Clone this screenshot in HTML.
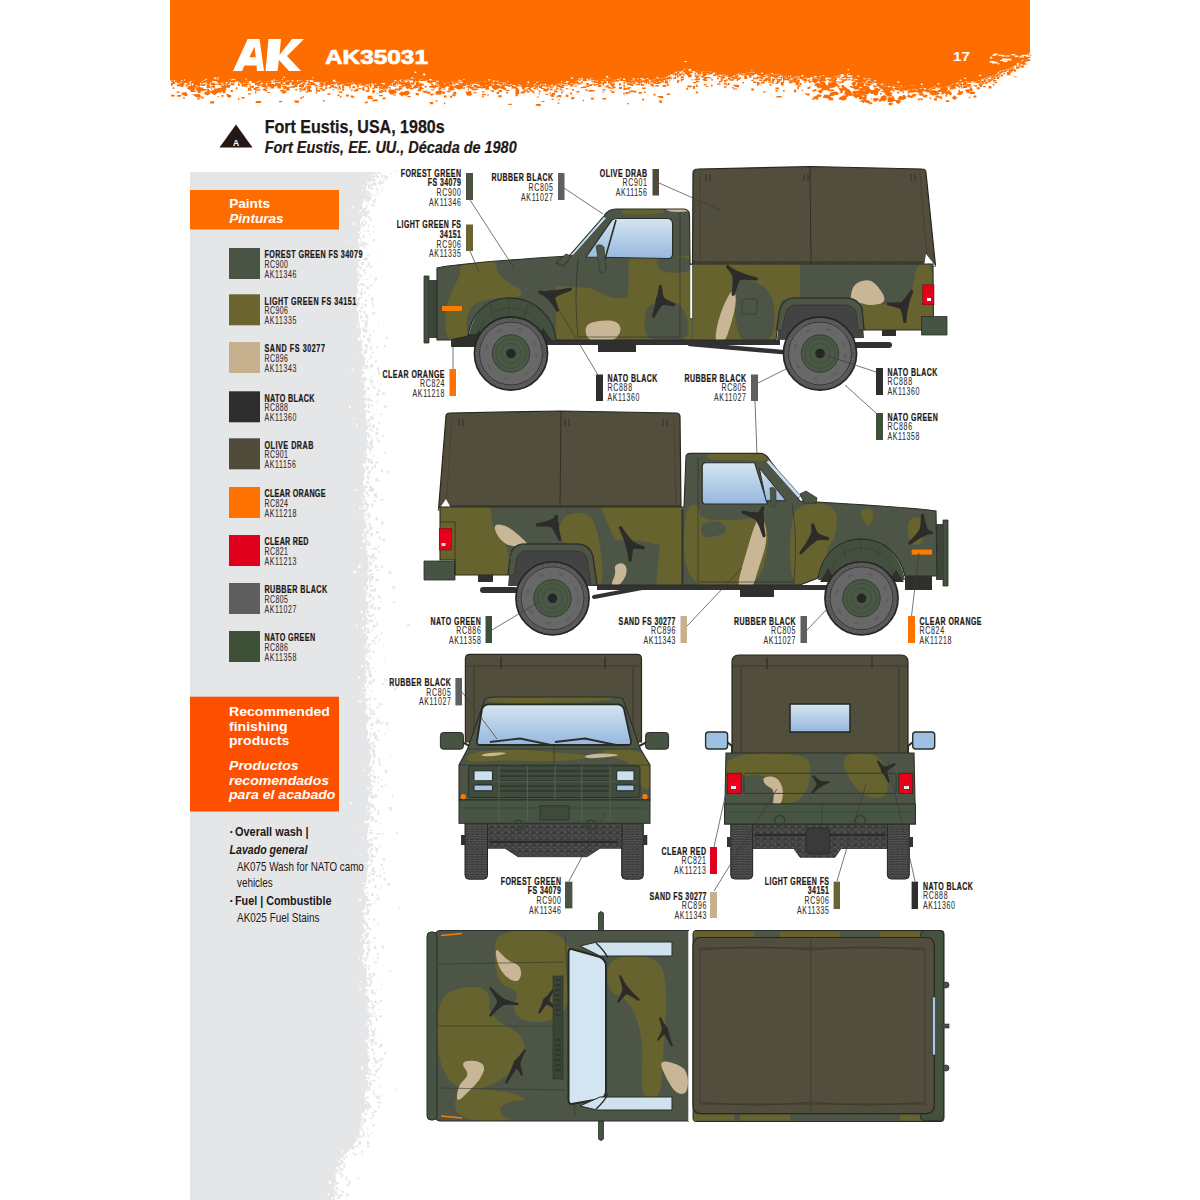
<!DOCTYPE html>
<html><head><meta charset="utf-8"><style>
html,body{margin:0;padding:0;background:#fff;width:1200px;height:1200px;overflow:hidden}
svg{display:block;font-family:"Liberation Sans",sans-serif}
</style></head><body>
<svg width="1200" height="1200" viewBox="0 0 1200 1200">
<rect width="1200" height="1200" fill="#fff"/>
<path d="M170.0,0.0 L1030.0,0.0 L1030.0,53.0 L1027.5,54.5 L1025.0,57.9 L1020.0,62.3 L1015.0,65.8 L1010.0,68.6 L1005.0,70.1 L1000.0,70.8 L995.0,74.9 L990.0,76.5 L985.0,77.9 L980.8,80.0 L976.7,81.2 L972.5,81.4 L968.3,81.1 L964.2,82.1 L960.0,83.2 L956.0,83.6 L952.0,84.4 L948.0,86.6 L944.0,87.1 L940.0,87.3 L936.0,86.0 L932.0,87.8 L928.0,87.2 L924.0,86.1 L920.0,86.3 L916.0,85.4 L912.0,85.2 L908.0,86.0 L904.0,86.3 L900.0,85.2 L895.7,85.9 L891.4,85.2 L887.1,84.3 L882.9,83.6 L878.6,83.2 L874.3,81.8 L870.0,79.2 L866.0,78.3 L862.0,78.4 L858.0,76.5 L854.0,76.0 L850.0,73.0 L846.0,74.0 L842.0,74.1 L838.0,75.8 L834.0,76.7 L830.0,77.4 L826.0,76.5 L822.0,75.4 L818.0,77.3 L814.0,76.5 L810.0,78.1 L805.7,79.1 L801.4,76.0 L797.1,76.1 L792.9,77.8 L788.6,75.9 L784.3,75.8 L780.0,74.8 L775.7,74.3 L771.4,75.1 L767.1,74.6 L762.9,75.8 L758.6,74.9 L754.3,72.3 L750.0,72.6 L746.0,73.1 L742.0,73.5 L738.0,73.7 L734.0,75.7 L730.0,77.1 L726.0,74.0 L722.0,74.4 L718.0,73.0 L714.0,72.6 L710.0,71.5 L705.8,71.2 L701.7,71.5 L697.5,70.5 L693.3,70.1 L689.2,69.2 L685.0,68.7 L681.0,71.8 L677.0,71.6 L673.0,73.9 L669.0,75.3 L665.0,77.9 L660.8,78.6 L656.7,78.8 L652.5,79.7 L648.3,77.7 L644.2,80.0 L640.0,80.4 L635.7,80.0 L631.4,80.6 L627.1,81.4 L622.9,80.2 L618.6,79.6 L614.3,79.8 L610.0,78.5 L605.7,79.1 L601.4,80.0 L597.1,79.5 L592.9,78.6 L588.6,78.5 L584.3,78.2 L580.0,78.0 L576.0,81.4 L572.0,82.2 L568.0,81.6 L564.0,82.7 L560.0,83.3 L556.0,85.2 L552.0,85.2 L548.0,85.5 L544.0,84.5 L540.0,84.3 L536.0,83.3 L532.0,85.8 L528.0,84.5 L524.0,84.1 L520.0,83.9 L515.7,85.4 L511.4,82.8 L507.1,82.6 L502.9,82.3 L498.6,82.7 L494.3,81.0 L490.0,82.5 L485.8,81.6 L481.7,81.2 L477.5,82.7 L473.3,83.1 L469.2,82.0 L465.0,82.1 L460.8,80.1 L456.7,81.8 L452.5,81.2 L448.3,82.5 L444.2,82.1 L440.0,80.9 L435.7,80.8 L431.4,80.4 L427.1,80.3 L422.9,78.7 L418.6,80.0 L414.3,78.6 L410.0,78.8 L406.0,79.7 L402.0,79.0 L398.0,81.6 L394.0,81.8 L390.0,84.8 L385.8,83.7 L381.7,82.7 L377.5,85.2 L373.3,83.0 L369.2,84.3 L365.0,84.6 L360.8,83.5 L356.7,83.6 L352.5,82.5 L348.3,83.8 L344.2,84.0 L340.0,82.4 L336.0,82.7 L332.0,82.9 L328.0,81.8 L324.0,82.0 L320.0,82.5 L316.0,80.9 L312.0,80.3 L308.0,80.1 L304.0,81.3 L300.0,80.6 L296.0,81.5 L292.0,81.4 L288.0,80.3 L284.0,82.3 L280.0,80.9 L276.0,80.5 L272.0,80.6 L268.0,81.2 L264.0,83.0 L260.0,80.6 L255.7,83.1 L251.4,81.1 L247.1,81.4 L242.9,82.2 L238.6,81.0 L234.3,79.5 L230.0,78.9 L225.7,81.3 L221.4,80.3 L217.1,79.6 L212.9,79.9 L208.6,81.2 L204.3,80.3 L200.0,82.0 L195.7,80.5 L191.4,81.3 L187.1,81.7 L182.9,80.1 L178.6,81.7 L174.3,80.1 L170.0,80.5 Z" fill="#fe6d00"/>
<path fill="#fe6d00" d="M171.0 80.4h2.1v1.9h-2.1zM171.0 82.9h2.2v2.1h-2.2zM171.0 85.2h1.5v1.1h-1.5zM171.0 94.7h3.7v1.7h-3.7zM172.5 80.3h1.5v2.1h-1.5zM172.5 81.9h2.7v2.1h-2.7zM172.5 87.6h2.3v1.1h-2.3zM174.8 80.3h2.8v1.6h-2.8zM176.8 81.1h3.5v2.2h-3.5zM176.8 84.3h3.8v2.0h-3.8zM176.8 91.4h2.6v1.5h-2.6zM179.0 81.6h1.6v2.1h-1.6zM179.0 84.9h3.0v1.5h-3.0zM180.8 80.9h2.1v0.9h-2.1zM180.8 82.5h3.1v1.6h-3.1zM180.8 83.9h3.6v1.0h-3.6zM183.0 80.2h1.9v1.2h-1.9zM183.0 81.8h1.6v1.5h-1.6zM183.0 97.5h2.0v1.2h-2.0zM184.7 80.8h3.8v1.1h-3.8zM186.6 81.5h2.8v1.8h-2.8zM186.6 83.4h3.3v1.9h-3.3zM186.6 87.4h3.1v1.2h-3.1zM188.4 81.6h1.4v1.2h-1.4zM188.4 85.9h2.5v1.5h-2.5zM188.4 87.7h3.5v1.2h-3.5zM190.7 81.4h1.8v2.1h-1.8zM190.7 83.3h1.2v1.5h-1.2zM190.7 85.1h1.6v1.3h-1.6zM190.7 90.3h3.6v1.8h-3.6zM192.5 81.1h2.2v2.1h-2.2zM192.5 90.4h3.1v1.5h-3.1zM192.5 94.2h3.6v1.1h-3.6zM193.9 80.9h1.7v2.1h-1.7zM193.9 82.8h3.6v2.2h-3.6zM193.9 84.6h1.7v1.0h-1.7zM193.9 86.3h1.8v1.2h-1.8zM195.6 80.6h3.7v2.0h-3.7zM195.6 83.0h1.3v1.8h-1.3zM195.6 87.4h2.2v2.1h-2.2zM197.1 81.0h2.9v1.3h-2.9zM197.1 82.4h2.9v1.8h-2.9zM197.1 83.7h2.6v1.7h-2.6zM197.1 85.5h2.8v0.9h-2.8zM197.1 97.8h2.5v1.8h-2.5zM197.1 91.1h3.7v2.0h-2.8zM199.2 81.8h2.5v1.2h-2.5zM199.2 84.3h3.3v1.2h-3.3zM199.2 89.3h1.8v1.4h-1.8zM199.2 95.8h1.4v1.4h-1.4zM201.3 81.5h2.9v1.4h-2.9zM201.3 83.2h1.6v0.9h-1.6zM201.3 84.8h3.7v1.1h-3.7zM201.3 87.4h2.1v2.0h-2.1zM201.3 96.6h2.3v2.0h-2.3zM202.9 80.9h3.7v1.7h-3.7zM202.9 84.1h1.2v1.9h-1.2zM202.9 89.1h1.8v1.5h-1.8zM204.5 80.4h3.2v1.0h-3.2zM204.5 83.4h1.3v1.6h-1.3zM204.5 89.1h1.5v1.5h-1.5zM206.6 80.8h1.8v1.2h-1.8zM206.6 84.2h2.2v2.2h-2.2zM206.6 86.2h3.3v1.7h-3.3zM206.6 88.7h2.4v2.0h-2.4zM208.5 81.2h1.8v1.4h-1.8zM208.5 82.6h1.9v1.7h-1.9zM208.5 84.7h1.2v1.3h-1.2zM208.5 86.9h2.0v1.2h-2.0zM208.5 90.5h2.2v1.6h-2.2zM208.5 92.6h1.6v1.8h-1.6zM210.6 80.6h1.2v2.1h-1.2zM210.6 86.0h1.2v1.6h-1.2zM210.6 101.2h3.6v2.4h-4.5zM212.8 79.9h3.2v1.2h-3.2zM212.8 84.0h1.8v1.4h-1.8zM212.8 93.0h3.4v1.1h-3.4zM214.0 79.8h2.5v1.2h-2.5zM214.0 83.9h2.4v1.0h-2.4zM214.0 88.5h2.9v1.0h-2.9zM214.0 92.7h2.5v1.4h-2.5zM216.3 79.7h3.2v2.1h-3.2zM216.3 81.0h3.2v1.1h-3.2zM216.3 83.4h3.3v1.1h-3.3zM217.6 81.8h3.3v1.2h-3.3zM217.6 87.9h3.1v1.0h-3.1zM217.6 96.0h1.3v1.1h-1.3zM217.6 83.8h3.4v1.2h-3.4zM219.1 80.0h2.7v1.2h-2.7zM219.1 82.0h1.6v2.1h-1.6zM219.1 83.6h1.4v1.7h-1.4zM221.4 80.3h1.7v1.7h-1.7zM221.4 82.3h3.3v1.1h-3.3zM221.4 83.9h1.3v2.1h-1.3zM221.4 94.9h2.1v1.9h-2.1zM223.0 80.7h3.7v1.2h-3.7zM223.0 83.1h1.9v1.2h-1.9zM224.4 81.0h1.4v2.1h-1.4zM224.4 82.4h1.5v2.1h-1.5zM224.4 84.1h1.3v1.0h-1.3zM226.4 80.9h1.5v1.0h-1.5zM226.4 83.2h2.0v1.5h-2.0zM226.4 84.4h1.9v1.8h-1.9zM226.4 86.1h3.7v1.6h-3.7zM227.6 80.2h2.5v1.9h-2.5zM227.6 81.7h2.1v2.0h-2.1zM227.6 84.8h3.0v1.5h-3.0zM229.2 79.3h1.8v1.5h-1.8zM230.7 79.0h2.6v1.1h-2.6zM230.7 80.6h3.7v1.8h-3.7zM230.7 83.3h3.8v1.9h-3.8zM230.7 90.1h2.2v1.9h-2.2zM232.4 79.2h3.1v2.0h-3.1zM234.2 80.7h1.6v1.9h-1.6zM235.9 80.0h2.1v1.2h-2.1zM235.9 87.3h1.5v1.9h-1.5zM238.1 80.8h2.2v1.2h-2.2zM238.1 82.6h1.2v1.8h-1.2zM238.1 84.2h2.0v1.5h-2.0zM238.1 97.8h1.2v2.1h-1.2zM239.8 81.3h3.6v1.9h-3.6zM241.6 81.8h1.2v2.0h-1.2zM241.6 83.7h2.9v2.0h-2.9zM241.6 85.4h3.7v1.0h-3.7zM241.6 96.9h3.1v1.7h-3.1zM243.8 82.0h3.4v1.4h-3.4zM243.8 83.9h2.5v2.2h-2.5zM245.7 81.6h3.0v1.7h-3.0zM245.7 83.8h2.9v1.5h-2.9zM245.7 86.1h1.7v0.9h-1.7zM248.0 81.3h1.2v1.4h-1.2zM248.0 87.7h2.9v1.2h-2.9zM248.0 89.1h1.2v1.8h-1.2zM248.0 93.2h3.1v1.2h-3.1zM249.5 83.4h1.2v1.7h-1.2zM249.5 85.8h2.0v1.8h-2.0zM249.5 89.1h2.2v1.6h-2.2zM251.6 81.2h2.1v1.7h-2.1zM251.6 85.8h2.3v2.1h-2.3zM253.6 82.2h2.1v1.0h-2.1zM253.6 88.1h2.8v1.8h-2.8zM255.0 82.8h2.1v1.6h-2.1zM255.0 84.6h1.6v1.0h-1.6zM255.0 87.2h1.5v1.7h-1.5zM255.0 89.5h2.8v1.3h-2.8zM255.0 91.4h1.3v2.2h-1.3zM256.3 82.8h2.6v2.0h-2.6zM256.3 87.1h2.8v1.4h-2.8zM256.3 100.9h4.8v2.0h-5.9zM257.6 82.0h3.2v2.1h-3.2zM257.6 84.2h2.7v1.9h-2.7zM257.6 85.5h1.9v1.1h-1.9zM257.6 87.4h1.8v1.1h-1.8zM257.6 89.6h3.1v1.2h-3.1zM259.1 81.2h3.1v1.6h-3.1zM259.1 84.2h1.6v1.3h-1.6zM261.3 81.4h3.1v1.3h-3.1zM261.3 84.0h3.3v1.3h-3.3zM261.3 85.4h3.4v1.6h-3.4zM262.8 82.3h3.1v1.4h-3.1zM262.8 84.5h3.3v1.3h-3.3zM262.8 88.7h3.6v1.5h-3.6zM264.4 82.8h1.4v2.0h-1.4zM264.4 85.3h2.5v1.6h-2.5zM264.4 87.3h3.7v1.2h-3.7zM264.4 88.7h1.9v2.0h-1.9zM264.4 90.0h3.0v1.2h-3.0zM265.8 82.2h3.1v1.1h-3.1zM267.3 81.5h2.8v1.4h-2.8zM267.3 83.4h2.3v1.6h-2.3zM267.3 84.6h3.7v1.9h-3.7zM267.3 91.9h2.9v1.2h-2.9zM268.7 81.1h3.7v1.6h-3.7zM268.7 82.7h2.6v1.1h-2.6zM268.7 84.0h2.0v1.4h-2.0zM268.7 85.6h1.4v1.6h-1.4zM270.5 80.8h1.9v2.2h-1.9zM270.5 83.9h3.5v1.5h-3.5zM270.5 85.2h2.3v1.9h-2.3zM270.5 86.5h3.7v1.9h-3.7zM272.8 80.6h3.2v1.7h-3.2zM272.8 84.5h3.2v2.0h-3.2zM275.1 80.5h3.4v2.0h-3.4zM275.1 83.0h2.3v2.1h-2.3zM275.1 84.3h2.7v1.5h-2.7zM277.4 80.6h2.3v1.7h-2.3zM277.4 83.2h2.6v2.0h-2.6zM277.4 84.7h3.7v2.0h-3.7zM277.4 86.6h3.5v1.8h-3.5zM279.0 80.8h1.2v1.3h-1.2zM279.0 83.2h2.9v1.2h-2.9zM279.0 100.9h3.2v1.3h-3.2zM280.4 81.1h1.5v2.1h-1.5zM280.4 83.1h2.4v1.4h-2.4zM280.4 89.7h3.6v2.0h-3.6zM281.9 81.6h2.1v1.1h-2.1zM281.9 84.2h2.7v1.0h-2.7zM281.9 86.1h2.2v1.0h-2.2zM281.9 92.2h2.9v1.3h-2.9zM283.3 84.0h2.4v1.1h-2.4zM283.3 86.2h3.5v1.7h-3.5zM283.3 87.9h2.8v1.2h-2.8zM283.3 90.3h2.5v1.6h-2.5zM283.3 91.7h2.9v1.2h-4.9zM284.9 81.9h3.6v1.9h-3.6zM284.9 85.7h1.3v1.8h-1.3zM286.1 81.3h2.9v1.1h-2.9zM286.1 83.7h3.1v1.2h-3.1zM286.1 87.2h3.4v1.9h-3.4zM286.1 88.8h3.4v1.7h-3.4zM288.5 80.5h3.1v2.0h-3.1zM288.5 82.5h1.3v1.8h-1.3zM288.5 86.8h3.2v1.0h-3.2zM290.3 81.0h3.6v1.4h-3.6zM291.6 81.3h3.8v1.9h-3.8zM291.6 82.6h3.7v1.6h-3.7zM291.6 84.0h2.3v1.1h-2.3zM291.6 86.0h3.6v1.7h-3.6zM293.7 81.5h2.2v1.6h-2.2zM293.7 84.7h2.7v1.7h-2.7zM293.7 100.6h5.4v2.2h-3.7zM295.3 81.5h2.5v1.4h-2.5zM295.3 83.2h2.9v2.0h-2.9zM295.3 85.6h2.0v1.5h-2.0zM295.3 89.1h2.0v1.5h-2.0zM297.3 81.2h2.1v2.1h-2.1zM297.3 82.5h3.0v1.5h-3.0zM299.0 80.9h2.3v2.0h-2.3zM299.0 85.1h3.8v1.8h-3.8zM299.0 88.2h3.7v1.6h-3.7zM299.0 90.5h3.2v1.0h-3.2zM300.4 80.7h2.1v1.9h-2.1zM300.4 84.2h3.1v2.1h-3.1zM300.4 86.4h2.8v1.0h-2.8zM300.4 97.1h1.5v1.9h-1.5zM302.4 81.0h3.7v0.9h-3.7zM302.4 82.7h2.5v2.0h-2.5zM302.4 85.0h1.7v2.0h-1.7zM302.4 89.1h3.4v1.4h-3.4zM302.4 96.3h1.6v1.4h-1.6zM303.6 81.3h2.9v1.3h-2.9zM303.6 82.9h1.9v1.6h-1.9zM303.6 87.4h2.7v1.9h-2.7zM305.5 80.9h1.4v1.3h-1.4zM305.5 84.4h1.8v1.2h-1.8zM305.5 86.1h1.2v2.0h-1.2zM305.5 91.4h2.0v1.3h-2.0zM307.2 80.3h1.4v1.5h-1.4zM307.2 82.8h1.9v0.9h-1.9zM307.2 84.2h3.0v1.2h-3.0zM307.2 86.0h2.8v2.0h-2.8zM307.2 88.1h3.1v2.2h-3.1zM307.2 90.1h3.3v2.0h-3.3zM308.5 80.1h1.3v1.7h-1.3zM308.5 81.8h2.8v1.2h-2.8zM308.5 83.6h3.6v1.6h-3.6zM308.5 86.2h2.8v1.8h-2.8zM308.5 87.9h1.6v1.1h-1.6zM308.5 90.1h3.3v1.5h-3.3zM310.6 82.0h2.6v2.1h-2.6zM310.6 83.4h2.4v1.8h-2.4zM310.6 90.6h1.3v1.1h-1.3zM313.0 80.4h2.9v1.3h-2.9zM313.0 82.8h2.0v2.1h-2.0zM314.4 80.7h3.5v1.2h-3.5zM314.4 84.5h2.5v2.1h-2.5zM315.7 80.9h3.0v1.0h-3.0zM315.7 87.3h1.8v1.9h-1.8zM315.7 89.5h2.5v1.2h-2.5zM315.7 91.3h1.3v2.2h-1.3zM317.1 85.4h1.9v1.0h-1.9zM317.1 90.1h3.0v1.7h-3.0zM319.5 82.4h2.8v2.1h-2.8zM319.5 83.9h2.2v1.2h-2.2zM319.5 85.4h3.4v1.9h-3.4zM319.5 87.9h3.0v1.3h-3.0zM321.6 82.3h2.8v1.6h-2.8zM321.6 83.8h1.9v2.1h-1.9zM321.6 89.1h3.6v1.6h-3.6zM322.9 82.1h1.5v1.4h-1.5zM322.9 84.5h2.4v1.0h-2.4zM322.9 100.0h1.7v1.6h-1.7zM325.1 81.9h2.9v2.0h-2.9zM325.1 83.4h3.3v1.7h-3.3zM325.1 85.1h2.4v1.4h-2.4zM325.1 87.3h2.3v1.7h-2.3zM327.4 81.9h1.3v1.7h-1.3zM327.4 83.7h3.4v1.4h-3.4zM327.4 93.2h3.0v1.6h-3.0zM328.7 82.0h2.3v1.7h-2.3zM328.7 87.0h2.1v1.6h-2.1zM330.4 82.5h2.7v1.4h-2.7zM330.4 84.8h3.6v1.6h-3.6zM330.4 86.1h2.6v1.4h-2.6zM332.8 82.8h3.3v1.5h-3.3zM332.8 86.6h3.4v1.1h-3.4zM332.8 89.1h1.5v1.0h-1.5zM335.1 82.7h3.4v1.1h-3.4zM335.1 86.8h2.2v1.7h-2.2zM337.4 82.6h2.5v2.0h-2.5zM337.4 84.6h1.4v1.1h-1.4zM337.4 88.6h3.6v0.9h-3.6zM337.4 94.4h2.1v1.5h-2.1zM338.6 82.5h1.5v1.7h-1.5zM338.6 83.9h2.1v1.4h-2.1zM338.6 86.0h1.6v2.1h-1.6zM338.6 91.5h3.5v1.1h-3.5zM339.8 82.4h2.5v1.9h-2.5zM339.8 87.3h1.3v1.4h-1.3zM339.8 91.7h2.7v1.2h-2.7zM339.8 95.9h1.8v1.7h-1.8zM342.1 83.2h3.6v1.4h-3.6zM342.1 85.0h1.8v1.9h-1.8zM342.1 87.1h2.1v1.1h-2.1zM342.1 88.6h2.1v2.2h-2.1zM344.2 84.0h3.4v2.1h-3.4zM346.0 83.9h2.5v2.1h-2.5zM346.0 94.4h2.9v2.0h-2.9zM347.6 83.8h2.8v1.3h-2.8zM347.6 85.1h3.0v1.5h-3.0zM349.4 83.4h1.7v2.1h-1.7zM349.4 86.8h1.5v1.6h-1.5zM350.7 83.0h3.0v1.6h-3.0zM350.7 89.6h2.0v1.1h-2.0zM350.7 95.5h2.2v1.9h-2.2zM352.4 86.3h2.7v2.0h-2.7zM352.4 96.3h2.0v1.4h-2.0zM354.0 82.9h3.7v1.2h-3.7zM354.0 89.9h3.2v1.5h-3.2zM355.5 83.3h1.4v1.6h-1.4zM355.5 88.7h2.9v2.2h-2.9zM356.8 83.6h2.5v2.0h-2.5zM356.8 85.7h2.2v1.6h-2.2zM358.4 83.5h1.8v1.0h-1.8zM358.4 88.0h3.0v1.0h-3.0zM360.5 83.5h1.3v1.9h-1.3zM360.5 84.7h2.3v1.0h-2.3zM362.1 83.8h2.2v1.3h-2.2zM362.1 87.2h1.7v1.8h-1.7zM362.1 88.7h2.7v1.8h-2.7zM363.4 84.2h2.1v2.1h-2.1zM363.4 86.5h1.5v1.0h-1.5zM365.6 84.6h1.5v0.9h-1.5zM365.6 86.1h2.2v0.9h-2.2zM365.6 90.3h3.5v1.6h-3.5zM365.6 101.6h2.2v1.7h-3.6zM367.6 84.4h1.8v1.7h-1.8zM367.6 86.6h1.6v2.1h-1.6zM367.6 88.6h1.8v2.2h-1.8zM367.6 95.8h3.7v1.9h-3.7zM367.6 97.0h1.8v2.1h-1.8zM369.9 84.0h1.7v1.9h-1.7zM369.9 85.5h1.5v1.9h-1.5zM369.9 96.3h2.6v1.3h-2.6zM369.9 98.1h3.1v0.9h-3.1zM372.3 83.3h2.1v1.0h-2.1zM372.3 87.9h2.2v1.3h-2.2zM372.3 90.2h2.8v2.2h-2.8zM372.3 92.5h1.4v1.0h-1.4zM372.3 99.6h5.4v1.6h-5.5zM373.7 83.2h2.3v1.8h-2.3zM373.7 84.8h2.1v1.3h-2.1zM373.7 86.1h3.8v1.8h-3.8zM375.3 84.1h2.2v1.6h-2.2zM375.3 86.6h2.6v1.7h-2.6zM376.5 84.7h1.7v1.2h-1.7zM376.5 92.9h1.4v0.9h-1.4zM378.9 84.4h3.4v0.9h-3.4zM378.9 86.7h3.4v1.9h-3.4zM378.9 88.9h1.2v1.1h-1.2zM378.9 91.3h2.9v1.7h-2.9zM378.9 94.9h3.8v1.4h-3.8zM380.4 83.5h1.9v1.4h-1.9zM380.4 85.7h1.7v1.2h-1.7zM380.4 87.5h2.9v1.5h-2.9zM380.4 89.9h2.9v2.0h-2.9zM380.4 91.4h2.3v1.1h-2.3zM382.6 85.3h3.7v1.6h-3.7zM382.6 86.8h3.4v1.2h-3.4zM382.6 88.2h3.6v1.5h-3.6zM382.6 90.4h2.4v1.3h-2.4zM382.6 97.6h2.9v1.6h-2.9zM384.9 83.5h3.4v1.4h-3.4zM384.9 85.9h1.8v1.7h-1.8zM384.9 88.4h1.8v0.9h-1.8zM384.9 90.2h1.7v1.9h-1.7zM386.4 85.5h2.1v1.8h-2.1zM386.4 86.7h1.6v2.0h-1.6zM388.7 84.4h3.6v1.4h-3.6zM388.7 87.1h2.0v1.3h-2.0zM390.8 84.2h1.8v1.4h-1.8zM392.9 82.6h2.9v1.9h-2.9zM392.9 84.0h1.8v1.2h-1.8zM392.9 85.2h2.3v1.4h-2.3zM392.9 94.5h3.0v1.1h-3.0zM395.0 81.7h3.4v2.0h-3.4zM395.0 83.7h1.2v1.6h-1.2zM395.0 85.9h1.4v0.9h-1.4zM395.0 88.6h1.9v1.8h-1.9zM395.0 91.2h1.5v2.1h-1.5zM397.1 81.6h2.5v1.1h-2.5zM397.1 84.1h1.3v1.1h-1.3zM397.1 88.5h3.3v1.9h-3.3zM399.0 81.0h1.3v1.8h-1.3zM399.0 82.5h2.9v1.8h-2.9zM399.0 86.0h2.9v1.2h-2.9zM399.0 87.4h3.2v2.0h-3.2zM400.8 79.8h3.1v1.6h-3.1zM400.8 82.1h1.4v1.4h-1.4zM400.8 84.0h2.9v1.2h-2.9zM402.1 79.0h3.2v1.5h-3.2zM402.1 80.3h1.4v2.2h-1.4zM402.1 81.6h3.2v1.1h-3.2zM402.1 83.0h1.6v1.6h-1.6zM402.1 85.3h1.7v1.9h-1.7zM403.5 82.3h1.9v1.5h-1.9zM403.5 84.9h3.4v1.3h-3.4zM405.2 79.6h2.2v1.0h-2.2zM407.4 79.4h3.5v1.1h-3.5zM407.4 96.0h3.3v1.2h-3.3zM408.9 79.0h3.5v1.5h-3.5zM408.9 85.1h2.7v2.0h-2.7zM410.8 78.8h3.3v1.4h-3.3zM410.8 82.6h3.5v2.2h-3.5zM412.9 78.7h2.1v2.1h-2.1zM412.9 80.2h2.5v2.1h-2.5zM412.9 86.5h2.8v1.9h-2.8zM414.3 78.7h3.1v1.9h-3.1zM414.3 84.9h3.7v1.5h-3.7zM414.3 86.3h3.3v1.8h-3.3zM415.7 79.1h2.3v2.2h-2.3zM415.7 82.8h2.7v1.1h-2.7zM415.7 84.3h3.0v2.2h-3.0zM415.7 93.4h3.4v1.8h-3.4zM417.8 79.7h1.6v1.4h-1.6zM417.8 89.3h3.5v1.9h-3.5zM420.0 79.6h2.2v1.4h-2.2zM420.0 83.2h2.1v2.0h-2.1zM420.0 85.9h1.4v1.9h-1.4zM422.2 78.9h2.8v2.2h-2.8zM422.2 80.2h1.5v0.9h-1.5zM422.2 83.7h1.7v1.7h-1.7zM422.2 90.8h5.2v1.9h-3.8zM424.5 79.3h2.1v1.4h-2.1zM424.5 85.7h2.2v1.8h-2.2zM426.8 80.2h3.2v2.0h-3.2zM426.8 91.8h3.6v1.9h-3.6zM429.0 80.4h3.1v1.2h-3.1zM429.0 86.1h2.9v1.3h-2.9zM429.0 102.1h4.2v2.1h-2.5zM431.0 80.4h1.8v2.0h-1.8zM431.0 81.7h1.4v2.0h-1.4zM431.0 84.1h2.4v1.5h-2.4zM431.0 89.5h3.3v1.1h-3.3zM432.9 80.6h3.4v1.5h-3.4zM432.9 86.5h2.4v2.0h-2.4zM435.3 82.2h3.7v1.4h-3.7zM435.3 84.1h1.3v1.2h-1.3zM435.3 85.5h2.8v1.6h-2.8zM435.3 100.4h2.6v1.2h-2.6zM437.3 80.8h3.8v1.8h-3.8zM437.3 83.0h1.3v1.5h-1.3zM437.3 85.6h2.7v0.9h-2.7zM438.6 80.9h1.9v1.1h-1.9zM438.6 82.6h3.7v2.2h-3.7zM438.6 87.3h3.1v1.6h-3.1zM440.8 81.1h1.4v1.5h-1.4zM440.8 82.9h3.2v1.2h-3.2zM440.8 90.8h1.4v1.3h-1.4zM442.1 81.5h3.4v1.7h-3.4zM442.1 82.9h1.4v1.6h-1.4zM442.1 84.6h3.1v1.8h-3.1zM442.1 86.5h2.9v1.5h-2.9zM442.1 88.6h3.5v0.9h-3.5zM442.1 91.6h3.0v2.2h-3.0zM443.9 82.0h2.9v1.5h-2.9zM443.9 84.3h3.6v2.0h-3.6zM443.9 86.2h2.5v1.1h-2.5zM443.9 95.6h2.7v1.8h-2.7zM443.9 102.4h1.4v1.8h-1.4zM445.2 82.2h3.1v1.0h-3.1zM445.2 83.9h1.2v1.0h-1.2zM446.8 82.4h2.5v1.4h-2.5zM446.8 84.5h2.6v1.3h-2.6zM448.3 82.5h2.9v1.8h-2.9zM448.3 86.2h2.1v0.9h-2.1zM450.0 82.0h2.0v2.2h-2.0zM450.0 83.4h1.9v2.1h-1.9zM450.0 85.8h3.4v2.1h-3.4zM450.0 87.6h3.2v1.4h-3.2zM450.0 95.8h2.2v1.9h-2.2zM452.3 81.2h2.7v1.6h-2.7zM452.3 82.9h2.0v1.7h-2.0zM452.3 86.3h2.0v1.4h-2.0zM452.3 94.2h3.3v2.0h-3.3zM454.4 81.5h1.9v1.9h-1.9zM454.4 84.6h1.8v0.9h-1.8zM454.4 86.0h2.2v1.5h-2.2zM455.8 81.7h2.6v1.3h-2.6zM455.8 85.0h3.7v1.4h-3.7zM455.8 86.8h2.9v1.8h-2.9zM457.7 81.4h2.8v1.1h-2.8zM457.7 83.3h2.6v1.1h-2.6zM457.7 86.6h3.0v1.6h-3.0zM459.8 80.5h3.4v1.1h-3.4zM459.8 82.9h1.2v2.1h-1.2zM462.0 80.6h3.6v2.0h-3.6zM462.0 82.9h1.4v2.1h-1.4zM462.0 87.3h3.0v1.5h-3.0zM463.2 81.2h3.1v2.0h-3.1zM463.2 82.9h2.1v1.9h-2.1zM463.2 85.1h2.6v1.1h-2.6zM465.2 82.1h3.2v1.3h-3.2zM466.4 82.1h1.7v0.9h-1.7zM466.4 84.4h2.6v1.2h-2.6zM466.4 86.6h3.1v1.2h-3.1zM467.9 82.0h2.2v1.9h-2.2zM467.9 84.3h1.8v0.9h-1.8zM467.9 85.9h3.0v1.9h-3.0zM467.9 88.5h1.3v1.9h-1.3zM469.7 82.2h1.8v1.6h-1.8zM469.7 84.6h2.2v2.0h-2.2zM469.7 87.1h2.8v1.7h-2.8zM471.5 82.7h1.5v1.9h-1.5zM471.5 86.9h2.2v1.6h-2.2zM471.5 88.7h2.6v1.3h-2.6zM473.3 83.1h1.9v1.1h-1.9zM473.3 85.1h3.6v2.1h-3.6zM473.3 88.4h2.4v2.1h-2.4zM473.3 92.2h3.6v1.0h-3.6zM475.5 82.9h3.1v1.0h-3.1zM475.5 85.4h2.8v2.0h-2.8zM475.5 86.8h3.0v1.7h-3.0zM475.5 89.0h2.5v1.1h-2.5zM477.9 82.6h3.8v2.1h-3.8zM477.9 86.2h3.8v1.7h-3.8zM479.9 81.8h2.9v1.4h-2.9zM479.9 83.8h1.7v2.1h-1.7zM482.1 81.2h1.6v1.1h-1.6zM482.1 83.2h2.1v1.0h-2.1zM482.1 91.2h2.3v1.4h-2.3zM482.1 94.1h3.7v1.2h-3.7zM482.1 95.7h1.5v1.8h-1.5zM483.5 81.4h1.3v1.8h-1.3zM485.4 81.5h3.6v1.9h-3.6zM485.4 83.4h3.2v1.3h-3.2zM485.4 87.0h3.0v2.1h-3.0zM485.4 88.4h2.5v1.3h-2.5zM486.9 81.8h2.5v1.4h-2.5zM486.9 83.9h2.0v1.7h-2.0zM486.9 86.5h2.1v0.9h-2.1zM486.9 87.8h2.3v2.0h-2.3zM486.9 94.4h2.2v1.2h-2.2zM488.3 82.1h3.5v2.2h-3.5zM488.3 84.4h3.5v1.8h-3.5zM490.3 84.5h2.8v1.6h-2.8zM490.3 90.3h3.3v0.9h-3.3zM491.9 81.8h1.7v1.6h-1.7zM491.9 85.3h2.5v2.1h-2.5zM491.9 91.0h2.1v1.1h-2.1zM493.1 81.4h3.3v1.0h-3.3zM494.5 81.1h3.2v1.3h-3.2zM494.5 82.4h3.2v1.5h-3.2zM494.5 84.8h1.5v1.4h-1.5zM494.5 87.2h1.4v1.9h-1.4zM496.6 81.9h2.0v1.3h-2.0zM496.6 86.2h3.6v2.1h-3.6zM496.6 92.0h2.5v1.9h-2.5zM498.4 82.7h2.4v1.5h-2.4zM498.4 90.2h3.6v1.7h-3.6zM498.4 95.2h3.4v2.0h-3.4zM500.0 82.6h2.7v2.1h-2.7zM500.0 86.8h1.4v1.6h-1.4zM501.7 82.4h3.5v1.2h-3.5zM501.7 84.7h2.6v1.6h-2.6zM501.7 86.0h2.9v1.8h-2.9zM503.8 82.4h2.9v1.4h-2.9zM503.8 84.3h3.7v1.8h-3.7zM506.2 82.5h3.5v0.9h-3.5zM506.2 84.5h3.2v1.3h-3.2zM506.2 89.8h3.2v1.2h-3.2zM506.2 91.7h1.9v1.8h-1.9zM508.3 82.6h1.6v1.9h-1.6zM508.3 85.4h1.9v1.6h-1.9zM508.3 103.8h3.5v1.3h-3.5zM509.9 82.7h1.7v1.2h-1.7zM509.9 84.7h2.0v1.6h-2.0zM511.4 82.8h2.3v2.2h-2.3zM511.4 85.5h1.5v1.1h-1.5zM511.4 87.5h3.3v1.0h-3.3zM513.5 84.0h2.8v1.0h-2.8zM513.5 86.6h3.2v1.8h-3.2zM515.5 85.3h2.8v0.9h-2.8zM515.5 87.8h2.7v2.0h-2.7zM515.5 89.3h3.6v1.3h-3.6zM515.5 90.6h3.8v1.9h-3.8zM515.5 92.1h3.5v1.8h-3.5zM515.5 94.1h2.3v2.1h-2.3zM517.1 84.9h2.4v1.7h-2.4zM517.1 91.4h1.2v1.3h-1.2zM517.1 93.0h2.3v0.9h-2.3zM519.4 84.1h1.7v1.0h-1.7zM520.6 83.9h2.2v1.5h-2.2zM520.6 86.0h1.8v0.9h-1.8zM520.6 91.6h3.5v2.0h-3.5zM521.9 84.0h1.4v2.0h-1.4zM521.9 86.1h3.5v2.1h-3.5zM521.9 88.2h2.7v1.4h-2.7zM521.9 92.0h1.8v1.3h-1.8zM523.2 84.1h2.7v1.1h-2.7zM523.2 85.7h3.5v1.6h-3.5zM523.2 90.3h2.3v2.1h-2.3zM523.2 91.7h1.5v1.2h-1.5zM524.5 84.2h2.1v1.8h-2.1zM524.5 86.0h1.7v1.1h-1.7zM524.5 89.7h3.0v1.5h-3.0zM526.7 84.4h2.3v1.2h-2.3zM526.7 88.6h3.8v1.2h-3.8zM526.7 91.0h2.9v1.4h-2.9zM528.2 84.5h2.8v1.8h-2.8zM528.2 86.5h3.5v1.0h-3.5zM528.2 87.9h2.5v1.5h-2.5zM529.6 85.0h2.2v1.1h-2.2zM529.6 86.7h2.6v1.4h-2.6zM529.6 89.1h2.1v2.1h-2.1zM531.7 85.7h2.2v1.3h-2.2zM531.7 90.6h2.5v1.9h-2.5zM533.5 84.9h2.3v1.6h-2.3zM533.5 87.5h2.9v1.7h-2.9zM533.5 92.4h1.2v1.2h-1.2zM535.3 83.8h2.1v2.0h-2.1zM535.3 85.9h2.7v1.9h-2.7zM535.3 104.1h5.4v1.8h-3.8zM536.9 83.6h2.1v2.2h-2.1zM536.9 88.5h1.5v1.3h-1.5zM536.9 96.5h1.9v1.0h-1.9zM538.7 84.0h1.3v1.5h-1.3zM538.7 86.1h3.4v2.0h-3.4zM538.7 90.4h1.9v1.9h-1.9zM538.7 92.9h1.2v1.4h-1.2zM541.0 84.4h2.2v2.2h-2.2zM541.0 87.9h3.7v1.2h-3.7zM541.0 100.9h3.4v1.2h-2.3zM543.4 84.5h2.4v1.9h-2.4zM543.4 89.0h2.5v2.2h-2.5zM545.4 84.9h1.9v1.9h-1.9zM545.4 88.7h3.2v1.7h-3.2zM545.4 90.4h2.3v1.2h-2.3zM545.4 93.9h3.0v1.0h-3.0zM547.2 85.3h1.5v1.9h-1.5zM547.2 87.4h1.5v1.7h-1.5zM549.5 85.3h2.9v2.0h-2.9zM549.5 86.8h3.8v1.0h-3.8zM549.5 88.5h3.1v1.7h-3.1zM549.5 92.2h1.3v1.5h-1.3zM549.5 94.7h4.4v2.2h-2.4zM551.6 85.2h2.6v1.4h-2.6zM551.6 93.1h3.4v1.8h-3.4zM551.6 98.7h2.1v1.4h-2.1zM553.8 85.2h1.2v1.0h-1.2zM553.8 89.5h3.4v1.1h-3.4zM553.8 91.1h3.8v1.4h-3.8zM556.2 85.1h3.0v1.6h-3.0zM556.2 87.4h2.3v1.9h-2.3zM556.2 96.5h2.0v1.1h-2.0zM557.6 84.5h2.8v2.1h-2.8zM557.6 85.9h2.5v1.0h-2.5zM557.6 95.1h3.7v1.9h-3.7zM557.6 99.4h2.5v0.9h-2.5zM557.6 102.5h1.9v1.2h-1.9zM559.7 83.5h1.2v1.2h-1.2zM559.7 86.0h1.7v2.0h-1.7zM559.7 88.4h2.5v1.6h-2.5zM559.7 95.6h1.2v2.0h-1.2zM561.2 83.2h3.0v1.2h-3.0zM561.2 84.9h3.3v1.1h-3.3zM561.2 86.3h2.9v1.7h-2.9zM561.2 90.5h2.6v1.1h-2.6zM561.2 92.0h1.4v1.4h-1.4zM563.5 82.8h2.3v1.6h-2.3zM565.7 82.3h2.9v1.5h-2.9zM565.7 84.8h2.1v0.9h-2.1zM565.7 88.3h2.5v1.0h-2.5zM565.7 94.7h2.7v2.2h-2.7zM568.0 81.6h2.7v2.2h-2.7zM568.0 83.7h3.4v1.3h-3.4zM570.2 81.9h3.5v1.4h-3.5zM570.2 84.2h3.5v1.5h-3.5zM570.2 85.8h2.5v1.0h-2.5zM570.2 92.5h1.9v2.1h-1.9zM571.9 82.1h3.1v1.6h-3.1zM571.9 88.9h2.2v1.5h-2.2zM571.9 97.1h2.4v2.1h-3.7zM574.2 81.7h3.5v1.2h-3.5zM574.2 83.0h1.4v1.4h-1.4zM574.2 85.5h3.1v0.9h-3.1zM576.6 80.8h1.5v1.2h-1.5zM576.6 82.2h2.8v2.0h-2.8zM576.6 83.4h3.7v1.2h-3.7zM576.6 90.9h2.8v1.7h-2.8zM578.5 79.2h2.2v1.5h-2.2zM578.5 83.3h2.7v1.3h-2.7zM580.8 78.0h1.4v1.7h-1.4zM580.8 81.4h2.3v1.8h-2.3zM580.8 87.1h1.8v1.2h-1.8zM582.7 78.1h3.6v1.9h-3.6zM582.7 79.4h3.0v1.7h-3.0zM582.7 86.4h3.6v1.6h-3.6zM582.7 99.7h1.4v1.6h-1.4zM584.9 78.2h2.7v1.1h-2.7zM584.9 79.9h2.4v1.0h-2.4zM584.9 89.6h3.0v1.1h-3.0zM586.3 78.3h2.9v1.0h-2.9zM586.3 83.1h2.5v2.0h-2.5zM586.3 85.4h3.0v1.7h-3.0zM588.6 78.5h1.6v2.0h-1.6zM588.6 84.4h3.4v1.6h-3.4zM588.6 90.0h3.5v1.8h-3.5zM590.9 78.6h3.7v1.3h-3.7zM590.9 80.5h2.1v1.0h-2.1zM590.9 89.9h3.7v1.7h-3.7zM590.9 97.8h3.2v1.7h-3.2zM592.5 78.6h3.7v1.2h-3.7zM592.5 80.7h2.7v1.9h-2.7zM592.5 83.7h3.3v1.1h-5.8zM594.2 78.9h3.4v1.6h-3.4zM594.2 81.0h2.4v2.1h-2.4zM594.2 84.4h1.6v1.6h-1.6zM596.2 79.3h3.0v1.4h-3.0zM596.2 81.8h2.3v1.3h-2.3zM596.2 83.8h2.9v1.4h-2.9zM598.1 79.6h3.3v1.8h-3.3zM598.1 81.4h2.9v1.5h-2.9zM598.1 82.8h3.7v1.4h-3.7zM598.1 84.9h3.2v2.0h-3.2zM600.1 79.8h2.3v1.1h-2.3zM600.1 81.8h1.5v2.0h-1.5zM602.4 79.8h2.6v1.4h-2.6zM602.4 81.7h3.5v1.7h-3.5zM602.4 83.4h1.7v2.1h-1.7zM602.4 89.3h3.1v1.1h-3.1zM602.4 91.3h1.3v1.1h-1.3zM602.4 97.9h3.7v1.5h-3.7zM603.9 79.5h1.4v1.7h-1.4zM603.9 81.0h1.7v1.8h-1.7zM605.5 79.2h2.9v1.6h-2.9zM605.5 81.6h1.2v1.5h-1.2zM605.5 85.8h3.2v1.8h-3.2zM606.9 79.0h3.5v2.0h-3.5zM606.9 85.2h2.1v1.6h-2.1zM608.1 78.8h1.6v2.0h-1.6zM608.1 80.7h1.9v1.6h-1.9zM608.1 82.2h3.6v1.5h-3.6zM608.1 87.1h2.6v1.3h-2.6zM610.2 78.6h1.9v1.7h-1.9zM610.2 80.3h2.6v1.8h-2.6zM610.2 83.2h3.4v2.2h-3.4zM610.2 87.6h3.2v1.1h-3.2zM610.2 89.9h1.5v1.4h-1.5zM611.6 79.0h1.8v1.2h-1.8zM611.6 81.0h3.2v1.6h-3.2zM611.6 83.4h3.4v1.6h-3.4zM611.6 85.5h3.0v1.4h-3.0zM611.6 91.3h2.8v1.6h-2.8zM613.1 79.4h3.5v1.4h-3.5zM613.1 86.7h2.5v1.5h-2.5zM615.2 79.7h2.4v2.1h-2.4zM617.0 79.7h1.9v2.0h-1.9zM618.9 79.7h2.1v1.1h-2.1zM618.9 83.3h1.8v1.5h-1.8zM618.9 84.5h2.4v1.1h-2.4zM618.9 87.0h3.1v1.9h-3.1zM621.0 79.9h3.4v1.0h-3.4zM623.4 80.3h1.4v1.2h-1.4zM623.4 82.2h1.9v1.5h-1.9zM623.4 84.4h1.5v1.3h-1.5zM623.4 85.7h1.5v1.9h-1.5zM623.4 88.1h3.3v2.0h-3.3zM623.4 92.6h1.3v2.1h-1.3zM625.6 80.9h3.0v1.7h-3.0zM625.6 91.9h2.6v2.0h-2.6zM626.9 81.3h2.0v1.4h-2.0zM626.9 83.2h3.8v1.9h-3.8zM626.9 87.4h2.8v2.1h-2.8zM626.9 102.9h1.7v1.3h-1.7zM628.3 81.1h2.3v1.2h-2.3zM628.3 83.3h1.3v2.0h-1.3zM628.3 87.2h3.0v1.1h-3.0zM628.3 91.7h1.9v1.5h-1.9zM629.6 80.9h1.7v2.1h-1.7zM629.6 83.2h3.7v1.1h-3.7zM629.6 84.6h3.3v1.0h-3.3zM629.6 90.5h3.1v1.6h-3.1zM631.0 80.6h2.9v1.8h-2.9zM631.0 84.3h2.5v1.7h-2.5zM631.0 90.6h2.6v1.4h-2.6zM633.4 80.3h2.9v1.3h-2.9zM633.4 81.7h2.3v2.1h-2.3zM633.4 90.7h3.0v1.8h-3.0zM635.6 80.1h2.5v1.9h-2.5zM635.6 83.9h1.7v1.1h-1.7zM637.4 80.2h3.8v1.0h-3.8zM637.4 81.6h2.6v2.1h-2.6zM637.4 83.9h2.6v1.4h-2.6zM638.6 80.3h1.7v1.4h-1.7zM638.6 82.5h3.5v1.0h-3.5zM638.6 92.0h3.2v1.7h-3.2zM640.6 80.3h2.3v1.5h-2.3zM640.6 81.7h1.9v1.1h-1.9zM640.6 84.1h3.5v1.6h-3.5zM642.1 80.2h2.5v1.9h-2.5zM642.1 87.5h3.7v1.4h-3.7zM642.1 98.8h2.1v1.6h-2.1zM643.9 80.1h3.4v1.1h-3.4zM643.9 81.6h2.5v1.5h-2.5zM643.9 91.6h1.7v1.5h-1.7zM646.0 79.0h2.5v1.2h-2.5zM646.0 80.3h3.1v1.6h-3.1zM646.0 81.7h1.4v2.1h-1.4zM648.2 77.7h3.7v1.7h-3.7zM648.2 82.1h1.5v2.1h-1.5zM650.3 78.6h2.3v1.5h-2.3zM650.3 80.4h3.2v2.0h-3.2zM650.3 83.6h3.0v1.9h-3.0zM651.5 79.2h1.2v1.6h-1.2zM651.5 81.2h2.6v0.9h-2.6zM651.5 84.9h2.9v1.6h-2.9zM653.4 79.5h2.1v1.7h-2.1zM653.4 81.7h3.0v2.1h-3.0zM653.4 93.8h2.2v1.6h-2.2zM655.5 79.1h3.2v1.7h-3.2zM655.5 80.4h2.5v1.9h-2.5zM655.5 82.9h3.4v1.2h-3.4zM655.5 85.0h3.3v1.5h-3.3zM657.2 78.8h3.0v2.1h-3.0zM657.2 80.1h1.5v1.3h-1.5zM657.2 81.5h2.1v1.8h-2.1zM657.2 96.0h6.0v1.9h-3.5zM658.8 78.7h3.7v1.4h-3.7zM658.8 82.0h2.0v1.8h-2.0zM658.8 100.6h3.2v2.4h-2.1zM660.4 78.6h3.0v1.8h-3.0zM660.4 80.5h3.4v1.9h-3.4zM662.7 78.3h3.5v1.6h-3.5zM662.7 84.9h3.4v2.0h-3.4zM664.8 77.9h3.0v1.4h-3.0zM664.8 80.2h2.9v2.2h-2.9zM664.8 81.8h3.5v1.6h-3.5zM666.8 76.7h3.2v2.0h-3.2zM666.8 78.5h1.8v1.2h-1.8zM666.8 84.1h2.1v1.6h-2.1zM666.8 93.5h3.4v1.6h-3.4zM669.1 75.3h2.8v0.9h-2.8zM669.1 77.3h2.7v2.0h-2.7zM669.1 80.3h1.3v1.0h-1.3zM670.8 74.7h1.4v1.4h-1.4zM672.9 73.9h2.5v1.1h-2.5zM672.9 77.5h2.0v1.3h-2.0zM674.8 72.9h3.6v1.8h-3.6zM674.8 74.8h1.4v1.6h-1.4zM674.8 77.0h1.5v1.8h-1.5zM677.0 71.6h3.1v1.9h-3.1zM677.0 75.0h1.6v1.7h-1.6zM677.0 76.5h1.6v1.1h-1.6zM677.0 80.3h2.6v1.2h-2.6zM677.0 81.6h1.6v1.4h-1.6zM679.1 71.7h3.5v2.0h-3.5zM679.1 73.5h3.4v1.4h-3.4zM679.1 75.1h1.7v1.1h-1.7zM680.8 76.3h3.0v1.8h-3.0zM680.8 78.4h3.0v1.9h-3.0zM680.8 79.9h1.4v1.6h-1.4zM683.0 70.3h2.8v2.0h-2.8zM683.0 73.8h1.6v1.7h-1.6zM684.6 69.0h3.4v1.9h-3.4zM684.6 70.8h3.8v2.1h-3.8zM684.6 72.8h3.5v1.0h-3.5zM686.3 68.8h2.4v1.1h-2.4zM686.3 70.7h3.1v1.2h-3.1zM686.3 73.2h2.8v1.7h-2.8zM686.3 88.1h1.5v2.0h-1.5zM686.3 74.3h5.3v2.1h-2.8zM687.9 69.0h2.0v1.6h-2.0zM687.9 71.3h3.4v2.2h-3.4zM687.9 73.3h1.5v1.8h-1.5zM687.9 75.9h3.8v1.4h-3.8zM687.9 85.5h3.8v1.8h-5.4zM689.2 69.2h2.0v1.9h-2.0zM689.2 71.4h1.6v1.9h-1.6zM691.3 69.7h3.5v1.2h-3.5zM691.3 71.6h1.6v1.3h-1.6zM691.3 79.4h2.1v0.9h-2.1zM692.9 70.0h3.4v1.0h-3.4zM692.9 82.0h3.6v1.2h-3.6zM692.9 85.8h2.3v1.7h-2.3zM692.9 87.1h1.9v2.0h-1.9zM694.6 70.2h1.8v1.5h-1.8zM694.6 72.5h1.3v1.4h-1.3zM694.6 74.5h2.2v1.6h-2.2zM694.6 76.2h3.5v1.0h-3.5zM694.6 78.7h2.6v1.6h-2.6zM696.0 70.4h3.0v2.1h-3.0zM696.0 76.8h1.9v1.8h-1.9zM696.0 80.8h3.3v1.2h-3.3zM696.0 84.8h1.8v1.9h-1.8zM696.0 91.6h2.2v1.6h-2.2zM697.3 70.5h1.9v1.4h-1.9zM697.3 72.3h1.6v1.8h-1.6zM697.3 74.4h3.7v1.0h-3.7zM697.3 75.9h2.1v1.5h-2.1zM697.3 78.4h2.7v1.7h-2.7zM699.0 70.9h1.9v1.6h-1.9zM699.0 72.6h2.2v1.3h-2.2zM701.2 71.4h2.8v1.1h-2.8zM701.2 75.9h3.2v1.6h-3.2zM702.5 71.5h1.9v1.7h-1.9zM702.5 73.1h3.5v1.4h-3.5zM702.5 74.5h3.4v1.5h-3.4zM702.5 76.3h1.5v0.9h-1.5zM702.5 78.8h2.0v1.5h-2.0zM703.7 71.3h3.4v1.7h-3.4zM703.7 73.4h3.3v1.6h-3.3zM703.7 76.9h2.9v2.0h-2.9zM703.7 79.1h2.3v1.9h-2.3zM703.7 84.3h3.0v1.1h-3.0zM705.8 71.2h3.0v1.8h-3.0zM705.8 77.0h3.5v1.3h-3.5zM705.8 79.4h1.5v1.7h-1.5zM705.8 86.0h2.7v1.0h-2.7zM707.0 71.3h2.9v1.7h-2.9zM707.0 73.2h3.6v1.4h-3.6zM709.2 71.4h3.6v1.1h-3.6zM709.2 72.7h3.1v1.6h-3.1zM709.2 77.4h2.2v1.0h-2.2zM711.1 71.8h2.1v1.7h-2.1zM711.1 79.3h2.1v1.3h-2.1zM711.1 84.6h1.5v1.8h-1.5zM713.1 74.6h3.1v1.5h-3.1zM714.7 72.6h3.1v1.1h-3.1zM714.7 73.9h2.8v1.4h-2.8zM717.1 72.9h2.3v2.1h-2.3zM717.1 75.5h1.7v1.2h-1.7zM717.1 77.4h1.8v1.9h-1.8zM717.1 83.4h3.4v1.4h-3.4zM718.9 73.3h3.1v1.2h-3.1zM718.9 75.4h1.6v1.9h-1.6zM718.9 80.9h1.6v1.8h-1.6zM720.6 73.9h1.4v1.2h-1.4zM720.6 76.3h3.5v2.0h-3.5zM720.6 78.8h2.3v2.0h-2.3zM720.6 80.5h1.3v1.6h-1.3zM722.2 74.4h1.8v1.5h-1.8zM722.2 76.4h2.8v1.6h-2.8zM722.2 77.6h2.3v1.1h-2.3zM723.9 74.2h2.3v1.6h-2.3zM723.9 76.5h1.3v1.8h-1.3zM723.9 79.9h2.6v1.9h-2.6zM723.9 82.7h2.7v1.8h-2.7zM723.9 86.3h2.6v1.4h-2.6zM725.9 74.0h1.5v1.7h-1.5zM725.9 75.7h2.9v0.9h-2.9zM725.9 79.3h1.8v1.5h-1.8zM725.9 84.2h3.6v1.0h-3.6zM728.0 75.6h3.6v1.5h-3.6zM728.0 77.4h1.9v2.0h-1.9zM728.0 82.9h1.5v2.0h-1.5zM729.5 76.7h2.2v0.9h-2.2zM729.5 77.9h1.3v1.6h-1.3zM729.5 79.2h2.8v1.6h-2.8zM731.7 76.5h2.8v2.1h-2.8zM731.7 79.1h2.1v1.7h-2.1zM731.7 87.2h2.6v1.1h-2.6zM733.3 76.0h1.8v1.0h-1.8zM733.3 77.6h2.3v1.6h-2.3zM733.3 84.7h2.6v1.2h-2.6zM733.3 88.5h3.8v1.1h-3.8zM733.3 84.8h4.5v2.3h-2.4zM734.8 75.3h2.7v1.4h-2.7zM734.8 76.6h1.8v1.7h-1.8zM734.8 77.9h3.3v0.9h-3.3zM736.7 74.4h1.7v1.4h-1.7zM736.7 76.2h1.9v1.5h-1.9zM736.7 78.2h2.9v1.8h-2.9zM736.7 79.7h1.3v1.5h-1.3zM736.7 85.1h2.5v2.1h-2.5zM739.0 73.7h1.3v1.2h-1.3zM739.0 77.4h2.2v1.5h-2.2zM740.7 73.5h1.6v1.7h-1.6zM742.2 73.4h1.5v2.1h-1.5zM742.2 82.0h1.8v1.3h-1.8zM744.2 73.3h1.8v1.9h-1.8zM744.2 75.4h2.7v1.6h-2.7zM744.2 77.1h3.1v1.9h-3.1zM745.7 73.2h1.7v1.9h-1.7zM747.0 73.0h2.3v1.4h-2.3zM747.0 74.3h3.5v1.3h-3.5zM749.1 72.7h2.2v1.4h-2.2zM749.1 74.2h3.0v1.3h-3.0zM749.1 75.6h2.4v2.2h-2.4zM751.3 72.5h3.7v2.1h-3.7zM751.3 74.2h2.9v1.3h-2.9zM751.3 79.8h2.4v1.3h-2.4zM751.3 88.6h2.7v1.8h-2.7zM753.0 72.4h3.1v1.6h-3.1zM753.0 77.4h1.5v2.0h-1.5zM753.0 81.5h3.5v1.6h-3.5zM754.9 72.7h3.0v1.1h-3.0zM754.9 77.6h3.4v1.7h-3.4zM757.0 74.0h1.2v1.3h-1.2zM757.0 76.5h2.0v1.5h-2.0zM757.0 81.9h2.2v1.7h-2.2zM757.0 83.3h3.4v1.1h-3.4zM757.0 84.6h1.4v1.3h-1.4zM759.2 75.0h3.7v1.5h-3.7zM759.2 77.0h1.9v1.6h-1.9zM759.2 79.6h3.1v1.3h-3.1zM761.0 75.4h3.3v1.9h-3.3zM761.0 77.5h2.3v1.6h-2.3zM761.0 81.7h3.7v1.7h-3.7zM763.1 75.7h3.3v1.0h-3.3zM763.1 79.4h3.6v2.0h-3.6zM763.1 91.3h2.6v1.3h-2.5zM764.9 77.8h3.5v1.8h-3.5zM766.6 74.8h1.9v1.4h-1.9zM766.6 79.0h3.2v1.4h-3.2zM768.2 74.7h1.5v1.4h-1.5zM768.2 76.6h2.5v2.0h-2.5zM768.2 78.7h2.8v1.0h-2.8zM768.2 80.1h2.6v1.1h-2.6zM768.2 81.7h3.5v1.1h-3.5zM769.5 74.9h3.6v1.6h-3.6zM769.5 83.9h1.9v1.8h-1.9zM771.8 75.0h2.9v2.1h-2.9zM771.8 78.5h3.1v2.0h-3.1zM771.8 80.3h2.3v2.0h-2.3zM771.8 82.5h1.7v1.2h-1.7zM774.0 74.6h2.7v1.6h-2.7zM774.0 76.8h3.7v1.1h-3.7zM775.4 74.4h3.7v2.1h-3.7zM775.4 75.6h1.8v2.0h-1.8zM775.4 78.6h3.7v1.1h-3.7zM775.4 82.8h3.0v1.2h-3.0zM775.4 87.5h3.6v1.7h-3.6zM775.4 90.1h2.2v1.4h-2.2zM776.8 74.5h1.9v2.2h-1.9zM776.8 80.3h3.4v2.1h-3.4zM776.8 82.3h1.4v1.2h-1.4zM776.8 96.1h4.8v1.3h-5.6zM778.8 74.7h1.3v1.2h-1.3zM778.8 77.0h1.7v1.0h-1.7zM778.8 79.0h3.2v1.5h-3.2zM780.8 75.0h3.3v1.2h-3.3zM780.8 76.9h2.1v1.7h-2.1zM780.8 82.1h2.9v1.4h-2.9zM780.8 83.4h2.9v2.0h-2.9zM783.0 75.5h1.7v1.7h-1.7zM783.0 77.0h1.8v1.2h-1.8zM783.0 78.2h3.3v2.0h-3.3zM783.0 80.6h1.3v2.0h-1.3zM783.0 90.0h1.8v1.6h-1.8zM784.9 75.8h3.6v1.9h-3.6zM784.9 78.4h2.5v1.5h-2.5zM787.2 77.7h3.3v1.5h-3.3zM787.2 79.2h2.0v1.2h-2.0zM788.9 76.0h3.0v2.0h-3.0zM788.9 78.5h1.8v1.1h-1.8zM788.9 80.2h3.7v1.6h-3.7zM788.9 82.0h3.6v1.2h-3.6zM790.9 76.9h2.5v1.2h-2.5zM790.9 79.4h2.4v1.2h-2.4zM792.7 77.8h3.7v1.9h-3.7zM792.7 80.3h2.0v2.0h-2.0zM793.9 77.4h2.7v2.0h-2.7zM793.9 79.1h3.2v1.6h-3.2zM793.9 80.9h2.6v1.6h-2.6zM793.9 89.6h2.4v1.1h-2.4zM793.9 90.8h2.2v1.5h-2.2zM795.6 76.7h1.6v1.9h-1.6zM795.6 78.9h1.6v1.7h-1.6zM795.6 81.4h3.8v1.6h-3.8zM795.6 82.9h3.1v2.1h-3.1zM797.3 76.1h1.3v1.1h-1.3zM797.3 77.5h2.1v1.0h-2.1zM797.3 79.6h2.5v1.8h-2.5zM797.3 85.3h3.0v1.4h-3.0zM797.3 86.9h1.7v2.1h-1.7zM799.5 76.1h3.0v1.2h-3.0zM799.5 77.3h3.6v1.6h-3.6zM799.5 82.9h1.9v2.2h-1.9zM801.7 76.2h2.4v1.8h-2.4zM801.7 78.4h2.6v2.0h-2.6zM801.7 89.8h1.5v1.1h-1.5zM803.9 77.7h3.1v1.6h-3.1zM803.9 79.3h2.9v2.0h-2.9zM803.9 81.8h1.9v1.0h-1.9zM803.9 93.5h5.8v2.0h-2.2zM805.1 78.6h1.7v1.4h-1.7zM807.5 78.7h2.1v2.0h-2.1zM807.5 80.0h1.4v1.3h-1.4zM807.5 86.9h2.4v2.1h-2.4zM808.8 80.7h1.7v1.8h-1.7zM808.8 82.1h1.6v1.0h-1.6zM808.8 86.4h2.1v1.0h-2.1zM810.2 78.0h2.5v1.2h-2.5zM810.2 81.2h1.7v1.1h-1.7zM812.1 77.3h2.2v1.2h-2.2zM812.1 78.5h3.1v1.9h-3.1zM812.1 80.6h2.3v1.1h-2.3zM812.1 98.3h2.4v1.5h-2.4zM813.9 76.6h2.0v1.0h-2.0zM813.9 78.2h1.5v1.7h-1.5zM813.9 81.9h2.5v1.7h-2.5zM815.1 76.8h3.7v1.2h-3.7zM815.1 78.6h3.6v1.6h-3.6zM815.1 81.0h2.4v1.2h-2.4zM817.4 77.2h3.5v1.3h-3.5zM817.4 79.4h2.9v1.3h-2.9zM817.4 87.2h2.4v1.1h-2.4zM819.0 76.8h1.6v1.2h-1.6zM819.0 80.4h1.5v1.4h-1.5zM821.0 75.8h3.8v1.9h-3.8zM821.0 79.2h2.5v1.0h-2.5zM821.0 89.2h3.4v1.2h-3.9zM823.0 75.7h3.1v1.7h-3.1zM823.0 76.9h2.6v1.7h-2.6zM823.0 78.9h2.1v1.8h-2.1zM823.0 84.1h3.2v1.9h-3.2zM825.3 76.3h2.8v1.2h-2.8zM826.8 78.7h2.0v1.0h-2.0zM826.8 88.6h1.8v0.9h-1.8zM828.6 77.1h1.6v1.0h-1.6zM828.6 79.1h1.7v1.6h-1.7zM828.6 80.4h2.9v1.1h-2.9zM828.6 82.3h3.5v1.2h-3.5zM828.6 89.5h3.7v1.8h-3.7zM828.6 97.7h4.6v2.5h-4.6zM830.6 77.3h2.4v2.1h-2.4zM830.6 79.3h2.4v1.4h-2.4zM830.6 80.5h1.7v1.0h-1.7zM832.2 77.0h2.7v1.7h-2.7zM832.2 79.5h3.7v1.5h-3.7zM832.2 81.3h2.0v1.5h-2.0zM832.2 89.6h2.0v1.6h-2.0zM834.0 76.7h2.4v1.8h-2.4zM834.0 78.4h3.1v1.7h-3.1zM834.0 80.4h2.1v1.8h-2.1zM836.2 76.2h3.5v1.5h-3.5zM836.2 81.4h2.7v1.2h-2.7zM837.9 75.8h1.2v1.6h-1.2zM839.2 75.3h1.7v1.1h-1.7zM839.2 78.6h3.2v1.0h-3.2zM839.2 81.6h1.7v1.9h-1.7zM841.4 77.0h2.8v1.0h-2.8zM841.4 81.0h2.5v1.9h-2.5zM841.4 85.1h2.6v1.3h-2.6zM843.5 74.1h2.0v1.0h-2.0zM843.5 75.6h3.2v1.9h-3.2zM843.5 79.7h2.5v1.3h-2.5zM845.4 74.0h1.7v2.1h-1.7zM845.4 76.6h2.6v1.5h-2.6zM845.4 78.3h1.9v2.1h-1.9zM847.8 73.6h2.2v1.6h-2.2zM847.8 77.1h2.2v1.1h-2.2zM847.8 79.3h3.5v1.0h-3.5zM850.0 73.0h3.0v1.3h-3.0zM850.0 74.3h3.4v1.1h-3.4zM850.0 76.8h3.6v1.0h-3.6zM852.2 74.7h1.5v1.0h-1.5zM852.2 76.0h3.2v1.9h-3.2zM852.2 78.2h3.6v1.1h-3.6zM854.5 76.1h1.8v1.5h-1.8zM854.5 77.7h3.2v1.3h-3.2zM854.5 88.5h2.3v1.2h-2.3zM855.8 76.2h3.5v2.1h-3.5zM857.2 76.4h3.5v1.5h-3.5zM857.2 77.7h2.2v1.4h-2.2zM857.2 79.4h1.6v1.7h-1.6zM859.1 77.0h2.0v2.0h-2.0zM859.1 78.6h2.6v0.9h-2.6zM859.1 80.0h3.3v1.9h-3.3zM859.1 81.3h3.8v1.1h-3.8zM859.1 89.6h3.6v1.3h-3.6zM861.2 78.1h1.9v2.2h-1.9zM861.2 80.1h2.8v1.2h-2.8zM861.2 82.8h3.0v2.2h-3.0zM861.2 85.5h1.2v0.9h-1.2zM863.2 80.4h2.9v1.8h-2.9zM863.2 82.4h3.3v1.0h-3.3zM863.2 94.9h3.6v1.1h-3.6zM865.4 78.3h1.8v1.4h-1.8zM865.4 82.4h3.1v1.1h-3.1zM865.4 83.7h2.7v1.7h-2.7zM867.5 78.6h3.5v1.7h-3.5zM867.5 80.7h3.4v1.5h-3.4zM867.5 82.1h3.3v1.0h-3.3zM867.5 89.9h2.3v2.2h-2.3zM869.7 79.1h3.6v1.5h-3.6zM869.7 81.5h2.3v0.9h-2.3zM871.1 79.8h3.0v2.2h-3.0zM871.1 81.2h2.5v0.9h-2.5zM871.1 82.6h3.0v1.1h-3.0zM873.1 81.1h3.7v1.2h-3.7zM873.1 85.2h2.5v2.0h-2.5zM874.7 81.9h2.5v1.0h-2.5zM874.7 86.1h1.6v1.4h-1.6zM874.7 87.9h3.3v1.1h-3.3zM874.7 92.0h2.5v2.0h-2.5zM876.5 82.5h2.8v1.0h-2.8zM876.5 83.8h3.7v2.1h-3.7zM876.5 85.4h2.9v1.2h-2.9zM878.5 83.2h2.8v0.9h-2.8zM878.5 84.7h3.0v2.1h-3.0zM878.5 88.8h1.9v1.7h-1.9zM880.1 83.3h1.9v0.9h-1.9zM880.1 85.5h3.3v1.8h-3.3zM880.1 92.9h1.6v1.5h-1.6zM882.5 83.6h3.8v1.2h-3.8zM882.5 85.1h1.8v1.1h-1.8zM882.5 86.7h3.3v1.9h-3.3zM882.5 90.4h2.6v1.2h-2.5zM884.1 83.8h2.0v2.0h-2.0zM884.1 85.4h3.4v0.9h-3.4zM884.1 91.2h3.7v1.7h-3.7zM885.4 84.1h3.1v1.6h-3.1zM885.4 86.6h2.9v1.0h-2.9zM885.4 88.2h2.3v1.6h-2.3zM885.4 92.9h2.1v2.0h-2.1zM887.5 84.4h3.3v1.7h-3.3zM887.5 90.5h2.2v2.0h-2.2zM889.5 84.8h2.6v1.1h-2.6zM889.5 86.6h3.1v1.1h-3.1zM889.5 96.9h1.4v1.2h-1.4zM891.5 85.3h2.0v1.3h-2.0zM891.5 88.2h1.7v1.5h-1.7zM891.5 89.6h1.5v1.1h-1.5zM891.5 95.8h2.0v1.5h-2.0zM893.0 85.5h3.6v1.2h-3.6zM893.0 87.9h2.4v0.9h-2.4zM893.0 89.4h1.7v2.0h-1.7zM895.0 85.8h2.7v1.3h-2.7zM895.0 87.2h3.7v1.7h-3.7zM895.0 88.4h2.7v1.6h-2.7zM897.2 85.6h3.3v1.7h-3.3zM897.2 88.2h2.8v2.0h-2.8zM897.2 91.8h2.0v1.7h-2.0zM899.5 85.3h1.5v1.4h-1.5zM899.5 86.8h1.9v2.0h-1.9zM899.5 89.2h3.8v2.2h-3.8zM901.2 85.5h1.9v1.0h-1.9zM901.2 87.6h1.7v1.5h-1.7zM902.7 85.9h1.3v1.9h-1.3zM902.7 91.6h1.3v1.7h-1.3zM902.7 95.1h2.3v1.6h-2.3zM904.0 86.3h2.3v0.9h-2.3zM904.0 87.8h1.3v2.1h-1.3zM904.0 89.4h3.7v1.1h-3.7zM904.0 96.2h2.2v2.0h-2.2zM904.0 98.0h1.8v1.2h-1.8zM906.2 86.1h3.2v1.1h-3.2zM906.2 88.3h3.0v1.2h-3.0zM907.7 86.0h2.0v1.6h-2.0zM907.7 87.9h3.8v1.9h-3.8zM907.7 90.3h3.6v2.1h-3.6zM907.7 92.8h1.6v1.0h-1.6zM909.2 85.7h3.8v1.2h-3.8zM909.2 87.6h2.6v1.4h-2.6zM911.2 85.3h1.9v2.0h-1.9zM913.5 85.3h3.5v1.0h-3.5zM913.5 86.7h2.9v1.4h-2.9zM915.2 85.3h3.1v2.1h-3.1zM915.2 90.3h1.2v1.6h-1.2zM916.9 85.6h2.3v1.6h-2.3zM916.9 88.7h3.4v1.3h-3.4zM918.3 85.9h2.7v1.2h-2.7zM918.3 91.9h2.4v1.4h-2.4zM918.3 98.7h1.3v1.8h-1.3zM918.3 98.4h4.8v1.2h-5.7zM920.6 86.3h3.3v1.6h-3.3zM920.6 88.5h2.9v1.4h-2.9zM920.6 90.2h1.4v2.0h-1.4zM920.6 92.4h2.5v0.9h-2.5zM920.6 94.4h3.7v1.3h-3.7zM920.6 98.8h2.0v1.2h-2.0zM921.9 86.2h1.4v1.1h-1.4zM921.9 88.1h1.8v1.1h-1.8zM921.9 93.3h1.4v1.9h-1.4zM923.9 86.1h3.5v2.0h-3.5zM923.9 95.4h1.4v1.5h-1.4zM926.1 86.7h1.7v1.1h-1.7zM926.1 88.7h1.5v1.6h-1.5zM927.4 87.0h3.8v0.9h-3.8zM927.4 90.3h3.8v2.1h-3.8zM927.4 91.1h3.3v1.2h-5.1zM929.6 87.4h3.7v1.2h-3.7zM929.6 88.9h2.4v1.2h-2.4zM929.6 93.0h1.9v1.4h-1.9zM929.6 97.6h1.7v1.4h-1.7zM931.7 87.7h3.8v1.3h-3.8zM931.7 90.3h3.5v1.7h-3.5zM931.7 93.6h2.5v2.0h-2.5zM934.0 86.9h1.7v1.2h-1.7zM934.0 90.6h2.3v2.1h-2.3zM934.0 93.2h3.7v1.0h-3.7zM934.0 98.3h3.0v2.1h-3.0zM935.5 86.3h2.8v1.3h-2.8zM935.5 95.6h3.3v1.9h-3.3zM937.6 86.6h1.8v1.6h-1.8zM937.6 90.1h3.2v1.8h-3.2zM937.6 96.7h2.0v1.4h-2.0zM939.8 87.2h3.6v1.4h-3.6zM939.8 88.7h2.2v1.9h-2.2zM939.8 90.0h1.4v1.2h-1.4zM939.8 96.0h1.7v0.9h-1.7zM939.8 97.2h2.6v1.5h-2.6zM941.4 87.2h2.3v1.3h-2.3zM941.4 88.6h3.5v2.2h-3.5zM941.4 91.2h3.0v1.2h-3.0zM941.4 92.6h2.1v1.9h-2.1zM943.4 87.1h1.7v1.8h-1.7zM943.4 88.6h1.6v1.4h-1.6zM945.5 88.2h2.4v1.7h-2.4zM945.5 90.7h1.5v1.5h-1.5zM945.5 93.1h2.2v1.8h-2.2zM945.5 94.8h1.4v1.9h-1.4zM945.5 100.2h3.8v1.8h-3.0zM947.9 86.6h2.0v1.0h-2.0zM947.9 90.3h1.9v0.9h-1.9zM949.8 85.6h2.5v1.5h-2.5zM949.8 87.8h2.7v1.6h-2.7zM951.3 84.8h1.8v1.2h-1.8zM951.3 86.1h1.8v1.1h-1.8zM951.3 87.8h2.7v1.6h-2.7zM952.9 84.2h2.3v2.1h-2.3zM952.9 86.1h1.3v1.4h-1.3zM954.3 83.9h2.4v1.2h-2.4zM954.3 85.3h2.4v0.9h-2.4zM954.3 87.6h1.9v1.2h-1.9zM954.3 98.2h2.1v1.1h-2.1zM956.6 83.5h1.6v1.8h-1.6zM956.6 85.0h2.3v1.7h-2.3zM958.4 83.3h3.5v1.5h-3.5zM958.4 85.7h1.6v2.0h-1.6zM958.4 89.7h1.5v2.1h-1.5zM958.4 91.3h2.6v1.8h-2.6zM958.4 93.3h3.2v1.8h-3.2zM960.4 83.1h1.3v2.0h-1.3zM960.4 84.3h2.0v1.5h-2.0zM960.4 85.7h1.6v1.3h-1.6zM960.4 87.4h3.3v0.9h-3.3zM962.7 82.5h2.8v1.9h-2.8zM962.7 84.4h3.1v1.1h-3.1zM962.7 86.2h3.4v1.9h-3.4zM964.1 82.1h2.0v1.3h-2.0zM964.1 85.9h3.0v2.0h-3.0zM965.4 81.8h1.9v1.0h-1.9zM965.4 83.6h2.4v1.1h-2.4zM965.4 85.5h3.8v1.2h-3.8zM965.4 89.4h3.4v1.4h-3.4zM965.4 90.8h4.1v1.6h-2.7zM967.3 81.3h1.6v1.4h-1.6zM967.3 83.9h3.7v1.8h-3.7zM967.3 92.3h3.6v0.9h-3.6zM968.8 81.1h2.2v1.6h-2.2zM968.8 86.2h1.5v1.2h-1.5zM968.8 89.2h3.7v1.7h-3.7zM968.8 96.7h1.4v1.5h-1.4zM970.1 81.2h1.4v1.4h-1.4zM970.1 86.4h2.0v1.2h-2.0zM970.1 88.1h2.1v1.7h-2.1zM970.1 91.6h2.7v1.3h-2.7zM970.1 91.7h4.8v2.3h-5.0zM973.4 81.3h3.6v1.2h-3.6zM973.4 85.3h3.6v1.0h-3.6zM973.4 95.4h3.0v2.0h-3.0zM975.5 81.2h1.9v1.9h-1.9zM975.5 85.4h1.3v1.6h-1.3zM976.8 81.2h2.2v1.7h-2.2zM976.8 87.3h3.0v2.0h-3.0zM978.7 80.6h1.7v1.3h-1.7zM978.7 82.3h2.7v1.1h-2.7zM978.7 83.8h3.8v1.8h-3.8zM980.0 80.2h3.1v1.5h-3.1zM980.0 84.2h2.7v0.9h-2.7zM980.0 85.6h2.0v1.5h-2.0zM981.7 79.6h2.8v1.0h-2.8zM981.7 81.4h1.5v2.1h-1.5zM983.1 78.9h2.2v2.0h-2.2zM983.1 80.8h2.8v1.1h-2.8zM983.1 82.6h1.4v1.3h-1.4zM983.1 86.1h2.7v1.1h-2.7zM985.0 78.0h1.8v0.9h-1.8zM985.0 79.7h1.8v0.9h-1.8zM985.0 82.1h2.5v1.7h-2.5zM986.7 77.4h1.7v1.3h-1.7zM986.7 79.4h2.0v1.1h-2.0zM986.7 81.4h3.3v1.0h-3.3zM988.6 76.9h1.3v1.1h-1.3zM988.6 79.2h3.2v1.7h-3.2zM988.6 80.4h2.8v1.2h-2.8zM988.6 86.8h2.9v1.8h-2.9zM988.6 86.0h2.5v1.0h-2.4zM990.7 76.3h2.1v1.9h-2.1zM990.7 77.5h3.6v1.0h-3.6zM990.7 78.9h2.1v1.0h-2.1zM992.8 75.6h1.8v1.7h-1.8zM992.8 77.9h2.0v1.6h-2.0zM992.8 80.0h3.5v1.4h-3.5zM992.8 84.1h1.7v1.5h-1.7zM994.5 75.1h2.8v1.3h-2.8zM994.5 77.2h1.2v1.5h-1.2zM994.5 81.9h2.5v1.4h-2.5zM996.6 73.6h2.7v1.6h-2.7zM996.6 74.9h1.7v1.9h-1.7zM996.6 77.1h2.7v2.0h-2.7zM999.0 71.6h3.7v1.4h-3.7zM999.0 73.2h2.2v1.2h-2.2zM999.0 75.7h1.4v1.4h-1.4zM1001.0 70.6h2.1v1.2h-2.1zM1001.0 74.6h2.0v1.8h-2.0zM1003.3 70.4h2.5v1.5h-2.5zM1003.3 72.8h1.8v1.4h-1.8zM1005.2 70.1h1.2v2.0h-1.2zM1006.8 69.6h1.4v1.1h-1.4zM1006.8 72.0h3.7v1.3h-3.7zM1006.8 73.3h3.5v2.0h-3.5zM1008.6 69.0h1.7v1.9h-1.7zM1008.6 70.7h3.5v1.9h-3.5zM1010.6 68.2h2.3v1.5h-2.3zM1010.6 69.8h2.0v1.2h-2.0zM1012.4 67.2h2.0v1.3h-2.0zM1012.4 69.2h2.6v1.8h-2.6zM1013.9 69.6h2.0v2.1h-2.0zM1013.9 76.4h2.9v0.9h-2.9zM1016.0 65.1h1.3v1.1h-1.3zM1016.0 66.8h3.0v2.0h-3.0zM1018.3 63.5h2.5v1.7h-2.5zM1018.3 65.7h1.9v1.8h-1.9zM1020.6 61.7h1.4v1.1h-1.4zM1020.6 65.4h3.3v2.0h-3.3zM1022.3 60.3h3.3v1.9h-3.3zM1022.3 62.2h2.0v1.7h-2.0zM1024.3 58.5h2.0v1.1h-2.0zM1024.3 60.7h3.3v0.9h-3.3zM1025.6 57.1h3.0v1.8h-3.0zM1025.6 59.6h2.1v2.0h-2.1zM1027.7 54.4h3.6v1.0h-3.6zM1027.7 56.8h2.8v1.2h-2.8zM1027.7 59.3h2.6v1.8h-3.9zM869.1,93.3 L867.2,94.5 L861.8,95.1 L860.4,92.5 L864.7,91.5 L866.4,91.6zM843.2,89.7 L842.5,92.4 L839.5,90.2 L838.1,87.3 L841.7,88.6zM855.3,92.8 L853.6,94.2 L851.9,92.3 L854.0,90.5zM859.7,87.1 L858.6,89.6 L856.2,89.6 L852.4,88.0 L854.5,85.6 L859.1,85.9zM817.5,90.3 L814.1,91.8 L812.1,90.7 L815.4,88.9zM825.2,85.8 L822.0,88.5 L819.0,87.0 L817.8,84.8 L822.2,85.0zM851.6,92.1 L850.8,95.4 L843.7,94.3 L845.7,91.1 L849.4,90.8zM843.2,92.7 L841.5,93.2 L840.3,93.0 L839.4,91.6 L841.7,91.5zM851.2,91.4 L850.5,93.3 L845.3,93.1 L844.7,89.2 L848.4,89.0zM832.7,87.0 L832.0,88.4 L830.6,87.2 L830.6,86.2 L831.9,86.1zM815.1,90.7 L813.4,91.5 L811.4,90.7 L813.4,89.9zM853.1,94.4 L851.7,95.9 L848.5,95.7 L846.8,93.2 L851.0,92.4zM826.7,85.2 L824.8,86.9 L822.3,85.0 L824.7,83.8zM858.3,80.6 L856.1,82.0 L854.7,81.1 L854.3,79.8 L855.9,80.0zM846.9,98.7 L844.4,100.4 L839.3,99.7 L840.2,97.6 L843.7,95.0zM847.8,88.2 L844.1,90.8 L840.7,88.7 L844.3,86.9zM836.8,83.3 L835.0,85.0 L832.5,85.3 L828.7,83.7 L832.7,82.2 L834.1,81.6zM822.1,95.7 L820.3,97.0 L817.2,97.2 L815.8,96.2 L817.8,94.3 L820.1,94.4zM861.6,91.6 L860.8,93.0 L858.2,92.8 L857.2,92.0 L858.2,90.5 L860.2,89.9zM836.9,94.2 L832.7,95.9 L828.7,95.9 L830.3,92.5 L834.6,91.7zM854.0,87.0 L853.2,87.9 L850.3,87.4 L849.8,86.1 L852.9,86.1zM818.3,98.1 L817.7,99.9 L814.3,98.4 L812.9,96.7 L817.6,95.9zM867.1,98.1 L864.2,100.3 L861.8,98.2 L865.5,95.4zM828.1,87.8 L827.0,89.2 L824.6,88.7 L824.7,87.3 L826.8,86.8zM863.5,97.6 L863.1,99.4 L859.2,99.6 L858.6,97.8 L859.8,96.2 L861.7,96.1zM826.6,80.8 L823.9,81.4 L820.0,82.1 L819.4,80.4 L820.3,77.2 L824.3,77.5zM864.6,98.1 L863.0,99.2 L861.6,97.9 L862.6,97.3zM870.0,87.2 L866.5,90.1 L864.3,87.6 L866.1,85.4zM866.0,79.8 L860.9,81.9 L856.3,79.9 L860.6,78.1zM846.0,87.5 L845.9,89.3 L843.6,88.6 L841.8,88.0 L842.2,85.8 L845.2,86.7zM821.2,91.1 L818.9,92.5 L817.3,91.2 L819.7,89.9zM845.2,97.7 L842.2,99.6 L838.1,99.3 L840.2,96.7 L842.2,97.1zM856.8,82.8 L854.1,86.7 L851.2,83.4 L854.1,81.2zM817.8,95.9 L816.9,96.9 L815.1,96.8 L815.3,95.8 L816.8,95.4zM823.7,82.7 L822.3,83.3 L820.9,84.5 L819.4,82.3 L820.6,82.0 L822.1,82.0zM836.1,86.0 L833.9,87.7 L827.0,87.4 L828.1,83.4 L833.7,83.9zM859.6,92.1 L857.9,93.6 L853.9,93.2 L854.5,91.1 L857.4,90.8zM854.5,79.9 L853.5,80.7 L851.9,81.2 L851.7,80.1 L852.6,79.5 L853.3,79.1zM861.8,95.3 L859.0,97.0 L856.3,97.5 L855.4,95.0 L858.9,93.0zM840.3,86.1 L838.5,87.5 L837.1,86.8 L837.0,86.1 L837.5,85.7 L838.5,85.5zM839.1,93.8 L837.2,95.0 L834.8,94.4 L834.0,93.5 L834.2,91.4 L837.2,91.8zM845.2,79.9 L843.5,80.8 L842.0,80.8 L841.5,80.3 L842.0,79.2 L844.4,79.0zM866.6,97.3 L866.1,97.7 L864.2,98.6 L864.2,97.1 L864.8,96.2 L866.9,96.3zM822.3,91.9 L820.8,93.7 L817.7,91.5 L820.6,90.3zM831.4,97.2 L829.3,98.3 L827.8,97.0 L829.4,95.8zM830.2,87.9 L827.7,90.4 L821.5,89.6 L821.5,87.2 L826.3,84.9zM831.2,97.3 L829.9,98.1 L826.2,97.5 L829.6,95.7zM864.4,84.5 L861.9,87.1 L858.0,84.8 L860.7,83.5zM829.8,88.3 L829.6,90.2 L826.8,89.8 L827.7,87.8 L830.2,86.9zM818.8,80.3 L817.7,81.3 L816.2,82.2 L815.9,80.3 L816.3,79.9 L818.7,78.8zM822.8,91.8 L821.3,93.1 L818.3,92.4 L818.6,90.6 L821.5,89.4zM825.7,83.1 L823.4,85.1 L819.8,83.8 L823.1,82.6zM828.2,96.9 L829.2,98.7 L824.9,97.9 L822.5,97.4 L824.3,94.4 L827.7,95.7zM817.5,80.4 L815.9,81.9 L813.0,81.9 L811.7,80.7 L813.7,79.3 L815.5,79.3zM867.6,80.2 L865.9,81.3 L863.8,81.1 L864.6,79.6 L866.2,78.8zM862.0,82.4 L859.8,83.6 L858.3,83.4 L855.9,81.4 L858.1,79.9 L860.7,80.6zM848.4,91.4 L847.8,93.0 L846.1,92.1 L845.2,91.4 L846.2,89.6 L848.2,89.3zM825.5,82.6 L824.8,84.0 L823.0,83.5 L822.1,82.6 L823.0,82.0 L824.6,82.1zM858.6,95.2 L855.3,97.7 L852.5,95.6 L853.4,93.9 L855.1,92.9zM815.8,97.5 L814.8,99.1 L813.5,97.7 L814.6,96.5zM832.4,86.3 L831.8,87.4 L829.0,86.9 L831.6,85.9zM829.1,95.6 L828.5,98.1 L824.9,96.5 L823.6,95.2 L827.3,94.6zM838.9,84.5 L836.2,86.4 L833.5,85.2 L834.5,83.6 L836.2,83.1zM861.3,82.5 L860.7,83.5 L857.8,84.4 L857.0,82.1 L857.9,81.3 L860.4,81.7zM857.3,97.5 L856.7,98.5 L855.3,97.9 L855.7,97.2 L857.2,96.5zM822.6,85.6 L818.2,87.4 L814.0,85.2 L817.9,82.4zM848.7,96.3 L845.6,97.5 L843.9,96.0 L846.3,94.7zM847.1,97.9 L845.3,99.0 L844.4,98.0 L845.6,97.2zM832.0,98.6 L831.2,100.6 L828.2,98.8 L830.9,97.3zM850.9,93.6 L849.2,95.2 L846.7,95.5 L846.1,93.9 L847.6,92.9 L848.8,92.7zM903.0,96.7 L901.4,97.5 L899.4,97.5 L899.3,96.0 L901.0,96.0zM886.8,99.1 L884.9,101.1 L878.9,100.2 L881.3,97.3 L886.4,96.4zM889.5,87.8 L887.5,90.0 L884.0,88.0 L886.6,85.7zM882.1,100.3 L881.1,101.5 L878.4,101.5 L878.4,101.0 L879.0,99.5 L880.2,99.7zM884.3,87.1 L882.3,89.2 L879.7,87.0 L881.6,86.1zM901.2,101.6 L898.5,104.3 L896.2,102.4 L894.9,100.1 L899.5,100.1zM869.0,101.5 L867.6,103.3 L864.0,101.8 L863.2,99.9 L866.6,99.6zM892.2,95.0 L890.1,96.7 L886.6,96.2 L887.7,94.1 L891.3,94.1zM875.6,92.1 L874.9,94.0 L870.4,93.7 L869.7,92.0 L870.3,90.1 L875.7,89.9zM878.6,92.1 L877.3,94.4 L874.5,93.3 L874.0,91.7 L874.9,90.0 L878.3,90.0zM879.6,90.4 L877.3,93.3 L873.2,92.5 L874.3,90.1 L874.3,88.7 L877.1,87.7zM896.2,100.4 L891.5,102.1 L887.7,102.0 L887.4,97.3 L892.7,98.1zM892.7,103.9 L892.1,104.8 L889.8,105.6 L888.1,103.9 L889.3,102.6 L892.7,102.7zM865.9,88.0 L865.6,90.2 L863.7,88.8 L861.9,87.5 L862.2,85.4 L865.2,86.0zM864.3,101.6 L863.7,103.3 L861.9,102.1 L859.9,101.7 L861.9,100.0 L864.1,100.3zM887.3,89.7 L886.2,91.4 L884.4,89.4 L885.9,88.4zM884.8,88.8 L883.4,89.9 L882.6,88.7 L883.9,87.5zM886.7,96.6 L884.5,99.9 L880.3,96.9 L884.7,95.1zM890.5,90.7 L885.7,94.1 L882.7,91.8 L885.2,88.6zM893.2,88.5 L890.0,90.5 L887.7,88.2 L891.2,86.7zM888.5,90.4 L887.4,91.1 L885.3,91.3 L884.9,90.5 L886.2,89.6 L887.0,89.2zM893.5,93.0 L890.1,94.3 L886.2,95.4 L885.9,93.0 L887.9,90.2 L890.3,92.2zM885.5,88.3 L885.1,90.6 L881.6,89.3 L880.3,86.5 L883.8,86.0zM891.5,90.8 L886.4,92.6 L883.7,90.2 L885.5,87.6zM905.4,85.2 L902.4,87.0 L898.9,85.9 L899.7,84.7 L902.6,82.7zM894.6,98.2 L894.4,99.1 L892.7,98.5 L892.0,97.7 L894.4,97.2zM865.1,89.0 L861.6,91.6 L858.5,88.5 L862.3,87.7zM870.8,102.4 L869.8,104.0 L866.4,101.9 L868.8,100.1zM872.6,103.4 L871.9,104.0 L869.7,104.6 L869.5,102.5 L871.9,102.5zM882.9,91.1 L882.0,92.0 L880.6,91.4 L882.3,90.4zM878.7,94.1 L875.7,95.7 L872.1,93.5 L874.9,92.9zM885.2,87.6 L882.5,88.9 L879.3,88.2 L879.3,86.8 L882.4,86.6zM863.6,93.8 L862.5,95.7 L860.8,95.8 L859.4,93.5 L861.0,93.3 L863.1,92.3zM878.5,99.7 L876.2,101.2 L874.9,101.9 L873.1,100.0 L873.4,98.0 L878.7,98.3zM871.8,90.7 L868.7,93.0 L864.8,91.3 L864.4,89.4 L868.5,87.2zM862.5,85.3 L860.3,87.0 L857.1,86.4 L856.5,83.9 L860.8,83.9zM871.6,84.5 L870.3,85.7 L868.3,86.3 L867.8,83.8 L870.5,83.3zM864.9,92.9 L864.1,94.3 L860.6,94.6 L859.1,92.6 L861.7,90.3 L866.2,90.9zM872.4,98.8 L871.5,99.4 L870.5,99.2 L870.7,98.6 L871.5,98.5zM864.3,94.5 L864.5,95.3 L862.4,95.0 L862.5,93.8 L864.2,93.2zM928.1,95.4 L927.0,95.9 L925.9,96.0 L925.6,95.2 L925.8,94.2 L926.8,94.8zM917.1,94.4 L914.2,96.9 L912.0,95.4 L911.7,94.6 L913.6,93.9zM927.4,95.8 L926.4,97.4 L925.0,96.9 L924.1,95.8 L925.2,95.1 L926.0,95.0zM913.3,96.3 L912.3,98.3 L909.5,97.5 L906.5,96.8 L909.6,95.3 L911.2,95.8zM947.9,91.7 L945.4,93.5 L940.8,91.6 L945.4,88.7zM945.2,88.5 L944.6,89.2 L942.6,89.0 L943.0,88.1 L944.3,88.0zM955.5,86.9 L954.5,88.7 L950.5,89.0 L951.0,86.3 L954.3,85.3zM911.5,86.8 L910.1,88.9 L906.3,88.8 L904.2,87.2 L907.1,86.0 L908.5,85.7zM938.4,92.1 L936.5,95.1 L934.0,93.7 L930.9,92.0 L934.2,90.3 L937.3,91.4zM957.5,97.6 L954.8,99.9 L951.9,98.3 L953.8,95.2zM929.2,90.6 L927.1,91.7 L925.5,90.8 L925.7,89.7 L927.3,89.6zM913.1,96.9 L911.9,97.1 L910.9,97.2 L910.4,96.6 L911.0,95.5 L911.8,95.8zM905.1,98.3 L903.8,99.7 L899.3,100.3 L897.3,98.4 L900.4,95.9 L902.1,96.4zM926.1,96.8 L923.9,97.6 L922.5,96.8 L924.1,95.4zM937.8,86.5 L937.8,87.4 L935.7,86.8 L935.8,85.7 L937.2,85.5zM931.1,86.9 L928.9,88.9 L927.0,89.0 L923.5,87.2 L927.2,86.0 L929.6,84.3zM934.9,92.6 L933.1,93.8 L931.4,93.6 L928.9,92.1 L931.0,91.0 L933.2,90.0zM946.8,92.2 L943.6,93.7 L940.8,91.6 L942.4,90.5zM947.4,88.3 L945.5,90.9 L942.8,88.3 L946.8,86.8zM945.3,86.2 L943.4,86.8 L941.9,86.0 L944.0,85.3zM963.1,92.6 L962.7,93.8 L961.3,93.4 L960.4,92.3 L961.2,91.2 L963.1,91.2zM910.6,96.0 L908.9,97.7 L907.3,95.7 L908.7,94.3zM939.8,96.2 L937.9,96.6 L936.5,96.1 L938.2,95.5zM929.7,90.2 L928.5,91.2 L926.0,91.8 L924.4,90.5 L926.9,89.4 L928.6,89.3zM926.8,90.6 L925.5,91.2 L923.5,91.3 L921.8,90.1 L923.0,89.3 L925.3,89.2zM960.4,93.4 L958.4,95.0 L956.7,93.8 L958.3,92.8zM916.6,87.0 L916.8,88.4 L913.9,88.8 L912.6,87.0 L912.8,85.7 L916.2,85.0zM923.5,94.6 L922.2,95.3 L919.7,95.5 L918.4,94.2 L920.1,93.3 L921.2,93.4zM946.6,90.4 L944.6,92.1 L941.6,90.6 L941.3,89.6 L944.7,88.4zM908.2,88.4 L903.6,90.6 L900.7,89.3 L903.6,86.0zM921.0,87.4 L918.3,89.6 L913.3,88.4 L915.3,86.2 L918.6,85.5zM923.6,91.1 L920.9,93.0 L917.1,92.4 L916.0,90.7 L920.8,89.2zM914.4,86.4 L911.6,90.0 L907.0,87.3 L910.1,85.2zM952.2,93.4 L950.7,95.6 L946.3,92.5 L948.9,89.9zM940.3,93.3 L938.1,94.4 L934.8,95.2 L933.1,92.9 L933.3,91.3 L937.5,91.9zM914.8,86.6 L914.5,89.1 L910.0,88.5 L908.1,86.5 L910.1,85.2 L912.8,85.8zM906.3,97.6 L903.7,99.0 L900.0,98.2 L899.8,96.6 L902.9,96.2zM917.5,91.2 L914.8,92.3 L910.4,92.7 L910.1,90.0 L915.6,89.0zM908.7,87.7 L907.3,88.6 L905.2,87.5 L906.5,85.4zM948.5,89.2 L946.6,89.8 L944.8,89.8 L942.6,88.7 L944.7,87.1 L947.1,87.9zM1024.0,60.5 L1023.8,61.4 L1022.2,61.1 L1021.6,60.7 L1022.2,60.2 L1023.2,59.6zM1026.6,61.7 L1024.3,62.6 L1021.9,61.3 L1024.9,59.9zM990.5,55.5 L989.7,55.8 L988.7,55.8 L988.5,54.8 L990.5,54.3zM1011.8,60.4 L1011.9,63.1 L1008.5,62.4 L1004.5,61.2 L1008.2,58.8 L1010.9,58.9zM989.0,63.7 L987.0,66.3 L982.9,65.8 L983.8,62.8 L986.8,61.0zM993.4,62.3 L992.2,63.8 L989.5,62.3 L991.3,60.4zM1015.9,53.3 L1013.3,56.6 L1006.9,54.6 L1008.5,52.5 L1011.8,50.4zM1024.3,61.9 L1021.6,63.6 L1019.9,61.9 L1022.2,60.9zM999.1,58.3 L997.2,60.2 L993.1,59.1 L992.2,57.6 L993.2,57.2 L996.7,55.5zM997.0,65.1 L994.3,66.1 L992.5,65.5 L994.9,64.1zM1000.9,62.4 L999.0,63.3 L996.5,61.8 L999.7,60.5zM1027.5,58.5 L1026.2,60.5 L1022.7,59.6 L1022.4,58.6 L1022.4,56.7 L1026.0,57.1zM1015.5,62.4 L1014.2,63.7 L1010.4,64.1 L1010.6,62.1 L1010.7,60.3 L1014.8,59.9zM997.6,53.0 L997.5,54.5 L994.8,54.8 L992.7,53.4 L994.0,51.7 L996.3,52.5zM1005.7,57.0 L1006.8,58.9 L1001.4,58.6 L1000.7,56.9 L1002.6,54.3 L1006.1,55.5zM1014.8,64.6 L1010.6,66.5 L1006.8,65.8 L1010.2,62.8zM1023.7,60.0 L1022.2,60.4 L1021.3,60.0 L1021.0,59.2 L1022.4,59.3zM1024.0,60.9 L1022.0,61.4 L1021.1,60.6 L1022.5,59.1zM1012.4,62.5 L1011.3,63.1 L1008.9,62.2 L1011.3,61.9zM1022.0,61.0 L1020.6,63.2 L1018.7,62.4 L1017.7,59.6 L1021.2,60.2zM1017.7,58.0 L1016.6,60.2 L1013.0,59.0 L1012.7,57.1 L1016.3,54.6zM993.1,55.4 L991.7,56.8 L989.6,55.4 L991.2,54.5zM996.0,61.0 L994.4,61.9 L992.6,61.3 L992.1,60.5 L993.8,59.6zM1007.4,59.8 L1003.9,62.1 L1002.5,60.2 L1004.6,59.2zM1027.2,64.2 L1023.6,65.0 L1020.5,63.5 L1022.7,61.6zM1020.6,55.6 L1020.8,57.4 L1016.6,57.3 L1014.7,55.6 L1017.7,54.4 L1019.8,54.2zM1003.0,58.8 L1001.1,60.0 L998.8,60.5 L997.6,58.8 L997.6,57.3 L1001.0,57.9zM988.8,65.2 L987.3,65.8 L986.0,65.9 L985.0,65.3 L986.2,64.6 L987.8,64.3zM991.6,63.8 L991.5,66.3 L988.1,65.2 L985.9,64.5 L986.2,62.4 L989.7,62.1zM1020.5,62.4 L1019.4,64.3 L1015.5,63.3 L1016.5,61.2 L1019.4,60.4zM214.9,84.2 L214.2,84.8 L212.0,85.2 L210.3,84.6 L211.9,82.4 L215.2,82.9zM200.4,90.8 L199.5,91.4 L197.4,91.3 L198.0,90.4 L200.2,89.8zM200.0,95.6 L199.5,97.1 L195.7,96.9 L193.8,95.4 L196.5,94.6 L198.8,94.0zM227.0,79.9 L222.8,81.8 L219.0,79.8 L222.8,78.2zM205.4,89.9 L202.2,91.4 L200.1,90.0 L200.0,88.8 L202.2,88.6zM194.9,89.0 L191.9,90.3 L189.8,90.2 L186.6,88.0 L188.8,87.0 L194.0,85.5zM202.8,88.5 L200.4,89.9 L198.4,90.8 L197.5,88.2 L198.7,86.4 L200.4,87.2zM183.9,93.0 L183.5,93.6 L182.3,93.5 L181.6,93.1 L182.7,92.4 L183.7,92.2zM198.3,80.9 L196.7,82.3 L194.7,80.7 L195.7,79.7zM200.9,96.2 L200.6,97.7 L195.3,96.7 L194.3,94.5 L199.8,94.0zM221.1,91.7 L220.5,93.3 L218.2,92.3 L218.6,91.1 L220.9,90.3zM222.5,80.3 L222.0,81.3 L219.5,81.3 L219.1,80.2 L219.2,79.3 L221.6,78.1zM212.9,89.0 L211.2,89.7 L210.7,88.9 L211.5,88.2zM199.3,81.2 L198.4,82.2 L196.5,82.4 L195.9,81.4 L196.5,80.2 L198.7,80.3zM184.2,85.9 L182.2,87.3 L180.5,86.4 L180.0,85.4 L180.5,84.1 L182.9,84.9zM222.4,80.9 L221.4,82.2 L219.0,81.7 L219.0,79.9 L222.6,78.8zM209.9,83.1 L208.4,83.9 L206.9,83.5 L206.4,81.7 L209.4,80.5zM226.8,89.1 L224.2,92.1 L220.5,91.5 L220.6,87.6 L223.5,87.6zM227.3,86.7 L225.1,88.7 L220.5,86.5 L225.4,84.8zM185.4,94.3 L184.4,95.2 L182.9,94.8 L182.0,93.2 L184.9,92.6zM181.6,95.2 L180.3,96.7 L177.1,96.7 L177.4,95.0 L179.3,94.7zM217.8,92.7 L214.9,95.2 L209.5,92.0 L213.5,89.8zM232.1,80.7 L228.9,82.9 L225.0,79.8 L227.5,78.5zM203.6,88.7 L200.3,91.7 L197.4,91.4 L196.1,89.5 L196.8,87.1 L200.2,88.2zM184.4,93.8 L182.9,94.8 L181.4,94.8 L181.5,93.3 L182.9,92.6zM225.9,92.2 L225.2,93.2 L222.4,93.2 L223.4,91.3 L224.7,91.2zM198.1,82.5 L195.9,84.9 L193.0,84.2 L194.0,81.9 L196.7,80.5zM187.9,94.7 L186.7,96.3 L183.7,95.4 L182.5,93.3 L185.7,91.8zM231.8,96.0 L229.7,98.0 L226.9,96.5 L226.3,93.7 L229.7,94.6zM212.2,81.5 L211.1,82.1 L208.7,82.2 L207.5,81.4 L206.8,78.8 L213.0,79.2zM215.8,86.8 L213.7,88.2 L211.4,86.7 L213.4,85.5zM195.5,89.6 L191.6,90.7 L189.1,89.0 L191.2,87.3zM189.7,80.5 L185.8,83.2 L181.6,82.0 L183.7,79.5 L185.8,78.4zM209.9,93.9 L207.6,95.5 L204.2,94.0 L204.5,91.9 L208.5,91.1zM193.0,89.5 L191.1,90.1 L189.3,90.0 L189.9,89.2 L191.8,88.6zM196.9,86.6 L196.5,87.5 L194.2,87.0 L192.6,84.7 L195.2,85.1zM188.1,86.0 L186.9,86.8 L185.0,86.0 L186.9,85.0zM195.2,81.9 L193.8,83.5 L192.4,82.0 L193.1,81.3zM221.1,91.9 L217.4,92.7 L214.2,93.3 L214.4,91.2 L214.2,88.5 L219.9,88.7zM219.8,81.0 L218.1,81.9 L217.1,81.5 L216.7,80.2 L218.9,80.2zM434.2,94.5 L431.4,95.8 L429.9,94.5 L432.1,93.2zM419.7,83.0 L418.5,83.6 L416.5,83.9 L416.4,81.5 L419.1,81.8zM381.3,91.7 L380.6,92.3 L379.4,92.4 L378.5,91.4 L379.7,90.9 L380.9,90.7zM410.7,87.4 L407.4,89.2 L405.5,87.3 L407.3,85.3zM424.3,88.4 L420.9,89.4 L417.4,88.0 L420.5,86.4zM451.2,91.6 L448.7,92.5 L446.2,91.8 L448.5,90.5zM401.4,82.6 L400.1,83.6 L398.8,83.2 L398.5,82.2 L400.6,81.9zM395.7,91.9 L394.3,94.0 L390.8,94.7 L388.4,92.3 L388.7,89.3 L395.5,89.7zM455.0,89.7 L452.5,90.5 L449.6,90.8 L448.0,89.3 L449.7,86.8 L452.2,86.3zM444.9,84.4 L441.5,87.7 L439.2,86.1 L439.1,84.4 L442.3,83.7zM452.1,82.6 L451.0,83.8 L449.4,83.0 L448.6,81.7 L451.5,80.6zM466.1,83.9 L466.1,85.3 L463.6,84.8 L462.6,83.6 L463.6,82.6 L465.9,82.9zM414.2,89.1 L410.7,89.7 L409.6,88.5 L411.3,87.2zM468.9,92.8 L467.2,93.3 L465.9,92.2 L467.7,91.7zM441.4,89.8 L440.5,90.5 L438.3,90.2 L438.2,89.2 L440.2,89.2zM405.8,94.1 L402.3,94.8 L401.2,93.7 L402.3,92.1zM389.7,85.0 L386.5,87.9 L383.9,84.8 L387.9,83.6zM431.3,82.1 L430.7,83.4 L428.2,82.9 L427.8,81.4 L431.2,80.7zM403.9,93.5 L402.3,96.6 L398.7,93.9 L401.8,91.2zM463.3,88.0 L458.9,89.7 L454.0,87.4 L459.5,84.7zM384.4,84.4 L382.3,86.3 L379.3,86.4 L375.0,84.7 L377.7,82.3 L381.1,83.7zM410.2,93.2 L407.2,95.6 L403.1,95.3 L403.1,91.7 L408.2,90.6zM444.4,85.9 L443.6,87.7 L440.8,86.8 L440.3,84.9 L444.2,84.5zM456.6,93.3 L455.7,94.4 L454.5,94.1 L452.2,92.9 L454.1,91.7 L455.5,91.6zM423.2,84.9 L420.9,86.7 L417.3,85.7 L415.7,84.3 L416.1,82.3 L419.5,83.5zM472.5,94.3 L470.1,96.1 L466.6,95.3 L466.0,92.6 L470.0,92.6zM410.1,86.4 L408.7,87.3 L407.4,87.2 L406.0,86.3 L407.7,85.8 L408.7,85.6zM442.1,92.8 L440.7,94.8 L435.3,94.4 L435.8,91.6 L440.5,90.0zM437.9,86.6 L434.7,87.8 L431.3,87.8 L429.5,86.7 L432.7,85.4 L435.2,85.3zM471.6,93.6 L469.5,95.3 L467.6,94.7 L465.3,91.8 L471.0,90.9zM465.7,85.4 L461.9,87.1 L459.1,85.4 L460.9,83.1zM418.0,93.5 L417.7,94.4 L416.2,94.3 L415.1,93.6 L416.2,92.9 L417.6,93.0zM470.8,83.6 L468.7,85.7 L465.5,83.1 L469.6,82.3zM410.8,84.3 L407.9,87.1 L403.6,84.1 L409.0,80.7zM449.6,83.8 L449.5,86.2 L446.2,86.2 L445.4,84.5 L446.3,83.2 L449.6,82.6zM533.9,84.9 L531.0,86.7 L528.4,87.5 L525.0,85.5 L528.9,84.6 L531.7,84.2zM541.7,82.4 L538.6,85.1 L536.3,84.0 L536.3,81.5 L538.2,81.7zM523.6,80.5 L522.6,81.6 L520.7,81.1 L521.1,80.0 L522.5,79.4zM532.9,85.7 L531.5,87.5 L530.6,85.6 L531.9,84.8zM484.4,83.0 L484.6,85.2 L481.3,85.6 L477.4,83.4 L481.3,81.0 L484.1,81.2zM527.4,81.1 L525.6,83.5 L520.8,82.1 L521.0,79.8 L523.8,78.6zM513.3,82.8 L509.6,84.3 L506.9,84.2 L505.9,81.6 L510.8,79.4zM490.9,83.8 L488.4,85.5 L485.7,84.1 L487.8,82.6zM498.4,89.1 L494.8,90.3 L493.4,89.3 L491.6,87.0 L495.2,87.5zM501.6,87.8 L498.1,88.5 L496.5,89.1 L492.9,87.3 L494.2,85.1 L498.8,84.9zM525.9,86.0 L524.2,86.8 L523.2,86.3 L522.4,85.7 L522.3,84.7 L524.1,85.1zM533.0,86.7 L531.7,87.6 L530.4,87.0 L529.9,86.0 L531.7,85.0zM497.9,83.9 L495.7,85.0 L493.5,84.3 L492.8,82.1 L497.5,81.2zM523.3,85.8 L522.6,86.6 L520.5,86.1 L520.7,85.0 L522.4,84.4zM523.2,82.3 L520.7,84.0 L516.8,82.6 L520.4,80.7zM499.9,81.3 L499.0,82.0 L497.1,82.1 L497.8,80.9 L499.2,80.3zM532.0,86.9 L531.0,87.7 L528.8,87.1 L531.3,85.9zM506.3,80.3 L504.7,81.9 L502.3,81.8 L501.0,78.8 L504.7,79.2zM501.9,90.6 L500.0,92.1 L498.7,90.9 L500.0,89.7zM528.3,81.9 L525.9,82.5 L524.1,82.3 L523.4,81.1 L526.3,81.1zM489.3,86.1 L486.1,88.0 L481.3,88.8 L481.9,87.0 L482.8,84.0 L485.5,85.5zM502.7,86.7 L501.3,87.3 L499.9,86.8 L500.6,86.3 L501.3,85.6zM504.1,87.0 L503.9,88.0 L501.2,88.0 L501.0,86.7 L501.5,86.2 L503.4,85.7zM491.7,83.8 L488.2,85.9 L484.7,83.6 L487.2,81.2zM486.2,83.8 L485.8,84.8 L483.4,86.0 L481.1,83.8 L483.0,82.9 L486.5,82.3zM515.4,87.0 L513.7,88.0 L511.7,87.6 L512.1,85.8 L513.8,86.0zM506.3,88.6 L505.9,90.5 L503.2,89.6 L499.5,87.8 L501.7,86.6 L505.0,87.4zM522.6,83.1 L521.6,84.4 L520.0,82.9 L522.0,81.7zM500.0,81.2 L498.2,82.9 L496.0,82.1 L495.5,80.4 L497.5,80.0zM540.7,85.3 L540.2,85.8 L538.6,85.7 L538.7,84.8 L539.8,84.2z"/>
<path fill="#fff" d="M184.0 79.3h0.8v1.4h-0.8zM205.5 78.8h1.3v1.2h-1.3zM213.9 77.6h2.3v1.1h-2.3zM217.3 77.3h1.2v1.4h-1.2zM231.4 78.7h1.9v1.1h-1.9zM233.2 79.2h2.3v0.9h-2.3zM245.5 78.2h0.8v1.8h-0.8zM271.3 80.7h1.9v1.5h-1.9zM273.7 79.3h1.0v1.4h-1.0zM282.0 78.9h0.9v1.4h-0.9zM283.6 76.8h1.5v1.1h-1.5zM291.6 79.9h1.7v1.3h-1.7zM297.0 80.0h1.2v1.2h-1.2zM306.8 80.0h1.7v0.8h-1.7zM312.4 76.9h0.9v1.3h-0.9zM332.8 79.7h2.3v1.7h-2.3zM335.1 81.0h1.1v1.1h-1.1zM374.9 83.5h1.5v0.9h-1.5zM382.9 82.9h1.8v1.2h-1.8zM394.2 80.0h2.3v0.8h-2.3zM411.6 77.1h1.3v1.3h-1.3zM414.5 71.6h1.9v1.4h-1.9zM423.1 73.6h2.2v1.8h-2.2zM429.3 78.9h2.3v1.3h-2.3zM437.6 80.7h1.1v1.4h-1.1zM458.6 79.7h1.2v1.1h-1.2zM463.1 78.9h1.6v0.9h-1.6zM488.4 79.3h1.8v1.1h-1.8zM493.4 80.3h1.4v1.1h-1.4zM496.4 80.8h2.1v0.9h-2.1zM507.6 80.9h0.8v0.9h-0.8zM527.6 81.6h1.6v1.5h-1.6zM536.3 81.8h1.8v0.8h-1.8zM544.8 83.8h1.3v1.4h-1.3zM551.1 84.5h1.7v1.7h-1.7zM560.9 81.1h1.1v0.9h-1.1zM565.9 81.1h2.4v1.4h-2.4zM570.8 77.6h2.2v1.1h-2.2zM581.7 77.8h0.9v1.6h-0.9zM606.2 76.1h2.0v1.3h-2.0zM617.3 79.3h1.6v0.9h-1.6zM619.7 78.1h1.0v1.0h-1.0zM623.1 78.5h2.2v1.6h-2.2zM632.6 78.3h2.3v1.1h-2.3zM637.0 78.5h1.2v0.9h-1.2zM639.8 77.9h2.5v0.8h-2.5zM641.8 78.6h2.1v1.6h-2.1zM656.6 77.1h1.6v1.2h-1.6zM670.3 74.6h1.7v1.4h-1.7zM679.4 71.7h2.2v1.8h-2.2zM684.4 61.1h2.3v0.8h-2.3zM688.7 69.1h2.3v1.7h-2.3zM733.4 75.7h1.4v1.4h-1.4zM751.3 70.3h1.1v0.8h-1.1zM761.4 72.6h1.3v1.4h-1.3zM771.3 73.1h1.8v1.0h-1.8zM789.9 75.6h1.0v1.3h-1.0zM801.2 75.1h2.4v1.3h-2.4zM804.6 77.7h2.4v0.9h-2.4zM807.2 78.4h1.6v1.7h-1.6zM809.9 77.5h2.5v1.6h-2.5zM814.5 76.0h2.2v1.2h-2.2zM823.0 75.0h1.4v0.8h-1.4zM847.6 68.9h1.4v1.4h-1.4zM857.6 75.6h1.7v1.1h-1.7zM868.6 78.4h2.5v0.9h-2.5zM873.8 80.2h2.5v1.1h-2.5zM897.3 81.4h2.2v1.3h-2.2zM900.7 85.3h1.0v0.9h-1.0zM920.8 83.4h1.7v1.5h-1.7zM937.4 83.2h2.2v1.2h-2.2zM956.8 82.5h1.7v1.2h-1.7zM959.6 79.7h1.9v1.0h-1.9zM961.3 82.4h1.6v1.0h-1.6zM964.4 77.8h1.8v1.1h-1.8zM979.3 74.8h1.9v1.4h-1.9zM981.5 79.4h2.3v1.3h-2.3zM998.0 63.0h1.3v1.6h-1.3zM1016.9 62.8h1.8v1.8h-1.8zM1021.6 59.9h1.0v1.7h-1.0zM1004.6 60.8h2.7v1.1h-5.1zM1020.9 55.4h3.1v0.8h-4.8zM1012.5 53.9h2.6v1.3h-5.1zM989.8 61.0h4.8v1.4h-5.2zM1002.3 58.6h4.0v1.5h-4.6zM990.0 56.7h2.3v1.7h-2.4zM1004.8 59.7h4.1v0.8h-3.0zM1003.7 55.6h6.1v1.0h-6.8zM1014.0 55.5h4.1v1.4h-2.8zM1022.4 54.7h5.4v1.3h-6.2zM991.3 54.7h4.8v1.1h-3.2zM1000.1 60.0h4.7v0.9h-5.2zM994.1 53.5h3.4v1.2h-4.4zM997.1 54.8h6.1v0.9h-4.6zM1018.7 56.5h5.3v1.1h-5.2zM990.8 61.7h6.7v1.8h-5.4zM1005.4 58.8h6.0v1.7h-4.5zM1000.6 55.1h3.5v1.5h-2.4z"/>
<g fill="#fff"><path d="M233,71 L247.7,39 L259.5,39 L264,71 L257,71 L256.5,65.5 L244.5,65.5 L242,71 Z M249.5,57.3 L254.5,46.5 L255.8,57.3 Z" fill-rule="evenodd"/><path d="M265.5,71 L268.5,39 L281,39 L279.5,55 L292,39 L304,39 L287,56 L301,71 L289,71 L279,60 L277.5,71 Z"/></g>
<text x="325" y="64" font-size="20" font-weight="bold" fill="#fff" stroke="#fff" stroke-width="0.7" textLength="103" lengthAdjust="spacingAndGlyphs">AK35031</text>
<text x="953" y="60.5" font-size="13.5" font-weight="bold" font-style="normal" text-anchor="start" fill="#fff" textLength="17" lengthAdjust="spacingAndGlyphs">17</text>
<path d="M190,172 L376.5,172.0 L371.5,176.3 L371.8,180.7 L366.9,185.0 L366.1,190.0 L366.1,195.0 L364.0,200.0 L361.1,204.2 L362.8,208.3 L361.3,212.5 L363.3,216.7 L359.8,220.8 L361.0,225.0 L360.0,229.2 L359.7,233.3 L359.8,237.5 L358.5,241.7 L359.5,245.8 L358.5,250.0 L357.0,254.2 L356.8,258.3 L358.6,262.5 L358.2,266.7 L356.6,270.8 L357.7,275.0 L359.7,279.2 L357.7,283.3 L357.2,287.5 L358.5,291.7 L356.2,295.8 L357.4,300.0 L360.0,304.0 L356.8,308.0 L357.5,312.0 L358.7,316.0 L358.6,320.0 L358.2,324.0 L360.4,328.0 L361.1,332.0 L359.1,336.0 L362.2,340.0 L361.9,344.0 L362.5,348.0 L361.3,352.0 L363.2,356.0 L365.0,360.0 L364.8,364.1 L363.0,368.2 L361.8,372.4 L363.4,376.5 L365.2,380.6 L364.1,384.7 L365.1,388.8 L365.6,392.9 L364.9,397.1 L364.2,401.2 L366.6,405.3 L365.7,409.4 L366.1,413.5 L365.7,417.6 L366.7,421.8 L367.2,425.9 L368.3,430.0 L367.6,434.1 L366.7,438.2 L367.7,442.4 L367.1,446.5 L366.9,450.6 L364.0,454.7 L367.1,458.8 L364.9,462.9 L364.0,467.1 L365.6,471.2 L363.1,475.3 L364.7,479.4 L362.2,483.5 L364.4,487.6 L364.6,491.8 L364.1,495.9 L363.1,500.0 L364.4,504.0 L362.4,508.0 L363.7,512.0 L364.3,516.0 L363.4,520.0 L366.3,524.0 L366.6,528.0 L365.4,532.0 L363.5,536.0 L364.9,540.0 L366.8,544.0 L366.3,548.0 L367.3,552.0 L367.0,556.0 L368.2,560.0 L368.4,564.0 L368.8,568.0 L367.0,572.0 L368.0,576.0 L368.3,580.0 L366.0,584.0 L368.8,588.0 L365.4,592.0 L366.8,596.0 L365.3,600.0 L368.5,604.0 L368.0,608.0 L365.2,612.0 L366.3,616.0 L367.8,620.0 L365.9,624.0 L365.7,628.0 L366.3,632.0 L366.6,636.0 L367.0,640.0 L365.8,644.0 L365.9,648.0 L368.3,652.0 L364.7,656.0 L365.1,660.0 L365.0,664.0 L366.0,668.0 L366.5,672.0 L365.7,676.0 L367.4,680.0 L365.5,684.0 L363.8,688.0 L363.7,692.0 L365.5,696.0 L363.4,700.0 L366.4,704.0 L366.6,708.0 L365.2,712.0 L368.4,716.0 L368.9,720.0 L366.8,724.0 L366.4,728.0 L368.1,732.0 L367.8,736.0 L370.3,740.0 L367.9,744.0 L369.8,748.0 L369.8,752.0 L371.9,756.0 L370.6,760.0 L369.4,764.1 L368.8,768.2 L370.4,772.4 L370.0,776.5 L370.0,780.6 L371.2,784.7 L369.6,788.8 L370.2,792.9 L368.4,797.1 L367.9,801.2 L369.4,805.3 L370.3,809.4 L368.8,813.5 L371.1,817.6 L367.5,821.8 L367.6,825.9 L368.0,830.0 L367.6,834.1 L367.0,838.2 L367.0,842.4 L370.0,846.5 L367.1,850.6 L369.1,854.7 L369.0,858.8 L366.9,862.9 L368.0,867.1 L367.6,871.2 L367.0,875.3 L366.5,879.4 L366.4,883.5 L364.0,887.6 L366.0,891.8 L365.7,895.9 L366.5,900.0 L365.9,904.0 L364.7,908.0 L365.1,912.0 L363.6,916.0 L363.3,920.0 L362.8,924.0 L364.4,928.0 L363.1,932.0 L362.7,936.0 L364.6,940.0 L365.1,944.0 L361.9,948.0 L365.2,952.0 L362.6,956.0 L362.7,960.0 L364.3,964.0 L365.8,968.0 L366.2,972.0 L366.8,976.0 L366.5,980.0 L367.1,984.0 L365.2,988.0 L367.9,992.0 L366.6,996.0 L370.6,1000.0 L368.1,1004.0 L369.6,1008.0 L367.2,1012.0 L370.3,1016.0 L367.8,1020.0 L367.2,1024.0 L368.2,1028.0 L369.7,1032.0 L369.4,1036.0 L368.2,1040.0 L368.7,1044.0 L367.0,1048.0 L367.7,1052.0 L367.4,1056.0 L370.8,1060.0 L367.4,1064.2 L369.0,1068.3 L368.6,1072.5 L366.0,1076.7 L368.4,1080.8 L368.2,1085.0 L367.7,1089.2 L364.7,1093.3 L364.3,1097.5 L366.3,1101.7 L367.2,1105.8 L365.9,1110.0 L362.1,1114.3 L363.7,1118.6 L360.4,1122.9 L359.8,1127.1 L359.6,1131.4 L359.8,1135.7 L357.4,1140.0 L353.6,1144.0 L352.2,1148.0 L347.2,1152.0 L343.9,1156.0 L339.3,1160.0 L338.9,1164.0 L339.6,1168.0 L335.5,1172.0 L336.3,1176.0 L334.2,1180.0 L335.4,1184.0 L333.6,1188.0 L334.3,1192.0 L334.8,1196.0 L334.0,1200.0 L190,1200 Z" fill="#e5e6e8"/>
<path fill="#e5e6e8" d="M390.3 172.5h1.1v2.2h-1.1zM375.6 171.7h1.1v1.4h-1.1zM375.5 173.2h1.3v2.0h-1.3zM393.6 170.4h2.8v1.1h-2.8zM375.1 176.4h1.9v1.1h-1.9zM385.1 175.7h1.9v2.0h-1.9zM375.9 175.7h2.9v2.4h-2.9zM377.0 175.9h2.0v2.4h-2.0zM371.3 178.9h2.5v1.6h-2.5zM373.3 178.8h1.3v2.7h-1.3zM380.6 181.6h2.1v1.1h-2.1zM373.6 179.3h2.1v1.6h-2.1zM368.1 185.7h2.1v3.5h-2.1zM369.7 184.5h2.4v2.8h-2.4zM366.1 183.7h2.7v1.2h-2.7zM367.9 184.7h2.3v1.9h-2.3zM366.1 190.5h2.5v2.8h-2.5zM377.6 191.1h0.9v3.0h-0.9zM368.7 191.2h1.6v3.5h-1.6zM381.5 189.1h0.9v2.8h-0.9zM365.3 196.1h2.6v3.2h-2.6zM369.4 195.7h2.1v1.1h-2.1zM366.9 193.8h2.6v1.0h-2.6zM366.8 194.5h2.0v1.6h-2.0zM366.7 198.1h1.1v2.2h-1.1zM366.1 198.1h2.1v2.2h-2.1zM367.0 199.1h2.8v1.8h-2.8zM372.7 199.9h2.7v3.0h-2.7zM361.4 202.8h1.1v2.5h-1.1zM366.0 204.8h1.1v2.0h-1.1zM365.8 205.8h1.5v2.4h-1.5zM367.9 202.5h1.8v0.9h-1.8zM363.1 208.9h0.9v2.6h-0.9zM362.1 209.9h2.9v2.0h-2.9zM363.0 209.1h2.3v3.3h-2.3zM363.6 207.9h2.9v1.7h-2.9zM364.0 212.4h1.4v3.2h-1.4zM360.9 214.1h1.5v2.8h-1.5zM360.6 210.5h2.4v3.1h-2.4zM364.6 214.2h2.8v2.5h-2.8zM369.0 216.6h1.3v3.1h-1.3zM363.0 218.2h1.7v0.9h-1.7zM362.4 215.0h2.7v1.2h-2.7zM368.3 215.9h2.0v2.2h-2.0zM361.5 221.0h1.7v3.3h-1.7zM370.2 219.4h2.0v1.7h-2.0zM362.8 220.3h2.3v0.9h-2.3zM365.0 221.1h1.4v3.4h-1.4zM367.7 224.4h1.2v3.1h-1.2zM360.7 224.8h1.8v1.3h-1.8zM373.2 225.9h1.7v1.4h-1.7zM362.3 224.0h2.1v3.0h-2.1zM360.4 227.4h1.0v2.6h-1.0zM373.1 230.3h0.9v3.1h-0.9zM366.7 230.0h3.0v1.8h-3.0zM363.8 229.8h0.8v2.3h-0.8zM360.7 231.5h1.4v1.1h-1.4zM359.7 232.6h0.9v0.9h-0.9zM362.6 235.0h2.4v1.2h-2.4zM368.9 233.6h1.8v1.1h-1.8zM358.9 236.9h1.1v2.4h-1.1zM372.7 238.9h2.1v2.7h-2.1zM362.6 235.9h1.7v2.5h-1.7zM359.9 238.0h1.0v2.9h-1.0zM358.6 240.5h2.7v1.2h-2.7zM359.7 243.6h2.5v2.4h-2.5zM364.9 242.6h2.5v2.7h-2.5zM361.6 241.7h2.9v2.8h-2.9zM363.8 246.5h1.9v1.7h-1.9zM368.3 245.4h2.2v0.9h-2.2zM361.5 245.0h3.0v1.6h-3.0zM358.9 245.5h0.9v1.8h-0.9zM362.0 251.3h0.9v3.4h-0.9zM358.5 248.4h1.8v2.8h-1.8zM358.9 251.0h1.3v2.3h-1.3zM366.4 248.4h1.6v0.9h-1.6zM358.5 255.3h1.0v1.6h-1.0zM359.6 255.5h1.5v1.9h-1.5zM381.0 255.4h2.3v1.0h-2.3zM367.6 254.9h1.8v1.2h-1.8zM365.1 257.3h3.0v3.0h-3.0zM356.8 259.0h2.9v3.1h-2.9zM356.2 260.2h1.1v2.4h-1.1zM363.1 258.2h2.1v2.4h-2.1zM367.8 262.3h1.8v3.2h-1.8zM361.1 262.3h3.0v2.6h-3.0zM357.7 262.1h1.7v1.4h-1.7zM357.9 263.7h1.7v1.8h-1.7zM359.3 267.1h2.4v2.4h-2.4zM365.8 265.8h2.7v1.2h-2.7zM357.4 265.8h2.1v0.9h-2.1zM370.1 265.8h1.7v1.9h-1.7zM364.2 272.3h1.9v2.1h-1.9zM356.6 272.0h0.8v3.2h-0.8zM363.1 269.2h2.6v2.2h-2.6zM356.8 271.2h2.4v1.2h-2.4zM359.6 274.4h2.8v2.9h-2.8zM357.4 273.1h2.0v2.5h-2.0zM360.3 276.0h1.1v1.7h-1.1zM370.7 275.1h1.0v1.7h-1.0zM374.3 277.8h2.8v2.9h-2.8zM366.4 278.8h2.3v0.9h-2.3zM362.6 278.8h1.2v1.2h-1.2zM358.7 278.2h1.5v2.2h-1.5zM360.7 282.9h2.8v2.1h-2.8zM362.9 284.6h2.7v1.1h-2.7zM369.8 284.9h2.8v1.3h-2.8zM358.9 284.5h1.6v1.6h-1.6zM361.7 287.8h1.1v1.6h-1.1zM365.9 286.7h2.1v2.6h-2.1zM366.7 286.6h2.2v2.4h-2.2zM360.8 289.3h1.5v1.9h-1.5zM360.7 290.6h1.2v1.9h-1.2zM364.3 291.5h1.3v2.7h-1.3zM360.4 292.0h2.1v3.4h-2.1zM358.8 292.2h1.5v1.2h-1.5zM368.4 294.3h0.9v1.5h-0.9zM359.4 297.1h2.6v1.2h-2.6zM358.0 297.6h2.0v2.4h-2.0zM370.9 297.7h3.0v2.4h-3.0zM364.9 299.2h2.1v2.4h-2.1zM357.4 298.0h1.8v1.5h-1.8zM371.3 300.0h1.3v3.4h-1.3zM358.1 300.2h1.7v1.1h-1.7zM361.1 303.7h0.8v1.4h-0.8zM372.7 303.8h1.3v3.0h-1.3zM361.3 303.3h1.7v2.2h-1.7zM364.2 303.7h2.5v3.2h-2.5zM360.6 309.5h1.1v2.2h-1.1zM357.0 307.0h1.0v0.8h-1.0zM358.4 309.9h2.0v1.9h-2.0zM360.4 307.0h2.7v1.4h-2.7zM360.8 311.3h0.8v2.7h-0.8zM363.4 310.8h1.9v3.1h-1.9zM372.0 312.3h3.0v1.9h-3.0zM356.6 313.1h2.0v1.9h-2.0zM365.2 314.1h2.4v3.5h-2.4zM360.0 315.3h2.1v3.3h-2.1zM366.0 316.8h2.6v2.1h-2.6zM365.3 314.2h2.3v3.1h-2.3zM367.4 319.4h0.9v2.4h-0.9zM361.7 320.0h2.7v1.6h-2.7zM365.2 320.5h2.0v2.3h-2.0zM377.9 321.3h1.0v2.0h-1.0zM357.4 322.7h2.5v1.8h-2.5zM365.0 325.0h2.3v2.8h-2.3zM364.8 322.3h3.0v3.1h-3.0zM357.7 323.3h2.2v1.7h-2.2zM372.8 329.9h1.3v1.9h-1.3zM365.5 329.2h2.1v1.3h-2.1zM362.3 327.6h2.9v1.8h-2.9zM362.4 328.4h2.8v2.8h-2.8zM360.3 332.9h1.1v1.7h-1.1zM362.4 330.1h1.6v1.9h-1.6zM369.3 333.6h1.5v3.4h-1.5zM365.0 330.2h2.1v2.7h-2.1zM385.9 336.8h2.1v2.3h-2.1zM362.9 335.3h2.6v2.2h-2.6zM359.1 335.3h1.5v1.8h-1.5zM362.4 335.9h2.1v1.7h-2.1zM367.7 338.3h3.0v1.3h-3.0zM367.7 339.4h2.5v2.8h-2.5zM361.6 338.9h1.6v3.0h-1.6zM367.2 338.1h1.6v3.2h-1.6zM365.9 344.1h1.4v2.8h-1.4zM363.9 344.6h3.0v2.0h-3.0zM366.4 345.8h1.5v2.4h-1.5zM384.0 344.7h1.7v2.5h-1.7zM362.1 349.5h1.4v2.3h-1.4zM364.6 349.3h2.6v2.3h-2.6zM375.9 346.2h1.5v1.8h-1.5zM370.1 346.4h1.9v3.2h-1.9zM363.6 352.2h2.6v1.3h-2.6zM371.7 351.8h2.5v1.4h-2.5zM362.9 353.6h1.8v1.0h-1.8zM364.7 350.3h2.7v2.6h-2.7zM364.6 357.1h1.1v1.6h-1.1zM370.4 354.1h0.8v2.8h-0.8zM362.3 356.4h2.8v1.0h-2.8zM371.3 355.4h0.9v3.0h-0.9zM374.2 360.4h2.5v2.1h-2.5zM367.0 360.5h1.0v2.4h-1.0zM364.4 359.6h1.9v1.5h-1.9zM369.2 358.1h1.4v1.7h-1.4zM370.7 364.0h2.5v3.5h-2.5zM366.6 364.4h1.6v2.5h-1.6zM364.3 363.4h1.8v3.3h-1.8zM369.0 365.9h3.0v1.1h-3.0zM364.2 367.4h1.9v1.6h-1.9zM365.2 366.6h2.2v2.3h-2.2zM369.0 367.7h1.8v1.0h-1.8zM376.9 367.4h2.4v3.3h-2.4zM361.5 373.9h0.9v1.4h-0.9zM361.0 370.4h2.3v0.9h-2.3zM378.0 371.4h2.5v3.2h-2.5zM361.6 371.4h2.6v2.9h-2.6zM369.0 378.4h2.2v0.9h-2.2zM363.4 376.4h2.2v1.6h-2.2zM371.1 376.2h1.1v1.6h-1.1zM364.5 377.8h2.2v3.1h-2.2zM369.7 379.7h2.0v2.6h-2.0zM370.9 381.7h1.2v3.3h-1.2zM371.6 380.4h1.8v2.4h-1.8zM370.2 380.2h1.0v2.2h-1.0zM374.7 386.5h1.0v3.1h-1.0zM380.5 383.3h1.4v1.6h-1.4zM371.7 385.5h2.4v1.4h-2.4zM364.6 386.2h2.5v1.0h-2.5zM367.1 387.3h2.8v2.2h-2.8zM372.2 387.4h2.4v0.9h-2.4zM364.9 389.2h1.7v2.3h-1.7zM377.9 389.6h1.8v2.3h-1.8zM382.0 392.5h2.8v2.2h-2.8zM365.2 392.8h1.2v1.3h-1.2zM369.7 394.4h1.0v2.2h-1.0zM376.4 392.8h2.7v3.0h-2.7zM367.6 396.8h1.0v3.4h-1.0zM363.9 397.7h2.7v2.8h-2.7zM365.2 395.9h0.9v2.4h-0.9zM368.1 398.4h2.4v1.8h-2.4zM374.8 401.1h3.0v0.9h-3.0zM370.8 399.7h1.6v2.8h-1.6zM367.0 399.5h3.0v1.8h-3.0zM367.7 402.7h1.2v2.2h-1.2zM384.4 405.0h2.3v2.7h-2.3zM371.3 404.6h2.0v1.9h-2.0zM369.1 405.7h0.8v2.8h-0.8zM367.9 405.2h2.4v2.8h-2.4zM369.0 410.7h1.0v0.9h-1.0zM366.5 410.5h2.4v1.9h-2.4zM375.9 409.2h0.9v1.2h-0.9zM365.3 407.8h0.8v1.9h-0.8zM379.5 414.0h2.6v0.9h-2.6zM372.3 412.4h1.0v0.9h-1.0zM373.1 414.4h1.1v1.2h-1.1zM368.6 412.0h2.0v1.1h-2.0zM367.3 419.0h1.9v1.9h-1.9zM371.8 417.0h2.4v2.6h-2.4zM369.6 417.2h1.3v3.3h-1.3zM369.9 416.2h2.4v2.7h-2.4zM366.0 421.0h1.4v2.2h-1.4zM367.4 420.5h2.5v1.2h-2.5zM369.2 422.2h1.0v3.0h-1.0zM378.5 421.7h1.4v2.2h-1.4zM376.2 427.7h1.7v2.5h-1.7zM369.4 424.9h1.0v2.7h-1.0zM372.0 424.5h3.0v3.2h-3.0zM366.7 425.0h2.8v1.7h-2.8zM371.3 428.9h1.4v2.4h-1.4zM375.5 431.8h2.8v3.0h-2.8zM368.9 428.3h1.6v1.9h-1.6zM371.3 428.7h1.1v3.1h-1.1zM368.0 434.2h1.2v2.7h-1.2zM368.6 435.7h2.0v2.4h-2.0zM367.3 432.8h2.0v1.5h-2.0zM382.1 435.3h2.5v1.4h-2.5zM366.9 440.0h1.2v1.5h-1.2zM377.8 439.8h2.4v1.6h-2.4zM371.5 437.9h1.1v3.3h-1.1zM376.9 437.2h0.8v3.3h-0.8zM378.0 441.9h2.0v0.9h-2.0zM370.1 440.7h2.8v2.7h-2.8zM369.5 442.1h3.0v2.8h-3.0zM368.3 442.0h2.8v1.2h-2.8zM369.6 447.4h2.1v3.1h-2.1zM371.0 445.7h2.6v2.8h-2.6zM366.7 445.3h2.8v2.8h-2.8zM370.5 445.0h1.7v1.7h-1.7zM373.2 450.1h1.4v1.0h-1.4zM368.1 448.8h2.7v1.3h-2.7zM383.5 451.9h1.9v1.5h-1.9zM369.5 451.1h1.6v2.1h-1.6zM363.0 455.1h2.9v2.0h-2.9zM372.1 455.5h2.2v0.9h-2.2zM365.3 453.1h1.9v2.9h-1.9zM363.8 455.0h1.3v3.5h-1.3zM370.6 460.8h2.5v3.3h-2.5zM367.6 458.6h3.0v3.5h-3.0zM366.1 457.0h2.3v1.3h-2.3zM369.9 459.0h2.8v1.0h-2.8zM374.1 464.6h2.0v3.3h-2.0zM364.5 461.6h1.3v2.8h-1.3zM367.7 462.4h2.2v1.0h-2.2zM375.3 461.3h3.0v2.1h-3.0zM363.8 468.0h0.9v2.6h-0.9zM365.9 466.2h2.2v3.5h-2.2zM367.2 465.8h2.0v1.4h-2.0zM371.4 466.4h1.9v3.3h-1.9zM367.2 471.6h2.4v2.9h-2.4zM387.4 470.6h2.3v2.1h-2.3zM380.8 469.2h2.0v2.7h-2.0zM368.8 470.2h1.9v3.2h-1.9zM367.2 476.1h2.3v2.9h-2.3zM365.9 475.6h1.2v1.4h-1.2zM362.1 474.2h2.2v3.0h-2.2zM367.9 476.0h1.2v3.4h-1.2zM378.8 480.1h1.4v0.9h-1.4zM375.4 478.1h2.7v3.3h-2.7zM366.4 481.3h3.0v2.4h-3.0zM366.3 480.4h1.2v2.7h-1.2zM369.4 485.3h2.5v3.5h-2.5zM367.7 481.9h1.5v2.1h-1.5zM364.1 484.8h1.6v1.8h-1.6zM361.6 482.9h1.7v1.8h-1.7zM369.8 488.7h2.1v3.2h-2.1zM371.5 488.0h2.8v3.3h-2.8zM364.9 488.2h1.3v2.5h-1.3zM364.6 485.7h3.0v2.4h-3.0zM365.3 492.2h2.2v1.6h-2.2zM368.1 489.9h2.9v0.8h-2.9zM365.4 491.4h2.6v1.8h-2.6zM374.0 493.3h2.9v3.0h-2.9zM367.4 494.3h1.8v1.9h-1.8zM366.2 495.5h0.8v2.1h-0.8zM363.2 496.3h2.0v1.8h-2.0zM374.8 496.2h2.8v1.8h-2.8zM380.5 499.1h3.0v1.5h-3.0zM363.1 498.9h2.9v2.2h-2.9zM373.3 500.3h2.7v1.6h-2.7zM364.7 501.6h2.6v3.3h-2.6zM365.0 504.2h0.9v1.4h-0.9zM371.1 503.5h1.9v3.2h-1.9zM367.4 504.3h1.8v3.0h-1.8zM366.8 503.8h1.6v3.4h-1.6zM361.5 508.9h2.8v3.5h-2.8zM363.8 506.6h2.2v1.1h-2.2zM363.6 508.8h1.3v2.2h-1.3zM366.2 507.4h1.7v3.1h-1.7zM363.7 510.3h2.7v2.1h-2.7zM369.0 511.7h0.9v3.0h-0.9zM367.4 513.8h2.5v2.6h-2.5zM365.1 513.8h1.3v2.9h-1.3zM368.6 514.9h1.1v2.3h-1.1zM366.6 517.9h2.8v1.4h-2.8zM369.1 515.7h2.1v1.3h-2.1zM375.6 517.1h2.2v3.3h-2.2zM376.0 518.5h1.5v1.5h-1.5zM363.2 518.8h2.3v1.9h-2.3zM364.4 520.2h1.4v1.8h-1.4zM381.4 521.1h2.0v3.4h-2.0zM369.9 524.2h2.0v1.2h-2.0zM367.3 522.3h0.8v1.8h-0.8zM369.0 525.7h1.8v1.2h-1.8zM368.6 522.4h1.5v2.5h-1.5zM368.8 526.5h2.0v1.2h-2.0zM366.5 529.5h2.7v2.5h-2.7zM370.6 527.3h2.1v2.0h-2.1zM369.4 527.9h1.2v3.4h-1.2zM365.8 530.7h2.7v3.3h-2.7zM376.1 531.3h2.8v2.3h-2.8zM364.5 533.6h2.2v2.3h-2.2zM370.3 532.8h2.7v2.7h-2.7zM378.7 536.3h1.7v3.5h-1.7zM364.1 535.0h2.6v2.9h-2.6zM366.0 536.9h1.2v2.9h-1.2zM368.9 536.2h1.3v1.2h-1.3zM367.2 540.6h1.4v3.3h-1.4zM366.9 541.1h2.3v1.3h-2.3zM364.7 539.5h2.1v2.5h-2.1zM382.4 538.8h3.0v2.5h-3.0zM367.3 543.5h2.6v1.8h-2.6zM369.9 543.3h1.5v1.1h-1.5zM368.5 545.2h1.5v0.9h-1.5zM378.1 544.8h1.1v2.8h-1.1zM373.3 547.4h2.6v1.8h-2.6zM374.9 547.8h2.4v2.0h-2.4zM370.4 548.3h1.1v1.2h-1.1zM370.3 549.1h2.4v1.0h-2.4zM366.7 550.7h1.4v0.8h-1.4zM372.2 553.5h2.4v3.2h-2.4zM378.6 550.7h1.3v2.2h-1.3zM372.4 553.2h1.3v3.3h-1.3zM374.3 557.6h2.9v1.6h-2.9zM370.7 556.2h2.7v2.7h-2.7zM366.2 554.8h2.8v2.5h-2.8zM369.8 555.2h1.7v3.4h-1.7zM367.3 558.7h3.0v3.1h-3.0zM373.1 559.6h1.0v3.1h-1.0zM368.6 560.5h2.1v3.1h-2.1zM367.7 561.6h2.2v1.8h-2.2zM380.5 565.2h2.6v2.5h-2.6zM369.7 562.5h2.2v3.4h-2.2zM375.7 565.1h2.1v0.9h-2.1zM374.5 564.8h1.3v3.5h-1.3zM376.1 567.1h1.9v1.2h-1.9zM376.6 569.3h2.7v1.6h-2.7zM368.5 568.8h1.5v2.9h-1.5zM368.8 569.2h2.9v2.6h-2.9zM388.6 571.3h2.6v2.4h-2.6zM368.7 573.9h2.7v3.5h-2.7zM371.3 572.9h1.5v2.1h-1.5zM367.0 571.3h2.2v0.9h-2.2zM371.0 576.1h2.8v3.1h-2.8zM368.3 578.0h1.9v1.5h-1.9zM367.0 576.2h1.8v1.5h-1.8zM372.0 577.9h1.8v0.8h-1.8zM369.4 579.1h1.8v2.0h-1.8zM369.1 581.0h1.1v3.3h-1.1zM370.1 580.7h2.8v0.9h-2.8zM375.5 578.5h2.8v2.7h-2.8zM371.2 585.0h1.8v1.9h-1.8zM371.1 585.6h1.8v1.3h-1.8zM369.1 584.7h1.4v2.0h-1.4zM366.8 584.6h1.8v2.8h-1.8zM371.9 589.9h2.3v1.7h-2.3zM392.4 586.2h2.6v2.6h-2.6zM370.2 588.5h1.4v3.3h-1.4zM373.8 588.1h2.1v3.5h-2.1zM365.9 592.6h3.0v1.5h-3.0zM368.9 594.0h2.9v2.9h-2.9zM372.9 590.6h2.2v1.2h-2.2zM366.9 592.6h1.6v1.3h-1.6zM378.2 595.5h2.0v2.9h-2.0zM368.4 596.9h2.2v1.2h-2.2zM372.3 597.2h1.6v3.3h-1.6zM372.8 596.5h1.8v2.3h-1.8zM393.2 601.4h2.2v1.5h-2.2zM369.3 599.9h1.8v2.4h-1.8zM367.0 601.6h2.0v3.1h-2.0zM379.4 601.4h2.3v0.8h-2.3zM367.6 603.9h2.7v1.9h-2.7zM370.1 605.7h2.5v3.0h-2.5zM369.5 604.2h3.0v1.8h-3.0zM372.4 603.2h1.1v2.3h-1.1zM368.2 606.3h0.9v2.4h-0.9zM373.8 607.3h2.2v2.8h-2.2zM377.1 607.0h2.8v2.6h-2.8zM379.0 607.3h1.9v1.6h-1.9zM366.6 610.9h1.8v3.1h-1.8zM368.0 611.8h1.1v1.2h-1.1zM367.0 610.1h1.4v3.1h-1.4zM364.5 611.3h1.0v0.8h-1.0zM367.0 614.5h2.4v1.7h-2.4zM369.1 614.7h2.9v2.2h-2.9zM374.3 617.0h1.0v1.5h-1.0zM372.3 614.3h1.9v1.9h-1.9zM370.7 620.9h1.8v1.2h-1.8zM368.3 620.2h1.4v1.7h-1.4zM370.9 619.7h2.4v1.9h-2.4zM369.8 619.2h0.8v3.2h-0.8zM372.9 624.8h2.5v3.1h-2.5zM376.2 622.7h1.4v2.7h-1.4zM407.2 624.3h2.9v1.9h-2.9zM366.4 622.3h2.2v2.5h-2.2zM365.2 627.8h2.8v0.9h-2.8zM371.7 629.1h1.3v1.6h-1.3zM367.6 627.2h1.0v2.3h-1.0zM366.4 629.2h2.7v1.3h-2.7zM367.0 630.7h2.9v2.5h-2.9zM377.2 633.4h1.3v1.4h-1.3zM381.0 631.9h0.9v3.3h-0.9zM369.3 630.4h0.8v3.2h-0.8zM374.2 637.7h1.7v1.5h-1.7zM375.6 636.2h2.5v1.2h-2.5zM366.4 636.3h2.0v3.3h-2.0zM376.0 635.6h1.5v2.2h-1.5zM371.5 639.9h2.3v1.6h-2.3zM373.8 640.8h1.4v1.6h-1.4zM378.8 638.8h1.2v2.6h-1.2zM366.1 642.0h1.0v1.2h-1.0zM383.3 645.2h1.2v2.0h-1.2zM373.6 643.5h2.8v1.1h-2.8zM370.1 643.5h1.7v1.5h-1.7zM367.2 643.4h2.8v2.7h-2.8zM369.2 649.3h1.6v2.5h-1.6zM367.5 646.1h1.5v2.6h-1.5zM367.0 647.6h1.3v2.1h-1.3zM366.3 648.2h1.2v2.6h-1.2zM367.7 651.2h2.8v0.9h-2.8zM368.4 650.3h2.1v1.2h-2.1zM367.5 652.3h1.9v1.0h-1.9zM372.5 650.6h2.2v2.3h-2.2zM383.0 656.8h2.0v0.9h-2.0zM364.0 657.3h1.5v2.0h-1.5zM368.8 657.5h2.5v1.6h-2.5zM366.2 655.3h2.6v1.5h-2.6zM364.7 660.6h2.6v2.6h-2.6zM366.6 660.6h1.8v2.9h-1.8zM364.4 660.8h1.5v3.1h-1.5zM384.8 660.1h1.6v1.1h-1.6zM367.2 665.0h1.9v3.3h-1.9zM366.3 663.3h2.2v2.6h-2.2zM368.1 663.3h2.5v1.2h-2.5zM366.5 662.0h2.2v2.0h-2.2zM366.7 667.4h2.9v2.4h-2.9zM365.9 668.4h0.9v0.9h-0.9zM368.6 669.6h2.1v1.7h-2.1zM371.7 667.6h1.1v1.3h-1.1zM375.1 670.9h1.2v1.1h-1.2zM368.5 672.6h2.6v1.4h-2.6zM368.5 670.9h2.2v2.1h-2.2zM368.4 670.4h1.4v2.0h-1.4zM369.6 674.3h2.3v3.5h-2.3zM368.7 674.0h2.1v2.7h-2.1zM364.9 676.1h1.9v2.3h-1.9zM370.8 675.5h1.0v1.4h-1.0zM368.5 681.1h3.0v3.1h-3.0zM372.0 679.1h2.6v2.9h-2.6zM369.0 680.8h2.5v3.5h-2.5zM384.2 678.3h2.4v2.6h-2.4zM382.2 683.0h2.0v1.9h-2.0zM367.2 684.8h1.0v2.7h-1.0zM396.3 685.3h2.1v3.1h-2.1zM370.9 682.9h1.0v2.6h-1.0zM364.8 689.1h1.6v2.3h-1.6zM363.8 687.3h2.3v3.3h-2.3zM364.0 686.7h2.2v1.2h-2.2zM394.2 688.1h1.6v3.0h-1.6zM362.7 690.6h2.0v1.6h-2.0zM363.5 690.7h2.2v1.5h-2.2zM370.4 690.3h1.6v1.4h-1.6zM364.6 693.0h1.9v1.7h-1.9zM368.0 695.3h0.8v0.8h-0.8zM373.6 697.9h2.6v1.7h-2.6zM368.7 697.5h2.2v2.7h-2.2zM371.5 695.4h1.1v1.2h-1.1zM364.9 699.0h3.0v1.9h-3.0zM363.7 698.1h1.3v2.4h-1.3zM364.0 701.5h2.6v1.1h-2.6zM365.0 698.1h2.4v2.3h-2.4zM381.5 703.5h1.3v1.1h-1.3zM379.1 703.3h1.8v2.9h-1.8zM367.5 705.8h0.9v1.4h-0.9zM368.5 704.6h2.7v1.0h-2.7zM370.1 708.3h1.3v3.0h-1.3zM368.2 707.9h1.7v1.5h-1.7zM376.6 706.4h2.2v2.3h-2.2zM365.9 707.6h1.3v2.3h-1.3zM373.2 710.2h1.3v3.4h-1.3zM370.3 710.3h1.9v3.1h-1.9zM372.8 713.0h2.4v2.2h-2.4zM370.2 713.4h2.1v1.7h-2.1zM369.0 714.7h2.0v0.8h-2.0zM368.8 717.2h2.8v1.2h-2.8zM368.6 717.0h2.1v2.4h-2.1zM379.0 716.4h1.0v1.7h-1.0zM377.6 719.8h2.3v3.4h-2.3zM376.7 718.5h1.6v3.5h-1.6zM380.4 721.6h1.2v2.3h-1.2zM375.5 720.9h2.8v2.9h-2.8zM385.9 722.1h2.4v2.9h-2.4zM380.6 722.3h2.8v1.9h-2.8zM369.2 724.8h1.6v1.4h-1.6zM371.1 722.8h2.1v3.4h-2.1zM377.5 729.9h2.2v1.5h-2.2zM370.3 728.3h0.8v1.0h-0.8zM387.4 728.9h0.9v1.0h-0.9zM370.7 728.1h2.6v0.9h-2.6zM370.0 733.6h1.3v3.3h-1.3zM372.9 732.2h2.6v3.0h-2.6zM384.6 731.7h0.9v3.2h-0.9zM368.9 732.6h1.9v3.2h-1.9zM374.1 737.2h2.3v1.7h-2.3zM371.7 734.4h1.1v1.3h-1.1zM369.9 734.5h1.1v2.3h-1.1zM374.7 735.1h2.7v3.0h-2.7zM375.8 738.6h1.6v1.8h-1.6zM377.9 739.1h1.8v1.3h-1.8zM370.6 742.0h1.9v3.1h-1.9zM373.3 741.2h1.1v3.0h-1.1zM367.5 744.3h2.3v2.4h-2.3zM367.5 744.1h2.8v2.2h-2.8zM368.3 743.0h1.4v2.4h-1.4zM372.9 744.9h2.5v3.4h-2.5zM372.5 749.8h2.5v1.8h-2.5zM371.4 748.6h1.4v3.3h-1.4zM369.7 746.1h1.5v1.6h-1.5zM369.0 746.5h2.8v2.4h-2.8zM372.5 751.1h2.6v1.3h-2.6zM372.6 751.5h1.7v3.5h-1.7zM374.0 753.5h1.0v1.4h-1.0zM370.3 753.9h0.8v2.8h-0.8zM373.0 756.0h1.4v2.2h-1.4zM373.5 754.0h2.3v3.0h-2.3zM373.7 754.3h1.9v3.0h-1.9zM390.1 755.5h1.5v1.0h-1.5zM370.0 759.3h1.5v0.9h-1.5zM372.4 760.2h2.2v3.2h-2.2zM379.0 761.3h1.3v1.3h-1.3zM378.4 758.2h1.8v2.9h-1.8zM378.7 762.5h1.4v2.0h-1.4zM379.3 764.6h2.7v1.0h-2.7zM369.7 765.9h1.8v2.3h-1.8zM371.7 764.4h1.1v2.0h-1.1zM367.9 768.6h2.8v2.9h-2.8zM369.6 770.0h1.7v1.8h-1.7zM369.1 767.2h2.6v3.1h-2.6zM384.8 769.8h2.7v2.6h-2.7zM372.9 771.8h1.1v1.8h-1.1zM385.2 770.8h2.0v2.6h-2.0zM372.0 770.6h2.7v1.0h-2.7zM371.7 774.1h1.4v2.2h-1.4zM377.2 776.4h2.3v2.1h-2.3zM373.1 775.8h2.7v3.0h-2.7zM369.5 778.4h1.5v2.0h-1.5zM370.2 774.8h0.9v2.3h-0.9zM373.9 780.2h1.4v2.8h-1.4zM370.7 780.1h2.3v1.7h-2.3zM377.8 780.4h1.0v3.0h-1.0zM381.1 779.3h1.3v1.3h-1.3zM371.6 785.9h1.2v2.3h-1.2zM371.1 784.9h1.8v3.3h-1.8zM383.6 783.9h2.5v0.8h-2.5zM381.1 784.9h1.6v3.1h-1.6zM368.8 788.6h1.3v1.1h-1.3zM377.8 790.1h1.9v0.8h-1.9zM368.6 788.4h2.8v2.6h-2.8zM370.9 788.9h1.4v1.9h-1.4zM392.1 794.5h1.3v3.0h-1.3zM374.7 794.4h2.8v2.5h-2.8zM369.9 794.6h1.7v2.8h-1.7zM370.4 792.0h2.2v2.1h-2.2zM371.2 797.9h1.9v1.0h-1.9zM372.1 795.2h2.3v1.4h-2.3zM371.6 796.0h3.0v2.4h-3.0zM373.4 795.5h0.9v1.1h-0.9zM368.0 801.9h2.8v2.4h-2.8zM369.6 800.5h1.0v2.5h-1.0zM368.1 802.1h0.9v3.2h-0.9zM369.4 803.0h1.3v3.4h-1.3zM372.7 805.6h1.7v3.0h-1.7zM370.7 804.3h2.9v3.3h-2.9zM389.3 807.1h2.7v3.5h-2.7zM370.4 804.0h2.6v1.3h-2.6zM370.9 810.8h1.5v1.7h-1.5zM374.9 808.1h0.8v3.0h-0.8zM377.8 810.0h1.3v3.4h-1.3zM374.6 807.7h1.4v3.1h-1.4zM377.4 813.1h2.0v1.9h-2.0zM367.9 813.0h1.9v2.1h-1.9zM369.0 812.4h2.1v2.0h-2.1zM369.2 814.4h1.2v0.9h-1.2zM371.2 816.1h2.3v1.8h-2.3zM371.5 817.9h2.4v1.7h-2.4zM370.6 818.9h2.9v2.0h-2.9zM371.5 818.4h2.9v1.4h-2.9zM379.1 823.2h2.2v1.1h-2.2zM374.9 820.0h2.3v2.5h-2.3zM368.5 823.0h1.5v1.4h-1.5zM367.3 820.5h1.4v1.3h-1.4zM378.0 827.0h0.9v0.9h-0.9zM368.5 826.3h1.4v1.2h-1.4zM367.2 823.9h1.7v2.5h-1.7zM369.7 827.1h1.1v0.9h-1.1zM367.1 828.2h1.2v3.4h-1.2zM370.1 831.9h2.4v2.3h-2.4zM370.0 829.5h2.7v1.5h-2.7zM396.2 831.4h1.7v2.4h-1.7zM378.1 833.6h2.8v0.9h-2.8zM381.9 833.1h1.6v1.4h-1.6zM376.8 832.9h2.0v1.8h-2.0zM368.3 832.3h1.3v2.1h-1.3zM370.2 838.4h2.1v2.8h-2.1zM373.9 837.1h1.2v3.0h-1.2zM368.3 839.5h2.1v1.1h-2.1zM375.2 837.0h2.4v1.7h-2.4zM367.2 841.3h1.3v2.5h-1.3zM370.6 843.3h2.5v3.2h-2.5zM368.2 843.0h2.4v3.4h-2.4zM366.5 840.4h2.0v2.1h-2.0zM370.9 848.2h2.7v2.1h-2.7zM379.5 845.2h1.8v2.2h-1.8zM374.8 846.4h1.1v2.2h-1.1zM375.5 848.0h2.4v3.3h-2.4zM376.2 851.4h1.1v2.0h-1.1zM369.1 849.0h0.8v2.4h-0.8zM366.2 849.5h1.2v1.4h-1.2zM369.0 850.2h2.4v2.4h-2.4zM370.7 856.3h1.8v1.7h-1.8zM370.9 854.5h2.4v2.3h-2.4zM373.0 855.4h2.5v2.1h-2.5zM370.0 853.8h2.3v1.4h-2.3zM382.8 858.0h2.3v2.5h-2.3zM372.6 859.4h1.5v1.4h-1.5zM368.7 858.3h0.9v2.6h-0.9zM370.2 859.4h2.2v3.2h-2.2zM366.6 864.7h2.5v2.3h-2.5zM366.5 862.1h1.6v1.0h-1.6zM369.3 863.9h1.8v1.7h-1.8zM380.7 864.1h2.1v2.0h-2.1zM372.2 867.3h2.1v1.5h-2.1zM373.5 867.5h1.1v2.4h-1.1zM371.6 868.8h2.3v3.3h-2.3zM382.1 867.9h2.6v1.2h-2.6zM373.6 870.7h2.0v2.0h-2.0zM369.2 872.4h1.7v1.3h-1.7zM371.5 873.0h2.9v2.2h-2.9zM383.7 871.7h1.0v2.2h-1.0zM379.4 874.3h1.7v2.9h-1.7zM368.4 874.4h1.7v2.4h-1.7zM366.9 876.8h0.9v1.3h-0.9zM376.5 874.9h1.5v2.0h-1.5zM370.0 879.6h1.3v0.9h-1.3zM383.6 877.9h2.6v2.5h-2.6zM368.5 879.9h1.9v3.5h-1.9zM372.4 878.1h1.8v2.8h-1.8zM387.2 883.2h2.9v2.6h-2.9zM375.9 884.0h0.8v1.5h-0.8zM374.9 885.2h1.4v2.7h-1.4zM374.1 885.0h1.9v3.0h-1.9zM366.4 887.1h1.3v1.7h-1.3zM380.4 886.4h0.8v2.5h-0.8zM364.0 888.7h1.6v2.0h-1.6zM364.7 887.0h2.3v0.9h-2.3zM367.1 891.2h1.1v2.2h-1.1zM366.9 891.3h1.4v2.9h-1.4zM371.3 893.1h2.3v3.0h-2.3zM371.3 893.6h1.9v1.7h-1.9zM365.1 895.5h1.0v1.1h-1.0zM376.7 897.6h2.9v2.6h-2.9zM366.1 896.1h2.0v1.7h-2.0zM376.5 894.2h1.2v2.2h-1.2zM366.2 898.1h1.6v2.2h-1.6zM375.4 899.2h0.8v2.9h-0.8zM368.0 899.9h2.6v0.9h-2.6zM366.5 898.8h2.4v2.8h-2.4zM373.7 902.7h1.1v1.2h-1.1zM367.9 903.8h2.9v1.6h-2.9zM369.2 903.3h2.7v1.4h-2.7zM365.8 904.0h2.9v2.8h-2.9zM366.1 907.4h2.1v1.8h-2.1zM370.1 906.7h0.9v1.1h-0.9zM398.8 907.6h1.1v1.9h-1.1zM367.2 909.4h2.3v2.8h-2.3zM365.3 912.8h2.9v2.5h-2.9zM366.3 913.4h2.0v0.8h-2.0zM366.7 912.3h2.2v2.3h-2.2zM365.8 913.6h2.4v1.4h-2.4zM366.1 914.2h2.8v0.9h-2.8zM362.9 916.2h1.9v1.0h-1.9zM363.4 917.6h1.0v2.5h-1.0zM369.2 917.7h0.9v2.3h-0.9zM363.5 921.1h2.8v3.1h-2.8zM367.3 918.6h1.6v1.1h-1.6zM362.6 919.7h2.8v2.8h-2.8zM373.3 918.2h2.0v2.6h-2.0zM377.5 923.5h1.4v1.8h-1.4zM365.3 924.3h2.3v1.5h-2.3zM365.3 922.5h1.3v3.0h-1.3zM366.6 923.0h1.4v2.9h-1.4zM369.3 928.2h1.7v2.4h-1.7zM366.7 926.2h2.4v3.0h-2.4zM363.8 929.0h1.9v2.9h-1.9zM370.2 928.3h1.5v2.2h-1.5zM362.7 932.1h2.3v0.9h-2.3zM365.4 932.9h1.9v3.1h-1.9zM367.2 932.6h1.8v2.6h-1.8zM363.7 933.7h1.8v1.2h-1.8zM364.9 935.7h2.1v3.2h-2.1zM364.6 935.5h0.9v2.1h-0.9zM366.1 935.1h2.3v2.3h-2.3zM373.1 937.5h2.4v1.4h-2.4zM366.6 940.2h1.0v2.4h-1.0zM368.6 941.6h2.3v1.7h-2.3zM364.0 938.5h0.9v2.8h-0.9zM368.4 939.4h1.2v1.7h-1.2zM368.2 944.5h1.1v2.5h-1.1zM365.7 942.1h3.0v2.1h-3.0zM381.6 945.1h1.7v2.3h-1.7zM373.8 945.7h2.4v3.3h-2.4zM382.4 947.4h2.0v1.7h-2.0zM366.7 946.3h2.4v2.5h-2.4zM362.7 948.4h1.7v2.8h-1.7zM367.8 949.0h2.9v2.6h-2.9zM366.0 952.8h2.4v3.2h-2.4zM366.1 952.3h2.8v1.8h-2.8zM366.7 952.4h1.8v3.1h-1.8zM376.6 953.6h2.7v1.0h-2.7zM377.4 956.7h1.3v3.0h-1.3zM367.2 955.5h1.2v3.2h-1.2zM365.0 957.8h0.9v1.3h-0.9zM363.5 956.9h2.9v1.3h-2.9zM364.9 960.4h2.3v0.8h-2.3zM365.3 958.6h1.4v2.5h-1.4zM363.5 958.5h1.0v2.6h-1.0zM374.3 961.6h3.0v1.4h-3.0zM363.4 965.2h2.3v2.8h-2.3zM368.6 965.1h1.2v3.0h-1.2zM365.7 964.9h1.6v1.6h-1.6zM363.8 963.8h2.5v2.1h-2.5zM368.0 967.9h1.6v1.8h-1.6zM365.5 967.8h1.4v2.3h-1.4zM365.1 967.3h1.9v2.0h-1.9zM365.2 966.9h1.8v3.2h-1.8zM365.5 972.3h1.2v2.0h-1.2zM368.4 973.5h2.5v2.6h-2.5zM388.5 970.7h2.7v1.4h-2.7zM372.2 973.1h2.9v3.1h-2.9zM367.3 976.7h1.9v2.4h-1.9zM370.8 975.9h2.3v1.3h-2.3zM369.2 976.6h1.0v1.3h-1.0zM369.1 977.5h1.8v3.3h-1.8zM369.9 981.9h2.2v2.9h-2.2zM370.6 981.0h1.8v1.0h-1.8zM365.7 981.4h1.4v1.3h-1.4zM370.9 979.0h2.1v0.8h-2.1zM381.1 983.1h1.1v1.8h-1.1zM366.9 983.9h1.1v2.8h-1.1zM367.9 984.6h2.6v2.0h-2.6zM367.0 982.2h0.8v1.6h-0.8zM375.3 989.1h1.7v1.1h-1.7zM365.9 989.2h2.5v2.5h-2.5zM364.9 989.8h2.5v1.4h-2.5zM373.1 989.7h0.8v1.5h-0.8zM371.6 990.4h1.7v2.5h-1.7zM370.9 990.0h1.8v3.5h-1.8zM372.4 992.1h1.7v1.9h-1.7zM374.8 992.3h1.2v2.6h-1.2zM366.2 996.0h1.9v2.4h-1.9zM366.9 996.9h1.7v1.6h-1.7zM366.8 996.4h1.1v1.5h-1.1zM365.9 995.1h1.0v1.7h-1.0zM379.6 999.8h2.3v2.4h-2.3zM370.8 1001.5h1.6v3.4h-1.6zM374.1 1000.9h2.6v2.3h-2.6zM369.8 1000.8h2.7v3.3h-2.7zM376.8 1003.0h2.1v1.2h-2.1zM369.9 1002.0h2.1v1.9h-2.1zM372.6 1004.4h1.9v1.8h-1.9zM372.2 1005.9h2.3v2.7h-2.3zM377.2 1008.9h2.7v0.9h-2.7zM370.3 1007.5h2.7v1.2h-2.7zM372.6 1009.6h0.9v2.7h-0.9zM369.5 1007.0h1.3v1.4h-1.3zM370.7 1013.2h0.9v2.5h-0.9zM368.1 1012.8h2.2v1.5h-2.2zM368.6 1011.1h1.1v1.1h-1.1zM373.0 1013.2h2.9v0.9h-2.9zM370.3 1015.0h2.7v2.1h-2.7zM379.3 1015.5h2.5v1.9h-2.5zM375.9 1017.8h1.6v3.4h-1.6zM374.3 1015.7h2.6v1.1h-2.6zM369.5 1021.3h1.6v1.7h-1.6zM368.0 1020.6h1.0v0.8h-1.0zM367.0 1018.9h2.8v2.4h-2.8zM369.5 1020.1h2.7v1.2h-2.7zM369.8 1023.0h2.0v3.1h-2.0zM370.6 1022.3h1.2v2.1h-1.2zM366.9 1024.2h2.0v2.8h-2.0zM366.4 1025.4h2.2v3.0h-2.2zM367.5 1028.9h2.5v0.9h-2.5zM370.6 1027.0h1.0v1.7h-1.0zM374.6 1027.8h1.6v1.9h-1.6zM367.2 1029.0h0.8v1.6h-0.8zM372.3 1032.8h1.1v1.1h-1.1zM372.6 1034.0h0.9v1.8h-0.9zM372.1 1030.1h2.8v3.4h-2.8zM370.1 1030.6h2.8v0.9h-2.8zM370.9 1034.5h2.5v1.8h-2.5zM373.2 1034.2h1.8v2.1h-1.8zM375.2 1037.2h1.7v1.2h-1.7zM371.5 1035.2h2.2v1.0h-2.2zM371.8 1039.3h2.1v3.1h-2.1zM372.4 1039.1h2.3v0.9h-2.3zM373.3 1040.2h0.8v3.0h-0.8zM369.8 1039.1h1.7v3.1h-1.7zM370.8 1043.9h2.2v1.7h-2.2zM379.7 1044.0h2.6v3.3h-2.6zM370.6 1042.1h1.2v3.2h-1.2zM374.7 1042.0h2.1v2.7h-2.1zM366.7 1047.0h1.9v1.5h-1.9zM378.4 1046.8h1.5v1.3h-1.5zM367.7 1046.2h1.5v2.7h-1.5zM371.3 1048.3h2.2v2.6h-2.2zM366.9 1052.1h1.9v1.6h-1.9zM373.1 1052.2h1.8v2.4h-1.8zM383.7 1052.3h2.3v2.5h-2.3zM367.4 1051.3h1.0v2.5h-1.0zM368.5 1055.6h1.4v1.5h-1.4zM367.1 1054.5h1.5v1.8h-1.5zM380.4 1057.9h3.0v2.4h-3.0zM373.0 1057.3h2.4v1.6h-2.4zM378.3 1059.7h1.4v1.3h-1.4zM373.7 1058.8h2.0v2.0h-2.0zM374.9 1060.3h2.8v3.3h-2.8zM378.4 1060.4h2.8v0.9h-2.8zM372.7 1065.8h0.9v0.9h-0.9zM380.1 1063.7h1.4v3.5h-1.4zM373.3 1065.9h1.8v1.1h-1.8zM370.9 1063.2h1.9v0.9h-1.9zM375.0 1069.8h2.9v2.6h-2.9zM377.5 1068.2h2.2v1.8h-2.2zM369.1 1069.7h2.5v1.7h-2.5zM369.4 1068.8h1.0v1.2h-1.0zM372.9 1073.9h3.0v1.7h-3.0zM368.1 1072.3h0.9v2.7h-0.9zM369.0 1073.3h2.0v2.1h-2.0zM370.5 1072.7h1.6v2.3h-1.6zM367.2 1076.3h1.6v2.8h-1.6zM368.7 1077.5h1.0v1.5h-1.0zM377.3 1077.1h2.0v1.7h-2.0zM373.8 1074.9h3.0v0.9h-3.0zM370.5 1080.3h0.9v2.3h-0.9zM367.6 1082.4h1.1v2.2h-1.1zM369.0 1082.3h1.6v2.5h-1.6zM372.6 1079.8h2.5v1.7h-2.5zM378.0 1085.9h2.2v1.2h-2.2zM367.7 1086.5h2.5v2.7h-2.5zM370.0 1083.1h1.3v3.3h-1.3zM371.1 1083.8h1.5v1.1h-1.5zM395.8 1088.5h1.0v3.3h-1.0zM373.5 1089.6h1.6v0.9h-1.6zM367.4 1090.8h0.9v1.2h-0.9zM368.7 1088.6h2.1v1.8h-2.1zM364.2 1092.4h0.8v2.9h-0.8zM379.1 1094.7h1.0v3.1h-1.0zM373.8 1094.3h1.9v1.0h-1.9zM372.9 1091.5h1.3v2.9h-1.3zM368.3 1097.3h0.8v1.1h-0.8zM375.7 1095.7h2.7v2.8h-2.7zM378.6 1097.6h1.2v2.5h-1.2zM365.7 1096.4h1.7v2.9h-1.7zM378.6 1101.8h2.8v1.6h-2.8zM376.2 1102.0h2.0v0.9h-2.0zM366.2 1101.8h2.5v1.2h-2.5zM367.2 1102.6h2.2v3.4h-2.2zM368.6 1104.8h1.9v2.6h-1.9zM370.0 1106.6h1.9v1.2h-1.9zM367.2 1106.2h2.2v3.3h-2.2zM377.9 1105.8h2.1v1.9h-2.1zM374.1 1110.3h2.5v2.2h-2.5zM366.8 1108.5h1.2v2.2h-1.2zM366.9 1108.8h1.0v2.4h-1.0zM365.7 1111.7h0.9v1.8h-0.9zM364.4 1113.1h1.9v2.0h-1.9zM371.9 1114.6h2.4v1.9h-2.4zM371.5 1112.3h2.2v1.2h-2.2zM361.3 1114.6h1.4v3.4h-1.4zM363.7 1119.7h2.1v2.5h-2.1zM370.2 1117.5h2.3v1.5h-2.3zM363.5 1118.2h1.4v1.7h-1.4zM363.7 1118.7h2.3v3.0h-2.3zM362.5 1121.5h1.3v2.9h-1.3zM360.7 1123.0h1.5v3.0h-1.5zM360.6 1124.7h1.0v3.2h-1.0zM372.4 1124.2h2.6v2.2h-2.6zM360.2 1127.3h0.9v2.4h-0.9zM366.9 1128.6h1.9v1.5h-1.9zM365.1 1127.4h1.5v1.3h-1.5zM361.5 1128.5h1.6v2.2h-1.6zM363.2 1131.0h1.1v3.0h-1.1zM359.2 1129.5h1.1v1.6h-1.1zM370.9 1132.4h1.7v1.0h-1.7zM366.9 1131.9h0.9v1.6h-0.9zM362.6 1134.0h1.9v2.7h-1.9zM359.0 1135.7h2.9v1.8h-2.9zM362.3 1134.7h1.0v3.1h-1.0zM367.4 1134.8h2.1v2.0h-2.1zM367.0 1141.0h1.9v3.5h-1.9zM358.5 1141.1h2.5v3.1h-2.5zM358.9 1140.9h1.8v1.5h-1.8zM357.1 1138.2h2.5v1.4h-2.5zM357.2 1145.6h1.3v2.4h-1.3zM367.2 1145.5h2.5v2.1h-2.5zM354.5 1145.6h2.0v1.4h-2.0zM358.4 1143.8h2.8v1.0h-2.8zM351.5 1146.7h2.9v2.9h-2.9zM351.6 1146.4h2.0v2.6h-2.0zM352.2 1147.4h2.5v1.8h-2.5zM352.3 1146.8h1.6v2.1h-1.6zM352.8 1152.4h1.9v2.7h-1.9zM355.8 1153.2h0.9v3.1h-0.9zM349.3 1153.4h1.3v1.1h-1.3zM360.8 1150.4h2.4v2.1h-2.4zM361.2 1154.5h2.5v0.9h-2.5zM355.0 1154.4h1.5v1.8h-1.5zM343.3 1156.9h1.6v3.4h-1.6zM345.8 1154.8h1.6v3.1h-1.6zM340.7 1160.8h2.5v2.4h-2.5zM340.1 1159.7h1.9v2.0h-1.9zM340.0 1160.2h2.5v1.1h-2.5zM340.6 1161.6h1.1v2.5h-1.1zM343.5 1163.0h1.8v1.7h-1.8zM338.9 1162.9h2.6v2.5h-2.6zM343.6 1165.0h2.1v0.8h-2.1zM344.1 1165.6h1.0v1.5h-1.0zM341.2 1168.2h2.2v2.2h-2.2zM338.7 1168.6h2.6v2.0h-2.6zM343.5 1166.0h1.5v1.8h-1.5zM340.6 1167.4h0.9v2.1h-0.9zM336.0 1170.0h2.1v2.5h-2.1zM334.6 1172.4h2.1v1.4h-2.1zM339.1 1170.6h0.9v3.4h-0.9zM340.3 1172.7h1.7v2.8h-1.7zM341.8 1174.5h1.8v1.2h-1.8zM341.1 1176.0h1.3v2.1h-1.3zM345.9 1176.6h1.3v3.3h-1.3zM357.7 1177.7h2.2v1.0h-2.2zM334.0 1178.9h2.1v1.9h-2.1zM348.5 1180.7h2.0v3.5h-2.0zM333.9 1179.9h2.0v2.7h-2.0zM334.1 1181.4h2.8v1.3h-2.8zM336.8 1183.4h1.7v1.3h-1.7zM336.0 1182.2h2.8v1.8h-2.8zM347.1 1184.0h2.3v2.3h-2.3zM334.5 1185.3h1.0v1.4h-1.0zM339.3 1189.9h2.0v1.2h-2.0zM334.1 1186.0h2.5v1.9h-2.5zM335.9 1187.7h2.0v2.4h-2.0zM332.8 1189.5h2.8v3.3h-2.8zM341.8 1191.0h2.4v2.0h-2.4zM336.2 1191.1h1.0v3.0h-1.0zM335.0 1192.8h1.9v2.6h-1.9zM346.2 1193.6h2.4v2.3h-2.4zM339.6 1194.3h2.9v2.1h-2.9zM337.5 1195.9h2.8v2.7h-2.8zM338.3 1195.0h1.0v3.4h-1.0zM336.6 1194.1h1.4v0.8h-1.4zM337.1 1198.5h1.7v0.8h-1.7zM340.6 1199.6h0.9v2.7h-0.9zM337.3 1200.9h2.3v1.6h-2.3zM334.4 1199.5h1.9v2.2h-1.9z"/>
<path fill="#e5e6e8" d="M373.1 176.8h1.4v1.8h-1.4zM374.8 198.0h1.3v2.6h-1.3zM364.6 180.9h2.9v1.0h-2.9zM359.7 214.0h2.4v2.6h-2.4zM380.7 174.9h2.5v2.7h-2.5zM366.9 210.5h2.7v1.2h-2.7zM371.3 177.7h1.4v1.1h-1.4zM371.8 176.0h1.9v1.7h-1.9zM359.3 208.3h2.4v2.5h-2.4zM371.1 183.6h2.2v2.2h-2.2zM364.6 212.7h3.9v1.0h-3.9zM370.4 179.8h2.3v1.2h-2.3zM361.9 177.5h2.4v2.5h-2.4zM365.0 200.4h3.2v1.4h-3.2zM360.4 190.9h2.4v1.2h-2.4zM355.0 204.9h2.7v2.9h-2.7zM379.4 179.0h1.1v2.7h-1.1zM367.4 196.2h1.7v2.2h-1.7zM364.1 212.1h1.6v2.7h-1.6zM362.9 212.5h3.2v1.4h-3.2zM361.9 181.1h2.6v1.7h-2.6zM361.8 202.6h1.5v1.2h-1.5zM383.7 175.1h1.7v1.6h-1.7zM375.7 188.0h1.9v2.6h-1.9zM357.4 187.2h1.1v2.3h-1.1zM363.8 211.6h3.1v2.5h-3.1zM370.0 196.2h2.7v1.0h-2.7zM384.8 177.6h2.4v2.2h-2.4zM374.3 183.1h2.1v2.6h-2.1zM371.4 204.0h3.1v2.6h-3.1zM367.3 211.8h2.1v2.4h-2.1zM359.9 205.9h1.2v2.1h-1.2zM365.0 194.8h3.0v2.8h-3.0zM372.4 182.2h3.7v2.9h-3.7zM362.2 188.0h3.2v2.9h-3.2zM368.8 176.1h2.1v1.2h-2.1zM381.8 181.5h1.7v2.4h-1.7zM368.7 200.1h1.4v1.0h-1.4zM367.1 210.6h2.1v1.9h-2.1zM378.4 181.5h2.8v3.0h-2.8zM374.1 174.4h2.9v2.3h-2.9zM385.1 176.2h3.4v1.3h-3.4zM365.7 172.7h1.1v2.1h-1.1zM360.3 196.2h4.0v2.5h-4.0zM361.9 175.5h3.9v2.9h-3.9zM366.9 197.1h3.8v1.6h-3.8zM367.8 194.2h3.6v1.1h-3.6zM374.4 194.7h2.2v1.4h-2.2zM369.7 197.3h1.4v2.5h-1.4zM371.0 187.6h2.0v2.3h-2.0zM362.0 199.3h2.4v1.1h-2.4zM363.5 174.4h1.3v1.5h-1.3zM360.7 196.8h1.8v1.7h-1.8zM379.3 172.5h1.7v1.3h-1.7zM363.8 176.6h2.0v2.5h-2.0zM355.2 176.1h2.5v1.4h-2.5zM371.1 193.4h1.7v1.8h-1.7zM377.6 172.2h1.6v2.1h-1.6zM358.1 191.4h3.9v1.2h-3.9zM364.6 196.7h1.9v2.1h-1.9zM358.6 199.9h2.4v2.9h-2.4zM383.0 179.0h1.3v1.2h-1.3zM380.9 186.1h1.6v1.1h-1.6zM366.9 198.5h3.9v1.6h-3.9z"/>
<path fill="#fff" d="M375.8 170.9h0.9v1.3h-0.9zM367.3 181.3h1.8v2.1h-1.8zM363.2 184.8h0.9v1.8h-0.9zM361.1 190.0h1.8v0.9h-1.8zM352.4 205.6h1.4v2.6h-1.4zM359.3 210.1h1.7v2.4h-1.7zM347.4 212.7h0.8v0.8h-0.8zM361.9 215.8h1.7v2.0h-1.7zM352.8 222.6h2.0v2.6h-2.0zM359.8 229.7h2.3v1.6h-2.3zM357.9 231.8h1.9v1.8h-1.9zM357.8 238.9h2.4v2.7h-2.4zM348.5 241.6h2.0v0.9h-2.0zM355.6 249.3h1.3v2.9h-1.3zM352.0 254.7h1.8v2.6h-1.8zM350.9 257.6h1.7v2.0h-1.7zM358.6 262.1h2.1v2.4h-2.1zM357.6 267.0h1.0v2.1h-1.0zM357.4 277.2h1.3v1.9h-1.3zM350.3 304.6h1.1v2.2h-1.1zM351.3 307.0h1.0v1.1h-1.0zM356.2 324.5h2.0v0.9h-2.0zM356.8 326.5h1.4v2.1h-1.4zM360.8 333.9h1.5v2.8h-1.5zM357.9 337.7h2.1v2.9h-2.1zM360.8 339.0h2.3v1.4h-2.3zM360.8 346.0h0.9v1.8h-0.9zM356.5 352.7h1.2v1.3h-1.2zM364.9 359.8h2.3v2.7h-2.3zM364.7 363.5h1.7v1.2h-1.7zM351.7 368.4h2.0v2.4h-2.0zM361.9 374.8h2.1v2.8h-2.1zM361.5 381.1h2.0v0.9h-2.0zM363.8 387.8h2.1v1.9h-2.1zM363.2 396.1h2.1v1.3h-2.1zM348.7 406.0h2.2v2.3h-2.2zM364.4 408.0h1.9v1.4h-1.9zM353.4 418.0h1.9v1.2h-1.9zM356.3 424.7h1.7v1.9h-1.7zM365.8 430.1h2.4v1.9h-2.4zM366.7 450.6h2.2v2.2h-2.2zM362.5 463.5h2.1v2.7h-2.1zM354.8 488.8h1.6v2.1h-1.6zM362.6 492.6h1.5v1.5h-1.5zM361.1 496.2h1.1v1.2h-1.1zM362.6 500.6h1.1v2.4h-1.1zM359.2 507.2h1.4v1.7h-1.4zM353.7 510.8h0.9v1.9h-0.9zM364.1 528.7h1.8v2.7h-1.8zM362.2 533.6h1.5v2.6h-1.5zM362.7 540.0h2.2v2.8h-2.2zM360.1 547.6h2.4v1.0h-2.4zM366.3 553.5h2.2v0.9h-2.2zM368.0 559.1h1.6v2.7h-1.6zM358.1 565.1h2.4v2.6h-2.4zM353.6 570.6h2.3v2.5h-2.3zM361.7 574.4h1.2v0.9h-1.2zM363.9 587.3h1.2v2.7h-1.2zM368.3 603.3h1.9v2.8h-1.9zM360.8 610.8h1.7v2.5h-1.7zM365.8 614.9h1.8v0.9h-1.8zM362.4 618.2h1.4v1.8h-1.4zM356.3 624.9h1.1v2.4h-1.1zM362.1 626.5h1.7v2.9h-1.7zM363.8 631.8h2.0v1.3h-2.0zM366.9 639.9h1.1v1.9h-1.1zM363.4 646.9h1.0v1.3h-1.0zM361.4 665.1h2.0v2.1h-2.0zM365.3 669.9h1.0v0.8h-1.0zM364.2 673.5h1.8v1.3h-1.8zM358.1 676.5h2.0v2.1h-2.0zM363.3 681.7h0.9v0.8h-0.9zM362.8 687.4h1.5v1.4h-1.5zM362.0 692.3h1.4v0.9h-1.4zM358.8 700.2h2.5v2.0h-2.5zM368.2 714.5h1.5v1.1h-1.5zM368.4 721.3h1.8v2.1h-1.8zM366.7 723.4h2.1v1.8h-2.1zM367.8 733.5h2.3v2.9h-2.3zM366.7 736.5h1.8v2.4h-1.8zM365.7 765.9h1.1v0.9h-1.1zM362.6 769.7h2.2v1.2h-2.2zM368.0 773.8h1.6v1.7h-1.6zM367.5 774.8h1.6v1.4h-1.6zM367.2 787.5h1.7v2.3h-1.7zM349.9 802.0h1.7v2.4h-1.7zM367.1 806.0h0.9v2.6h-0.9zM366.9 810.8h2.1v1.2h-2.1zM368.4 819.0h2.1v2.6h-2.1zM364.8 820.5h2.4v2.5h-2.4zM358.1 824.0h0.8v1.1h-0.8zM366.5 833.9h2.4v1.4h-2.4zM361.8 836.4h0.8v1.7h-0.8zM359.3 854.4h2.1v1.2h-2.1zM363.5 863.3h2.0v1.0h-2.0zM362.5 882.3h1.9v1.6h-1.9zM363.7 889.6h1.9v2.0h-1.9zM364.6 891.6h1.1v2.8h-1.1zM359.2 899.0h2.2v1.9h-2.2zM362.6 910.1h2.5v2.4h-2.5zM361.5 916.2h1.3v1.4h-1.3zM362.3 933.8h0.9v2.2h-0.9zM361.4 937.4h1.7v1.2h-1.7zM360.2 939.6h1.0v3.0h-1.0zM363.3 944.1h1.8v1.4h-1.8zM363.3 952.4h2.2v1.7h-2.2zM359.1 957.8h0.9v1.6h-0.9zM361.6 959.7h2.1v1.8h-2.1zM363.2 963.7h1.0v1.9h-1.0zM364.2 966.7h1.8v1.5h-1.8zM366.7 975.5h1.8v1.8h-1.8zM359.3 981.2h2.4v1.1h-2.4zM359.1 988.5h2.0v1.9h-2.0zM366.4 991.2h1.9v2.7h-1.9zM364.3 994.3h2.0v1.3h-2.0zM369.4 1001.7h1.9v2.2h-1.9zM367.6 1003.2h1.9v2.1h-1.9zM366.8 1007.2h1.7v1.9h-1.7zM364.9 1024.8h2.2v1.1h-2.2zM368.8 1032.1h2.1v2.0h-2.1zM365.3 1039.5h2.4v2.9h-2.4zM368.2 1042.5h1.7v2.3h-1.7zM370.3 1060.8h2.2v2.5h-2.2zM361.2 1066.6h2.0v3.0h-2.0zM365.9 1074.8h2.1v2.2h-2.1zM366.0 1078.9h2.4v1.4h-2.4zM361.9 1089.6h0.9v1.9h-0.9zM365.1 1102.5h1.7v1.2h-1.7zM364.8 1109.8h1.3v1.9h-1.3zM361.4 1113.0h2.1v2.9h-2.1zM361.6 1116.6h1.5v2.0h-1.5zM356.5 1138.1h2.3v1.2h-2.3zM341.7 1150.6h1.3v2.3h-1.3zM336.5 1159.9h1.7v0.9h-1.7zM336.2 1166.9h1.6v2.6h-1.6zM335.3 1174.6h1.0v1.8h-1.0zM328.8 1181.2h2.1v2.8h-2.1zM335.2 1185.8h0.9v2.3h-0.9zM327.6 1193.4h2.1v2.2h-2.1zM331.1 1197.2h2.1v1.9h-2.1z"/>
<rect x="190" y="190" width="149" height="39.5" fill="#fe6d00"/>
<text x="229.2" y="208.3" font-size="13" font-weight="bold" font-style="normal" text-anchor="start" fill="#fff" textLength="40.8" lengthAdjust="spacingAndGlyphs">Paints</text>
<text x="229.2" y="223" font-size="13" font-weight="bold" font-style="italic" text-anchor="start" fill="#fff" textLength="54.5" lengthAdjust="spacingAndGlyphs">Pinturas</text>
<rect x="229" y="248.0" width="31" height="31" fill="#4a5444"/>
<text transform="translate(264.50 258.30) scale(0.72 1)" font-size="10" font-weight="bold" font-style="normal" text-anchor="start" letter-spacing="0.553" dx="0.000" fill="#231815" stroke="#231815" stroke-width="0.25">FOREST GREEN FS 34079</text>
<text transform="translate(264.50 268.00) scale(0.7 1)" font-size="10" font-weight="normal" font-style="normal" text-anchor="start" letter-spacing="0.556" dx="0.000" fill="#352f2e" stroke="#352f2e" stroke-width="0.1">RC900</text>
<text transform="translate(264.50 277.60) scale(0.7 1)" font-size="10" font-weight="normal" font-style="normal" text-anchor="start" letter-spacing="0.866" dx="0.000" fill="#352f2e" stroke="#352f2e" stroke-width="0.1">AK11346</text>
<rect x="229" y="294.3" width="31" height="31" fill="#6a6530"/>
<text transform="translate(264.50 304.60) scale(0.72 1)" font-size="10" font-weight="bold" font-style="normal" text-anchor="start" letter-spacing="0.685" dx="0.000" fill="#231815" stroke="#231815" stroke-width="0.25">LIGHT GREEN FS 34151</text>
<text transform="translate(264.50 314.30) scale(0.7 1)" font-size="10" font-weight="normal" font-style="normal" text-anchor="start" letter-spacing="0.556" dx="0.000" fill="#352f2e" stroke="#352f2e" stroke-width="0.1">RC906</text>
<text transform="translate(264.50 323.90) scale(0.7 1)" font-size="10" font-weight="normal" font-style="normal" text-anchor="start" letter-spacing="0.866" dx="0.000" fill="#352f2e" stroke="#352f2e" stroke-width="0.1">AK11335</text>
<rect x="229" y="342.0" width="31" height="31" fill="#c6b08e"/>
<text transform="translate(264.50 352.30) scale(0.72 1)" font-size="10" font-weight="bold" font-style="normal" text-anchor="start" letter-spacing="0.796" dx="0.000" fill="#231815" stroke="#231815" stroke-width="0.25">SAND FS 30277</text>
<text transform="translate(264.50 362.00) scale(0.7 1)" font-size="10" font-weight="normal" font-style="normal" text-anchor="start" letter-spacing="0.556" dx="0.000" fill="#352f2e" stroke="#352f2e" stroke-width="0.1">RC896</text>
<text transform="translate(264.50 371.60) scale(0.7 1)" font-size="10" font-weight="normal" font-style="normal" text-anchor="start" letter-spacing="0.866" dx="0.000" fill="#352f2e" stroke="#352f2e" stroke-width="0.1">AK11343</text>
<rect x="229" y="391.3" width="31" height="31" fill="#2e2e2e"/>
<text transform="translate(264.50 401.60) scale(0.72 1)" font-size="10" font-weight="bold" font-style="normal" text-anchor="start" letter-spacing="0.474" dx="0.000" fill="#231815" stroke="#231815" stroke-width="0.25">NATO BLACK</text>
<text transform="translate(264.50 411.30) scale(0.7 1)" font-size="10" font-weight="normal" font-style="normal" text-anchor="start" letter-spacing="0.556" dx="0.000" fill="#352f2e" stroke="#352f2e" stroke-width="0.1">RC888</text>
<text transform="translate(264.50 420.90) scale(0.7 1)" font-size="10" font-weight="normal" font-style="normal" text-anchor="start" letter-spacing="0.866" dx="0.000" fill="#352f2e" stroke="#352f2e" stroke-width="0.1">AK11360</text>
<rect x="229" y="438.3" width="31" height="31" fill="#4f4a39"/>
<text transform="translate(264.50 448.60) scale(0.72 1)" font-size="10" font-weight="bold" font-style="normal" text-anchor="start" letter-spacing="0.709" dx="0.000" fill="#231815" stroke="#231815" stroke-width="0.25">OLIVE DRAB</text>
<text transform="translate(264.50 458.30) scale(0.7 1)" font-size="10" font-weight="normal" font-style="normal" text-anchor="start" letter-spacing="0.556" dx="0.000" fill="#352f2e" stroke="#352f2e" stroke-width="0.1">RC901</text>
<text transform="translate(264.50 467.90) scale(0.7 1)" font-size="10" font-weight="normal" font-style="normal" text-anchor="start" letter-spacing="0.850" dx="0.000" fill="#352f2e" stroke="#352f2e" stroke-width="0.1">AK11156</text>
<rect x="229" y="487.0" width="31" height="31" fill="#ff7200"/>
<text transform="translate(264.50 497.30) scale(0.72 1)" font-size="10" font-weight="bold" font-style="normal" text-anchor="start" letter-spacing="0.328" dx="0.000" fill="#231815" stroke="#231815" stroke-width="0.25">CLEAR ORANGE</text>
<text transform="translate(264.50 507.00) scale(0.7 1)" font-size="10" font-weight="normal" font-style="normal" text-anchor="start" letter-spacing="0.556" dx="0.000" fill="#352f2e" stroke="#352f2e" stroke-width="0.1">RC824</text>
<text transform="translate(264.50 516.60) scale(0.7 1)" font-size="10" font-weight="normal" font-style="normal" text-anchor="start" letter-spacing="0.866" dx="0.000" fill="#352f2e" stroke="#352f2e" stroke-width="0.1">AK11218</text>
<rect x="229" y="535.0" width="31" height="31" fill="#e0001b"/>
<text transform="translate(264.50 545.30) scale(0.72 1)" font-size="10" font-weight="bold" font-style="normal" text-anchor="start" letter-spacing="0.347" dx="0.000" fill="#231815" stroke="#231815" stroke-width="0.25">CLEAR RED</text>
<text transform="translate(264.50 555.00) scale(0.7 1)" font-size="10" font-weight="normal" font-style="normal" text-anchor="start" letter-spacing="0.556" dx="0.000" fill="#352f2e" stroke="#352f2e" stroke-width="0.1">RC821</text>
<text transform="translate(264.50 564.60) scale(0.7 1)" font-size="10" font-weight="normal" font-style="normal" text-anchor="start" letter-spacing="0.866" dx="0.000" fill="#352f2e" stroke="#352f2e" stroke-width="0.1">AK11213</text>
<rect x="229" y="583.0" width="31" height="31" fill="#5f5f60"/>
<text transform="translate(264.50 593.30) scale(0.72 1)" font-size="10" font-weight="bold" font-style="normal" text-anchor="start" letter-spacing="0.594" dx="0.000" fill="#231815" stroke="#231815" stroke-width="0.25">RUBBER BLACK</text>
<text transform="translate(264.50 603.00) scale(0.7 1)" font-size="10" font-weight="normal" font-style="normal" text-anchor="start" letter-spacing="0.556" dx="0.000" fill="#352f2e" stroke="#352f2e" stroke-width="0.1">RC805</text>
<text transform="translate(264.50 612.60) scale(0.7 1)" font-size="10" font-weight="normal" font-style="normal" text-anchor="start" letter-spacing="0.866" dx="0.000" fill="#352f2e" stroke="#352f2e" stroke-width="0.1">AK11027</text>
<rect x="229" y="631.0" width="31" height="31" fill="#3f5039"/>
<text transform="translate(264.50 641.30) scale(0.72 1)" font-size="10" font-weight="bold" font-style="normal" text-anchor="start" letter-spacing="0.519" dx="0.000" fill="#231815" stroke="#231815" stroke-width="0.25">NATO GREEN</text>
<text transform="translate(264.50 651.00) scale(0.7 1)" font-size="10" font-weight="normal" font-style="normal" text-anchor="start" letter-spacing="0.556" dx="0.000" fill="#352f2e" stroke="#352f2e" stroke-width="0.1">RC886</text>
<text transform="translate(264.50 660.60) scale(0.7 1)" font-size="10" font-weight="normal" font-style="normal" text-anchor="start" letter-spacing="0.866" dx="0.000" fill="#352f2e" stroke="#352f2e" stroke-width="0.1">AK11358</text>
<rect x="190" y="696.7" width="149" height="114.8" fill="#ff5000"/>
<text transform="translate(229 715.7) scale(1.06 1)" font-size="13.3" font-weight="bold" font-style="normal" text-anchor="start" fill="#fff">Recommended</text>
<text transform="translate(229 730.6) scale(1.06 1)" font-size="13.3" font-weight="bold" font-style="normal" text-anchor="start" fill="#fff">finishing</text>
<text transform="translate(229 745.3) scale(1.06 1)" font-size="13.3" font-weight="bold" font-style="normal" text-anchor="start" fill="#fff">products</text>
<text transform="translate(229 769.9) scale(1.06 1)" font-size="13.3" font-weight="bold" font-style="italic" text-anchor="start" fill="#fff">Productos</text>
<text transform="translate(229 784.8) scale(1.06 1)" font-size="13.3" font-weight="bold" font-style="italic" text-anchor="start" fill="#fff">recomendados</text>
<text transform="translate(229 799.4) scale(1.06 1)" font-size="13.3" font-weight="bold" font-style="italic" text-anchor="start" fill="#fff">para el acabado</text>
<text x="229.5" y="836" font-size="13" font-weight="bold" font-style="normal" text-anchor="start" fill="#231815">·</text>
<text x="235" y="836" font-size="13" font-weight="bold" font-style="normal" text-anchor="start" fill="#231815" textLength="73.6" lengthAdjust="spacingAndGlyphs">Overall wash |</text>
<text x="229.5" y="854" font-size="13" font-weight="bold" font-style="italic" text-anchor="start" fill="#231815" textLength="77.9" lengthAdjust="spacingAndGlyphs">Lavado general</text>
<text x="237" y="870.6" font-size="13" font-weight="normal" font-style="normal" text-anchor="start" fill="#231815" textLength="126.8" lengthAdjust="spacingAndGlyphs">AK075 Wash for NATO camo</text>
<text transform="translate(237 886.8) scale(0.76 1)" font-size="13" font-weight="normal" font-style="normal" text-anchor="start" fill="#231815">vehicles</text>
<text x="229.5" y="905" font-size="13" font-weight="bold" font-style="normal" text-anchor="start" fill="#231815">·</text>
<text x="235" y="905" font-size="13" font-weight="bold" font-style="normal" text-anchor="start" fill="#231815" textLength="96.4" lengthAdjust="spacingAndGlyphs">Fuel | Combustible</text>
<text x="237" y="921.5" font-size="13" font-weight="normal" font-style="normal" text-anchor="start" fill="#231815" textLength="82.4" lengthAdjust="spacingAndGlyphs">AK025 Fuel Stains</text>
<path d="M219.5,147.5 L236,124.5 L252.5,147.5 Z" fill="#231815"/>
<text x="236" y="145.5" font-size="8.5" font-weight="bold" font-style="normal" text-anchor="middle" fill="#fff">A</text>
<text x="264.7" y="132.7" font-size="17.6" font-weight="bold" fill="#231815" stroke="#231815" stroke-width="0.25" textLength="180" lengthAdjust="spacingAndGlyphs">Fort Eustis, USA, 1980s</text>
<text x="264.7" y="152.7" font-size="15.6" font-weight="bold" font-style="italic" fill="#231815" stroke="#231815" stroke-width="0.2" textLength="252" lengthAdjust="spacingAndGlyphs">Fort Eustis, EE. UU., Década de 1980</text>
<defs><linearGradient id="glass" x1="0" y1="0" x2="0" y2="1"><stop offset="0" stop-color="#d4e5ee"/><stop offset="1" stop-color="#97b7df"/></linearGradient><linearGradient id="glassh" x1="0" y1="0" x2="1" y2="0"><stop offset="0" stop-color="#c0d8ec"/><stop offset="1" stop-color="#e2eef5"/></linearGradient><pattern id="tread" width="5" height="5" patternUnits="userSpaceOnUse"><rect width="5" height="5" fill="#3c3c3c"/><path d="M0,1 L2.5,0 L5,1 M0,3.5 L2.5,2.5 L5,3.5" stroke="#5e5e5e" stroke-width="0.8" fill="none"/></pattern><pattern id="under" width="7" height="6" patternUnits="userSpaceOnUse"><rect width="7" height="6" fill="#434343"/><path d="M1,1 h2 v1 h-2z M4,3.5 h2 v1.2 h-2z" fill="#5a5a5a"/><path d="M0,5 h3" stroke="#2d2d2d" stroke-width="0.8"/></pattern></defs><clipPath id="c1"><path d="M437,268 C455,264 520,259 569,256 L604,216 Q608,209 616,209 L684,209 Q689,209.5 689.5,214 L690,264 L933,264 L933.5,330 L864,330 L862,308 Q856,298 846,298 L792,298 Q782,300 779,312 L776,340 L556,340 C554,318 536,298 509,298 C484,298 470,318 468,336 L450,340 L437,340 Z"/></clipPath><path d="M468,342 C470,318 484,298 509,298 C536,298 554,318 556,342 Z" fill="#44503f"/><path d="M777,340 L780,310 Q785,302 794,302 L846,302 Q858,302 862,310 L864,338 Z" fill="#434343"/><path d="M452.0,340.0 L780.0,340.0 L780.0,345.0 L452.0,345.0Z" fill="#323232" /><path d="M690,344 L782,352" stroke="#323232" stroke-width="4.5" stroke-linecap="round"/><path d="M857,345 L889,345" stroke="#323232" stroke-width="6" stroke-linecap="round"/><path d="M598.0,340.0 L636.0,340.0 L636.0,352.0 L598.0,352.0Z" fill="#2f2f2f" /><path d="M451.0,334.0 L476.0,334.0 L476.0,347.0 L451.0,347.0Z" fill="#2e302c" /><path d="M882.0,328.0 L896.0,328.0 L896.0,336.0 L882.0,336.0Z" fill="#2e302c" /><path d="M424.0,276.0 L429.0,276.0 L429.0,343.0 L424.0,343.0Z" fill="#44503f" stroke="#2a2d27" stroke-width="0.8"/><path d="M429.0,280.0 L437.0,280.0 L437.0,338.0 L429.0,338.0Z" fill="#3b4538" /><path d="M693,173 Q693,169 698,169 L810,166.5 L922,169 Q926,169 926,173 L935.5,266 L692.5,266 Z" fill="#524e3d" stroke="#2b261d" stroke-width="1.2"/><path d="M810,167 L811,264 M693,262 L930,262" stroke="#2b261d" stroke-width="0.8"/><path d="M700,173 L700,260 M920,173 L927,260" stroke="#3f3a2c" stroke-width="0.6" fill="none"/><path d="M706,174 v7 M710,174 v7 M804,174 v7 M808,174 v7 M911,174 v7 M915,174 v7" stroke="#2f2a20" stroke-width="0.8"/><path d="M926,254 L935.5,266 L924,266 Z" fill="#fff"/><path d="M700,264 h230" stroke="#3a3428" stroke-width="0.8" stroke-dasharray="1 11"/><g clip-path="url(#c1)"><rect x="420" y="200" width="520" height="150" fill="#4d5646"/><path d="M460.0,269.5 Q460.0,263.0 478.5,261.5 Q497.0,260.0 496.5,266.0 Q496.0,272.0 503.0,278.0 Q510.0,284.0 516.0,287.0 Q522.0,290.0 521.5,294.0 Q521.0,298.0 505.5,298.0 Q490.0,298.0 480.0,302.0 Q470.0,306.0 468.0,314.0 Q466.0,322.0 467.0,332.0 Q468.0,342.0 457.0,342.0 Q446.0,342.0 445.5,326.0 Q445.0,310.0 448.5,300.0 Q452.0,290.0 456.0,283.0 Q460.0,276.0 460.0,269.5Z" fill="#67632f" /><path d="M556.0,286.0 L590.0,288.0 L612.0,298.0 L628.0,298.0 L629.0,256.0 L692.0,256.0 L692.0,342.0 L556.0,342.0Z" fill="#67632f" /><path d="M645.0,315.5 Q646.0,306.0 655.0,303.0 Q664.0,300.0 674.0,302.0 Q684.0,304.0 688.0,323.0 Q692.0,342.0 670.0,342.0 Q648.0,342.0 646.0,333.5 Q644.0,325.0 645.0,315.5Z" fill="#4d5646" /><path d="M657.0,264.5 Q654.0,256.0 673.0,256.0 Q692.0,256.0 692.0,264.5 Q692.0,273.0 676.0,273.0 Q660.0,273.0 657.0,264.5Z" fill="#4d5646" /><path d="M621.0,211.5 Q620.0,208.0 642.5,208.0 Q665.0,208.0 664.5,211.0 Q664.0,214.0 643.0,214.5 Q622.0,215.0 621.0,211.5Z" fill="#67632f" /><path d="M666.5,209.5 Q665.0,207.0 677.0,207.0 Q689.0,207.0 689.0,209.5 Q689.0,212.0 678.5,212.0 Q668.0,212.0 666.5,209.5Z" fill="#c9b697" /><path d="M586.0,333.5 Q584.0,325.0 592.0,322.5 Q600.0,320.0 609.0,320.5 Q618.0,321.0 620.0,326.5 Q622.0,332.0 617.0,337.0 Q612.0,342.0 600.0,342.0 Q588.0,342.0 586.0,333.5Z" fill="#c9b697" /><path d="M693.0,262.0 L800.0,262.0 L800.0,300.0 L782.0,300.0 L776.0,342.0 L693.0,342.0Z" fill="#67632f" /><path d="M733.5,295.5 Q733.0,281.0 742.5,280.0 Q752.0,279.0 762.0,285.5 Q772.0,292.0 774.0,306.0 Q776.0,320.0 773.0,332.0 Q770.0,344.0 755.0,344.0 Q740.0,344.0 737.0,327.0 Q734.0,310.0 733.5,295.5Z" fill="#4d5646" /><path d="M726.0,300.5 Q733.0,286.0 735.0,293.0 Q737.0,300.0 734.0,312.5 Q731.0,325.0 727.5,334.5 Q724.0,344.0 719.0,344.0 Q714.0,344.0 716.5,329.5 Q719.0,315.0 726.0,300.5Z" fill="#c9b697" /><path d="M829.0,304.0 Q794.0,300.0 830.0,300.0 Q866.0,300.0 873.0,303.0 Q880.0,306.0 896.0,303.0 Q912.0,300.0 914.0,281.0 Q916.0,262.0 925.0,262.0 Q934.0,262.0 934.5,302.0 Q935.0,342.0 899.5,342.0 Q864.0,342.0 864.0,325.0 Q864.0,308.0 829.0,304.0Z" fill="#67632f" /><path d="M851.0,295.0 Q852.0,285.0 859.0,282.0 Q866.0,279.0 871.0,281.0 Q876.0,283.0 882.0,292.5 Q888.0,302.0 879.0,304.0 Q870.0,306.0 864.0,304.0 Q858.0,302.0 854.0,303.5 Q850.0,305.0 851.0,295.0Z" fill="#c9b697" /><g fill="#2d2c2a"><circle cx="550.0" cy="295.0" r="4.3"/><path d="M551.2,290.5 Q545.6,291.6 539.4,290.6 Q537.2,291.5 538.6,293.4 Q544.5,295.7 548.8,299.5 Z"/><path d="M551.3,299.5 Q560.0,294.3 571.4,290.4 Q572.8,288.5 570.6,287.6 Q558.9,290.3 548.7,290.5 Z"/><path d="M545.8,297.0 Q551.6,303.0 556.4,311.4 Q558.5,312.4 559.0,310.0 Q555.4,301.1 554.2,293.0 Z"/></g><g fill="#2d2c2a"><circle cx="660.3" cy="300.3" r="4.3"/><path d="M664.9,300.3 Q662.4,293.9 661.8,286.0 Q660.3,284.1 658.8,286.0 Q658.2,293.9 655.6,300.3 Z"/><path d="M658.8,304.7 Q665.9,304.4 673.8,306.4 Q676.1,305.6 674.8,303.6 Q667.3,300.4 661.8,295.9 Z"/><path d="M656.0,298.5 Q655.2,306.9 651.9,316.1 Q652.6,318.4 654.7,317.3 Q659.1,308.5 664.6,302.1 Z"/></g><g fill="#2d2c2a"><circle cx="737.0" cy="275.7" r="4.3"/><path d="M740.2,272.4 Q734.0,269.8 728.0,264.9 Q725.7,264.7 726.0,267.1 Q731.0,272.8 733.8,279.0 Z"/><path d="M736.2,280.3 Q745.7,279.3 756.8,280.5 Q758.8,279.3 757.2,277.5 Q746.3,275.1 737.8,271.1 Z"/><path d="M732.4,274.8 Q733.1,284.0 731.5,294.7 Q732.6,296.8 734.5,295.3 Q737.3,284.8 741.6,276.6 Z"/></g><g fill="#2d2c2a"><circle cx="904.0" cy="306.0" r="4.3"/><path d="M908.1,308.2 Q909.5,300.1 913.3,291.5 Q912.9,289.1 910.7,290.1 Q905.7,298.2 899.9,303.8 Z"/><path d="M904.6,301.4 Q897.0,302.9 887.9,302.2 Q885.8,303.4 887.5,305.2 Q896.4,307.0 903.4,310.6 Z"/><path d="M899.4,306.3 Q902.4,313.5 903.5,322.4 Q905.1,324.2 906.5,322.2 Q906.5,313.2 908.6,305.7 Z"/></g></g><path d="M776,330 L781,304 Q786,298 794,298 L848,298 Q858,298 862,308 L864,330 L858,330 L856,312 Q852,305 846,305 L796,305 Q788,305 786,312 L782,330 Z" fill="#4d5646" stroke="#2a2d27" stroke-width="0.6"/><path d="M468,338 C470,318 484,298 509,298 C536,298 554,318 556,340" fill="none" stroke="#2f352c" stroke-width="0.8"/><path d="M478,336 C482,318 494,308 509,308 C526,308 538,318 542,336 M509,300 L509,316 M490,304 L494,318 M528,304 L524,318" fill="none" stroke="#343d31" stroke-width="0.6"/><path d="M471,342 L479,330 L486,342 Z M535,342 L543,328 L553,342 Z" fill="#2e302c"/><path d="M437,268 C455,264 520,259 569,256 L604,216 Q608,209 616,209 L684,209 Q689,209.5 689.5,214 L690,264 L933,264 L933.5,330 L864,330 L862,308 Q856,298 846,298 L792,298 Q782,300 779,312 L776,340 L556,340 C554,318 536,298 509,298 C484,298 470,318 468,336 L450,340 L437,340 Z" fill="none" stroke="#2a2d27" stroke-width="1.1"/><path d="M691.2,265 L691.2,318" stroke="#fff" stroke-width="1.8"/><path d="M578,258 Q574,300 578,337 L680,337 L680,212" fill="none" stroke="#2a2d27" stroke-width="0.6"/><rect x="742" y="299" width="15" height="15" rx="2" fill="none" stroke="#30382d" stroke-width="0.7"/><path d="M569.5,256 L604,216.5 L606.5,218 L573.5,255 Z" fill="#c5dcef" stroke="#2a2d27" stroke-width="0.6"/><path d="M586,257 L612,220 Q614,218.5 617,218.5 L668,218.5 Q672.6,219 672.6,224 L672.6,254 Q672.6,258.5 668,258.5 Z" fill="url(#glass)" stroke="#2a2d27" stroke-width="1.2"/><path d="M616,220 L605,259" stroke="#2a2d27" stroke-width="1.6"/><path d="M596,246 Q600,243 604,247 L606,270 Q604,274 600,272 Z" fill="#4d5646" stroke="#2f352c" stroke-width="0.6"/><path d="M556,263 L566,254 L571,256 L564,266 Z" fill="#4d5646" stroke="#2a2d27" stroke-width="0.8"/><rect x="922.6" y="284.8" width="11.4" height="20" fill="#e8001a" stroke="#5a1010" stroke-width="0.5"/><rect x="927" y="298" width="4" height="3" fill="#fff"/><path d="M921.5,316.5 L947.0,316.5 L947.0,335.0 L921.5,335.0Z" fill="#465443" stroke="#2a2d27" stroke-width="0.8"/><rect x="442" y="306" width="20" height="5" fill="#ff7a00"/><circle cx="511" cy="353.5" r="36.5" fill="#686868" stroke="#262626" stroke-width="1.8"/><circle cx="511" cy="353.5" r="33.9" fill="none" stroke="#4e4e4e" stroke-width="3.6" stroke-dasharray="1.2 1.0"/><circle cx="511" cy="353.5" r="31.5" fill="none" stroke="#2f2f2f" stroke-width="0.9"/><circle cx="511" cy="353.5" r="25.5" fill="none" stroke="#5e5e5e" stroke-width="2.2" stroke-dasharray="5 16"/><circle cx="511" cy="353.5" r="18.7" fill="#4a5945" stroke="#2f3a2d" stroke-width="0.9"/><circle cx="511" cy="353.5" r="15" fill="none" stroke="#3a4736" stroke-width="0.7"/><circle cx="511" cy="353.5" r="10" fill="none" stroke="#3a4736" stroke-width="0.7"/><circle cx="511" cy="353.5" r="4.8" fill="#262626"/><circle cx="820" cy="353.5" r="36.5" fill="#686868" stroke="#262626" stroke-width="1.8"/><circle cx="820" cy="353.5" r="33.9" fill="none" stroke="#4e4e4e" stroke-width="3.6" stroke-dasharray="1.2 1.0"/><circle cx="820" cy="353.5" r="31.5" fill="none" stroke="#2f2f2f" stroke-width="0.9"/><circle cx="820" cy="353.5" r="25.5" fill="none" stroke="#5e5e5e" stroke-width="2.2" stroke-dasharray="5 16"/><circle cx="820" cy="353.5" r="18.7" fill="#4a5945" stroke="#2f3a2d" stroke-width="0.9"/><circle cx="820" cy="353.5" r="15" fill="none" stroke="#3a4736" stroke-width="0.7"/><circle cx="820" cy="353.5" r="10" fill="none" stroke="#3a4736" stroke-width="0.7"/><circle cx="820" cy="353.5" r="4.8" fill="#262626"/><clipPath id="c2"><path d="M440,507 L684,507 L686,456 Q687,453.4 690,453.4 L761,453.4 Q766,454 769,459 L800,501 C850,504 910,507 936,511 L937,576 L905,576 C900,555 885,539 861,539 C838,539 822,555 818,578 L800,585 L597,585 L593,556 Q588,544 578,544 L522,544 Q512,546 510,556 L508,575 L455,575 L455,560 L440,560 Z"/></clipPath><path d="M508,586 L511,554 Q514,548 522,548 L580,548 Q590,548 593,558 L597,586 Z" fill="#434343"/><path d="M818,580 C822,555 838,539 861,539 C885,539 900,555 905,580 Z" fill="#44503f"/><path d="M597.0,585.0 L830.0,585.0 L830.0,590.0 L597.0,590.0Z" fill="#323232" /><path d="M594,597 L642,588" stroke="#323232" stroke-width="4" stroke-linecap="round"/><path d="M483,590 L515,590" stroke="#323232" stroke-width="6" stroke-linecap="round"/><path d="M740.0,585.0 L774.0,585.0 L774.0,597.0 L740.0,597.0Z" fill="#2f2f2f" /><path d="M478.0,575.0 L493.0,575.0 L493.0,582.0 L478.0,582.0Z" fill="#2e302c" /><path d="M905.0,576.0 L932.0,576.0 L932.0,590.0 L905.0,590.0Z" fill="#2e302c" /><path d="M424.0,561.0 L455.0,561.0 L455.0,580.0 L424.0,580.0Z" fill="#465443" stroke="#2a2d27" stroke-width="0.8"/><path d="M943.0,520.0 L948.0,520.0 L948.0,586.0 L943.0,586.0Z" fill="#44503f" stroke="#2a2d27" stroke-width="0.8"/><path d="M936.0,524.0 L943.0,524.0 L943.0,580.0 L936.0,580.0Z" fill="#3b4538" /><path d="M446,416 Q446,413 450,413 L561,411 L676,413 Q680,413 680,417 L681,509 L438.5,510 Z" fill="#524e3d" stroke="#2b261d" stroke-width="1.2"/><path d="M561,412 L560,507 M442,506 L680,506" stroke="#2b261d" stroke-width="0.8"/><path d="M452,418 L446,505 M674,418 L676,505" stroke="#3f3a2c" stroke-width="0.6" fill="none"/><path d="M459,419 v7 M463,419 v7 M565,419 v7 M569,419 v7 M663,419 v7 M667,419 v7" stroke="#2f2a20" stroke-width="0.8"/><path d="M446,499 L438.5,510 L452,510 Z" fill="#fff"/><path d="M446,507 h230" stroke="#3a3428" stroke-width="0.8" stroke-dasharray="1 11"/><g clip-path="url(#c2)"><rect x="420" y="440" width="530" height="150" fill="#4d5646"/><path d="M440.0,505.0 L490.0,505.0 L493.0,525.0 L506.0,544.0 L513.0,577.0 L440.0,577.0Z" fill="#67632f" /><path d="M573.5,545.0 Q557.0,542.0 559.0,530.0 Q561.0,518.0 568.0,515.0 Q575.0,512.0 583.5,513.5 Q592.0,515.0 596.0,527.5 Q600.0,540.0 602.0,563.0 Q604.0,586.0 598.0,586.0 Q592.0,586.0 591.0,567.0 Q590.0,548.0 573.5,545.0Z" fill="#67632f" /><path d="M600.0,505.0 L684.0,505.0 L684.0,586.0 L656.0,586.0 L660.0,545.0 L640.0,541.0 L615.0,540.0 L606.0,520.0Z" fill="#67632f" /><path d="M495.5,531.0 Q493.0,524.0 499.5,524.5 Q506.0,525.0 513.0,530.5 Q520.0,536.0 525.0,541.0 Q530.0,546.0 520.0,546.5 Q510.0,547.0 504.0,542.5 Q498.0,538.0 495.5,531.0Z" fill="#c9b697" /><path d="M615.0,569.5 Q614.0,565.0 619.0,563.5 Q624.0,562.0 626.0,567.0 Q628.0,572.0 624.0,579.0 Q620.0,586.0 615.0,586.0 Q610.0,586.0 613.0,580.0 Q616.0,574.0 615.0,569.5Z" fill="#c9b697" /><path d="M707.0,456.0 Q706.0,452.0 737.0,452.0 Q768.0,452.0 769.0,457.0 Q770.0,462.0 755.0,461.0 Q740.0,460.0 724.0,460.0 Q708.0,460.0 707.0,456.0Z" fill="#67632f" /><path d="M684.0,547.5 Q684.0,505.0 692.0,505.0 Q700.0,505.0 699.5,512.5 Q699.0,520.0 719.5,520.0 Q740.0,520.0 752.0,518.0 Q764.0,516.0 767.0,528.0 Q770.0,540.0 764.0,565.0 Q758.0,590.0 721.0,590.0 Q684.0,590.0 684.0,547.5Z" fill="#67632f" /><path d="M701.0,531.5 Q700.0,523.0 710.0,521.5 Q720.0,520.0 725.0,526.0 Q730.0,532.0 716.0,536.0 Q702.0,540.0 701.0,531.5Z" fill="#4d5646" /><path d="M750.0,540.0 Q756.0,520.0 759.5,517.5 Q763.0,515.0 765.5,527.5 Q768.0,540.0 763.0,555.0 Q758.0,570.0 755.0,580.0 Q752.0,590.0 744.0,590.0 Q736.0,590.0 740.0,575.0 Q744.0,560.0 750.0,540.0Z" fill="#c9b697" /><path d="M795.5,511.5 Q801.0,503.0 819.5,504.0 Q838.0,505.0 837.0,521.5 Q836.0,538.0 831.0,543.0 Q826.0,548.0 825.0,569.0 Q824.0,590.0 807.0,590.0 Q790.0,590.0 790.0,555.0 Q790.0,520.0 795.5,511.5Z" fill="#67632f" /><path d="M863.0,519.5 Q858.0,508.0 867.0,508.5 Q876.0,509.0 872.0,520.0 Q868.0,531.0 863.0,519.5Z" fill="#67632f" /><path d="M908.0,532.5 Q906.0,520.0 915.0,517.5 Q924.0,515.0 924.0,530.0 Q924.0,545.0 917.0,545.0 Q910.0,545.0 908.0,532.5Z" fill="#67632f" /><g fill="#2d2c2a"><circle cx="554.0" cy="523.0" r="4.3"/><path d="M553.5,518.4 Q546.0,521.8 536.5,523.5 Q534.8,525.2 536.9,526.5 Q546.5,526.0 554.5,527.6 Z"/><path d="M558.4,524.6 Q557.2,520.5 558.1,516.3 Q557.4,514.0 555.3,515.3 Q553.2,519.0 549.6,521.4 Z"/><path d="M549.6,524.5 Q554.7,531.3 558.6,540.5 Q560.6,541.8 561.4,539.5 Q558.7,530.0 558.4,521.5 Z"/></g><g fill="#2d2c2a"><circle cx="630.0" cy="544.7" r="4.3"/><path d="M634.0,542.4 Q627.3,535.7 621.3,526.3 Q619.1,525.4 618.7,527.7 Q623.7,537.8 626.0,547.0 Z"/><path d="M628.9,549.2 Q635.8,548.2 643.7,549.5 Q645.8,548.4 644.3,546.5 Q636.8,544.1 631.1,540.2 Z"/><path d="M625.4,544.7 Q627.9,552.0 628.5,561.0 Q630.0,562.9 631.5,561.0 Q632.1,552.0 634.6,544.7 Z"/></g><g fill="#2d2c2a"><circle cx="759.4" cy="517.0" r="4.3"/><path d="M760.7,512.5 Q752.4,512.7 742.9,510.6 Q740.7,511.5 742.1,513.4 Q751.2,516.8 758.1,521.5 Z"/><path d="M763.8,518.6 Q763.0,513.4 764.4,507.8 Q763.7,505.5 761.6,506.8 Q759.1,511.9 755.0,515.4 Z"/><path d="M754.9,518.1 Q759.5,526.2 762.7,536.7 Q764.7,538.1 765.7,535.9 Q763.6,525.2 763.9,515.9 Z"/></g><g fill="#2d2c2a"><circle cx="815.0" cy="536.3" r="4.3"/><path d="M819.6,535.4 Q816.0,530.4 814.1,523.9 Q812.2,522.4 811.1,524.5 Q811.9,531.3 810.4,537.2 Z"/><path d="M814.2,540.9 Q820.6,539.4 828.0,540.2 Q830.1,539.0 828.6,537.2 Q821.4,535.3 815.8,531.7 Z"/><path d="M811.5,533.3 Q806.9,542.5 799.4,552.2 Q799.3,554.6 801.6,554.2 Q810.1,545.3 818.5,539.3 Z"/></g><g fill="#2d2c2a"><circle cx="923.7" cy="531.5" r="4.3"/><path d="M928.3,531.2 Q925.3,523.7 924.0,514.5 Q922.4,512.7 921.0,514.7 Q921.1,524.0 919.1,531.8 Z"/><path d="M923.0,536.1 Q927.2,534.1 932.0,534.2 Q934.1,533.0 932.4,531.2 Q927.8,530.0 924.4,526.9 Z"/><path d="M920.7,527.9 Q915.8,535.3 908.2,542.4 Q907.8,544.8 910.2,544.8 Q918.5,538.6 926.7,535.1 Z"/></g></g><path d="M508,575 L512,550 Q516,544 524,544 L578,544 Q588,544 592,552 L597,585 L591,585 L587,558 Q584,551 576,551 L526,551 Q519,551 517,558 L514,575 Z" fill="#4d5646" stroke="#2a2d27" stroke-width="0.6"/><path d="M818,578 C822,555 838,539 861,539 C885,539 900,555 905,576" fill="none" stroke="#2f352c" stroke-width="0.8"/><path d="M830,576 C834,558 846,548 861,548 C878,548 890,558 894,576 M861,541 L861,556 M842,546 L846,558 M880,546 L876,558" fill="none" stroke="#343d31" stroke-width="0.6"/><path d="M820,582 L828,568 L836,582 Z M888,582 L896,570 L904,582 Z" fill="#2e302c"/><path d="M440,507 L684,507 L686,456 Q687,453.4 690,453.4 L761,453.4 Q766,454 769,459 L800,501 C850,504 910,507 936,511 L937,576 L905,576 C900,555 885,539 861,539 C838,539 822,555 818,578 L800,585 L597,585 L593,556 Q588,544 578,544 L522,544 Q512,546 510,556 L508,575 L455,575 L455,560 L440,560 Z" fill="none" stroke="#2a2d27" stroke-width="1.1"/><path d="M440,522 L455,522 L455,575" fill="none" stroke="#2a2d27" stroke-width="0.7"/><path d="M682.5,509 L682.5,585" stroke="#2f332d" stroke-width="2"/><path d="M698,458 L698,582 L794,582 Q798,540 792,503" fill="none" stroke="#2a2d27" stroke-width="0.6"/><path d="M768.7,459.8 L801,496 L798,498 L766,462 Z" fill="#c5dcef" stroke="#2a2d27" stroke-width="0.6"/><path d="M706,462.75 L754.7,462.75 L767.5,504 L705,504 Q702.2,504 702.2,500 L702.2,467 Q702.2,462.75 706,462.75 Z" fill="url(#glass)" stroke="#2a2d27" stroke-width="1.2"/><path d="M759.3,468 L786,500.7 L766,500.7 Z" fill="url(#glass)" stroke="#2a2d27" stroke-width="1"/><path d="M770,488 Q774,486 776,490 L776,505 Q774,508 771,506 Z" fill="#4d5646" stroke="#2f352c" stroke-width="0.6"/><path d="M800,494 L806,491 L817,498 L816,503 L804,503 Z" fill="#4d5646" stroke="#2a2d27" stroke-width="0.8"/><rect x="439.2" y="528.3" width="12.5" height="21.7" fill="#e8001a" stroke="#5a1010" stroke-width="0.5"/><rect x="441.5" y="543" width="4" height="3" fill="#cfe8f0"/><rect x="911.7" y="549.6" width="20.3" height="5" fill="#ff7a00"/><circle cx="552.5" cy="598.3" r="36.5" fill="#686868" stroke="#262626" stroke-width="1.8"/><circle cx="552.5" cy="598.3" r="33.9" fill="none" stroke="#4e4e4e" stroke-width="3.6" stroke-dasharray="1.2 1.0"/><circle cx="552.5" cy="598.3" r="31.5" fill="none" stroke="#2f2f2f" stroke-width="0.9"/><circle cx="552.5" cy="598.3" r="25.5" fill="none" stroke="#5e5e5e" stroke-width="2.2" stroke-dasharray="5 16"/><circle cx="552.5" cy="598.3" r="18.7" fill="#4a5945" stroke="#2f3a2d" stroke-width="0.9"/><circle cx="552.5" cy="598.3" r="15" fill="none" stroke="#3a4736" stroke-width="0.7"/><circle cx="552.5" cy="598.3" r="10" fill="none" stroke="#3a4736" stroke-width="0.7"/><circle cx="552.5" cy="598.3" r="4.8" fill="#262626"/><circle cx="861.5" cy="598.3" r="36.5" fill="#686868" stroke="#262626" stroke-width="1.8"/><circle cx="861.5" cy="598.3" r="33.9" fill="none" stroke="#4e4e4e" stroke-width="3.6" stroke-dasharray="1.2 1.0"/><circle cx="861.5" cy="598.3" r="31.5" fill="none" stroke="#2f2f2f" stroke-width="0.9"/><circle cx="861.5" cy="598.3" r="25.5" fill="none" stroke="#5e5e5e" stroke-width="2.2" stroke-dasharray="5 16"/><circle cx="861.5" cy="598.3" r="18.7" fill="#4a5945" stroke="#2f3a2d" stroke-width="0.9"/><circle cx="861.5" cy="598.3" r="15" fill="none" stroke="#3a4736" stroke-width="0.7"/><circle cx="861.5" cy="598.3" r="10" fill="none" stroke="#3a4736" stroke-width="0.7"/><circle cx="861.5" cy="598.3" r="4.8" fill="#262626"/><path d="M465.4,659 Q465.4,654.4 470,654.4 L637,654.4 Q641.5,654.4 641.5,659 L641.5,742 L465.4,742 Z" fill="#524e3d" stroke="#2b261d" stroke-width="1.2"/><path d="M467,666 L640,666 M474,666 L474,740 M633,666 L633,740" fill="none" stroke="#37322a" stroke-width="0.8"/><path d="M501,657 L501,669 M605,657 L605,669" stroke="#37322a" stroke-width="1.5"/><path d="M462,742 L470,746 L470,760 M647,742 L639,746 L639,760" fill="none" stroke="#2a2d27" stroke-width="2"/><rect x="440.4" y="732.5" width="23" height="16.7" rx="3" fill="#465443" stroke="#2a2d27" stroke-width="1"/><rect x="645.6" y="732.5" width="23" height="16.7" rx="3" fill="#465443" stroke="#2a2d27" stroke-width="1"/><rect x="465" y="818" width="22.5" height="61.2" rx="4" fill="url(#tread)" stroke="#222" stroke-width="1"/><rect x="621.7" y="818" width="21.6" height="61.2" rx="4" fill="url(#tread)" stroke="#222" stroke-width="1"/><rect x="461" y="835" width="4" height="10" fill="#333"/><rect x="643.3" y="835" width="4" height="10" fill="#333"/><path d="M487.5,820 L621.7,820 L621.7,848.3 L600,848.3 L587,856.7 L518,856.7 L505,848.3 L487.5,848.3 Z" fill="url(#under)" stroke="#262626" stroke-width="0.8"/><path d="M490,842 L618,842" stroke="#2a2a2a" stroke-width="2"/><clipPath id="c3"><path d="M485,699 Q488,697 495,697 L613,697 Q620,697 623,699 L640.4,749 L650,765 L650,800 L459,800 L459,765 L467.5,749 Z"/></clipPath><g clip-path="url(#c3)"><rect x="455" y="690" width="200" height="140" fill="#4d5646"/><path d="M488.0,700.0 Q486.0,697.0 523.0,696.5 Q560.0,696.0 590.0,696.5 Q620.0,697.0 610.0,699.5 Q600.0,702.0 570.0,702.5 Q540.0,703.0 515.0,703.0 Q490.0,703.0 488.0,700.0Z" fill="#67632f" /><path d="M467.0,757.5 Q467.0,752.0 493.5,750.5 Q520.0,749.0 535.0,750.5 Q550.0,752.0 575.0,754.0 Q600.0,756.0 580.0,759.0 Q560.0,762.0 530.0,761.0 Q500.0,760.0 483.5,761.5 Q467.0,763.0 467.0,757.5Z" fill="#67632f" /><path d="M604.0,753.0 Q598.0,749.0 624.0,749.5 Q650.0,750.0 651.0,770.0 Q652.0,790.0 647.0,790.0 Q642.0,790.0 637.0,776.0 Q632.0,762.0 621.0,759.5 Q610.0,757.0 604.0,753.0Z" fill="#67632f" /><path d="M484.0,756.0 Q478.0,755.0 486.5,753.5 Q495.0,752.0 502.5,752.5 Q510.0,753.0 500.0,755.0 Q490.0,757.0 484.0,756.0Z" fill="#c9b697" /><path d="M586.0,757.5 Q582.0,756.0 591.0,754.5 Q600.0,753.0 612.5,754.0 Q625.0,755.0 607.5,757.0 Q590.0,759.0 586.0,757.5Z" fill="#c9b697" /></g><path d="M485,699 Q488,697 495,697 L613,697 Q620,697 623,699 L640.4,749 L650,765 L650,800 L459,800 L459,765 L467.5,749 Z" fill="none" stroke="#2a2d27" stroke-width="1.1"/><path d="M554,746 L554,765 M467.5,749 L640.4,749 M459,765 L650,765" stroke="#2f352c" stroke-width="0.7"/><path d="M489,704.4 L617,704.4 Q622,704.4 624,709 L631,741 Q631.5,745 628,745 L480,745 Q476.5,745 477,741 L482,709 Q484,704.4 489,704.4 Z" fill="url(#glass)" stroke="#262a25" stroke-width="1.8"/><path d="M490,742 L520,738.5 L551,745 M555,742 L585,738.5 L616,745" fill="none" stroke="#2b2f2a" stroke-width="1.8"/><rect x="468.3" y="765.8" width="171.7" height="31.7" rx="2" fill="#3f4b3c" stroke="#2a2d27" stroke-width="0.9"/><line x1="499" y1="771" x2="610" y2="771" stroke="#2a2f28" stroke-width="1"/><line x1="499" y1="776" x2="610" y2="776" stroke="#2a2f28" stroke-width="1"/><line x1="499" y1="781" x2="610" y2="781" stroke="#2a2f28" stroke-width="1"/><line x1="499" y1="786" x2="610" y2="786" stroke="#2a2f28" stroke-width="1"/><line x1="499" y1="791" x2="610" y2="791" stroke="#2a2f28" stroke-width="1"/><path d="M471,781.5 L637,781.5" stroke="#4e5a4a" stroke-width="1.2"/><line x1="499" y1="766" x2="499" y2="820" stroke="#52604d" stroke-width="1.2"/><line x1="527.5" y1="766" x2="527.5" y2="820" stroke="#52604d" stroke-width="1.2"/><line x1="555" y1="766" x2="555" y2="820" stroke="#52604d" stroke-width="1.2"/><line x1="581.7" y1="766" x2="581.7" y2="820" stroke="#52604d" stroke-width="1.2"/><line x1="610" y1="766" x2="610" y2="820" stroke="#52604d" stroke-width="1.2"/><rect x="474" y="770.8" width="18.5" height="10" rx="1.5" fill="#c9dfee" stroke="#1f221e" stroke-width="1"/><rect x="474" y="785" width="18.5" height="5.8" rx="1" fill="#a7c5e5" stroke="#1f221e" stroke-width="1"/><rect x="616.7" y="770.8" width="17.3" height="10" rx="1.5" fill="#c9dfee" stroke="#1f221e" stroke-width="1"/><rect x="616.7" y="785" width="17.3" height="5.8" rx="1" fill="#a7c5e5" stroke="#1f221e" stroke-width="1"/><circle cx="463.3" cy="796.7" r="2.6" fill="#ff7a00"/><circle cx="645" cy="796.7" r="2.6" fill="#ff7a00"/><rect x="459" y="800" width="191" height="23.3" fill="#475544" stroke="#2a2d27" stroke-width="1"/><path d="M463,808 L646,808" stroke="#34402f" stroke-width="0.6"/><line x1="499" y1="800" x2="499" y2="821" stroke="#52604d" stroke-width="1.2"/><line x1="527.5" y1="800" x2="527.5" y2="821" stroke="#52604d" stroke-width="1.2"/><line x1="581.7" y1="800" x2="581.7" y2="821" stroke="#52604d" stroke-width="1.2"/><line x1="610" y1="800" x2="610" y2="821" stroke="#52604d" stroke-width="1.2"/><rect x="540" y="805.8" width="29" height="14.2" fill="#3e4a3b" stroke="#2a2d27" stroke-width="0.7"/><circle cx="518.3" cy="825" r="5" fill="none" stroke="#34402f" stroke-width="1.6"/><circle cx="590.8" cy="825" r="5" fill="none" stroke="#34402f" stroke-width="1.6"/><path d="M732,662 Q732,655 739,655 L901,655 Q908,655 908,662 L908,757 L732,757 Z" fill="#524e3d" stroke="#2b261d" stroke-width="1.2"/><path d="M733,666 L907,666 M741,667 L741,755 M899,667 L899,755" fill="none" stroke="#37322a" stroke-width="0.8"/><path d="M767,657 L767,669 M872,657 L872,669" stroke="#37322a" stroke-width="1.5"/><rect x="790" y="704" width="60" height="28" fill="url(#glass)" stroke="#2a2d27" stroke-width="1.6"/><path d="M727,742 L732,746 L732,758 M913,742 L908,746 L908,758" fill="none" stroke="#2a2d27" stroke-width="2"/><rect x="705.6" y="732" width="22" height="17" rx="3" fill="#9ec0e2" stroke="#2a2d27" stroke-width="1.4"/><rect x="912.7" y="732" width="22" height="17" rx="3" fill="#9ec0e2" stroke="#2a2d27" stroke-width="1.4"/><rect x="730.75" y="820" width="21.9" height="59" rx="4" fill="url(#tread)" stroke="#222" stroke-width="1"/><rect x="887.4" y="820" width="21.9" height="59" rx="4" fill="url(#tread)" stroke="#222" stroke-width="1"/><rect x="727" y="837" width="4" height="10" fill="#333"/><rect x="909" y="837" width="4" height="10" fill="#333"/><path d="M752.6,822 L887.4,822 L887.4,848.5 L841,848.5 L835,857.25 L800,857.25 L793.75,848.5 L752.6,848.5 Z" fill="url(#under)" stroke="#262626" stroke-width="0.8"/><path d="M755,835 L885,835" stroke="#2a2a2a" stroke-width="2.2"/><rect x="806" y="828" width="24" height="26" rx="4" fill="#3a3a3a" stroke="#262626" stroke-width="0.8"/><clipPath id="c4"><path d="M726,753 L914,753 L915.4,824 L724.6,824 Z"/></clipPath><g clip-path="url(#c4)"><rect x="720" y="750" width="200" height="80" fill="#4d5646"/><path d="M724.0,771.5 Q724.0,753.0 765.0,753.0 Q806.0,753.0 809.0,761.5 Q812.0,770.0 809.0,782.5 Q806.0,795.0 798.0,800.0 Q790.0,805.0 785.0,802.5 Q780.0,800.0 776.0,788.0 Q772.0,776.0 758.0,775.0 Q744.0,774.0 734.0,782.0 Q724.0,790.0 724.0,771.5Z" fill="#67632f" /><path d="M844.0,764.0 Q842.0,753.0 862.0,753.0 Q882.0,753.0 886.0,771.5 Q890.0,790.0 885.0,795.0 Q880.0,800.0 871.0,797.5 Q862.0,795.0 854.0,785.0 Q846.0,775.0 844.0,764.0Z" fill="#67632f" /><path d="M763.5,781.0 Q762.0,777.0 769.5,776.5 Q777.0,776.0 780.5,783.0 Q784.0,790.0 782.5,798.0 Q781.0,806.0 776.5,806.0 Q772.0,806.0 773.5,798.0 Q775.0,790.0 770.0,787.5 Q765.0,785.0 763.5,781.0Z" fill="#c9b697" /><g fill="#2d2c2a"><circle cx="820.0" cy="784.0" r="2.9"/><path d="M822.3,782.0 Q817.9,779.5 813.8,775.3 Q812.2,775.1 812.2,776.7 Q815.8,781.3 817.7,786.0 Z"/><path d="M820.7,787.0 Q824.4,784.5 829.2,783.0 Q830.2,781.7 828.8,781.0 Q823.7,781.7 819.3,781.0 Z"/><path d="M817.7,781.9 Q815.4,787.1 811.3,792.3 Q811.2,793.9 812.7,793.7 Q817.4,789.0 822.3,786.1 Z"/></g><g fill="#2d2c2a"><circle cx="884.0" cy="770.0" r="2.9"/><path d="M886.5,768.2 Q882.3,765.2 878.6,760.4 Q877.0,760.0 876.9,761.6 Q880.0,766.7 881.5,771.8 Z"/><path d="M885.5,772.7 Q889.6,768.5 895.5,764.9 Q896.1,763.4 894.5,763.1 Q888.3,766.1 882.5,767.3 Z"/><path d="M881.1,771.2 Q885.0,775.9 888.1,782.4 Q889.5,783.2 889.9,781.6 Q887.5,774.9 886.9,768.8 Z"/></g></g><path d="M726,753 L914,753 L915.4,824 L724.6,824 Z" fill="none" stroke="#2a2d27" stroke-width="1.1"/><rect x="743.9" y="773.25" width="152.2" height="20.15" rx="1.5" fill="none" stroke="#2f352c" stroke-width="0.9"/><rect x="727.25" y="773.25" width="14" height="20.15" fill="#e8001a" stroke="#1e3020" stroke-width="0.8"/><rect x="731" y="786" width="5" height="3" fill="#d8ecf3"/><rect x="898.75" y="773.25" width="14" height="20.15" fill="#e8001a" stroke="#1e3020" stroke-width="0.8"/><rect x="904" y="786" width="5" height="3" fill="#d8ecf3"/><rect x="724.6" y="803.9" width="190.8" height="20.1" fill="#475544" stroke="#2a2d27" stroke-width="1"/><path d="M730,812 L910,812 M822,804 L822,824" stroke="#34402f" stroke-width="0.6"/><circle cx="779.75" cy="820.5" r="5" fill="none" stroke="#34402f" stroke-width="1.4"/><circle cx="860.25" cy="820.5" r="5" fill="none" stroke="#34402f" stroke-width="1.4"/><path d="M598.5,931 L598.5,913 Q601,910 603.5,913 L603.5,931 Z" fill="#465443" stroke="#2a2d27" stroke-width="0.8"/><path d="M598.5,1121 L598.5,1139 Q601,1142 603.5,1139 L603.5,1121 Z" fill="#465443" stroke="#2a2d27" stroke-width="0.8"/><clipPath id="c5"><path d="M436,934 Q436,930.5 441,930.5 L688.5,930.5 L688.5,1121 L441,1121 Q436,1121 436,1117 Z"/></clipPath><g clip-path="url(#c5)"><rect x="430" y="925" width="265" height="205" fill="#4d5646"/><path d="M495.5,942.5 Q497.0,930.0 534.5,930.0 Q572.0,930.0 572.0,965.0 Q572.0,1000.0 563.5,1011.0 Q555.0,1022.0 537.5,1022.0 Q520.0,1022.0 516.0,1013.5 Q512.0,1005.0 516.0,998.5 Q520.0,992.0 509.0,988.0 Q498.0,984.0 496.0,969.5 Q494.0,955.0 495.5,942.5Z" fill="#67632f" /><path d="M437.0,1030.0 Q437.0,1000.0 448.5,993.0 Q460.0,986.0 475.0,987.0 Q490.0,988.0 489.0,1002.0 Q488.0,1016.0 506.5,1026.0 Q525.0,1036.0 524.5,1048.0 Q524.0,1060.0 508.0,1074.0 Q492.0,1088.0 473.5,1089.0 Q455.0,1090.0 446.0,1075.0 Q437.0,1060.0 437.0,1030.0Z" fill="#67632f" /><path d="M455.0,1104.5 Q455.0,1088.0 477.5,1089.0 Q500.0,1090.0 515.0,1094.0 Q530.0,1098.0 525.0,1109.5 Q520.0,1121.0 487.5,1121.0 Q455.0,1121.0 455.0,1104.5Z" fill="#67632f" /><path d="M500.0,1110.5 Q500.0,1100.0 530.0,1100.0 Q560.0,1100.0 567.5,1110.5 Q575.0,1121.0 537.5,1121.0 Q500.0,1121.0 500.0,1110.5Z" fill="#4d5646" /><path d="M496.0,955.0 Q495.0,946.0 500.5,953.0 Q506.0,960.0 514.0,963.0 Q522.0,966.0 521.0,974.5 Q520.0,983.0 513.0,980.5 Q506.0,978.0 501.5,971.0 Q497.0,964.0 496.0,955.0Z" fill="#c9b697" /><path d="M465.0,1068.5 Q460.0,1062.0 468.0,1061.0 Q476.0,1060.0 481.0,1063.0 Q486.0,1066.0 483.0,1073.0 Q480.0,1080.0 475.0,1085.0 Q470.0,1090.0 463.0,1097.0 Q456.0,1104.0 457.0,1094.5 Q458.0,1085.0 464.0,1080.0 Q470.0,1075.0 465.0,1068.5Z" fill="#c9b697" /><g fill="#2d2c2a"><circle cx="501.7" cy="1001.7" r="3.4"/><path d="M504.6,999.3 Q497.7,994.3 490.9,986.9 Q489.0,986.5 489.1,988.5 Q495.1,996.5 498.8,1004.1 Z"/><path d="M501.2,1005.4 Q508.8,1004.4 517.8,1005.2 Q519.5,1004.2 518.2,1002.8 Q509.3,1001.1 502.2,998.0 Z"/><path d="M498.8,999.3 Q495.1,1006.9 489.1,1014.9 Q489.0,1016.9 490.9,1016.5 Q497.7,1009.1 504.6,1004.1 Z"/></g><g fill="#2d2c2a"><circle cx="546.0" cy="1001.0" r="2.9"/><path d="M548.6,1002.7 Q550.3,996.8 553.8,990.5 Q553.7,988.9 552.2,989.5 Q548.0,995.3 543.4,999.3 Z"/><path d="M543.3,999.4 Q541.6,1005.7 538.1,1012.5 Q538.4,1014.1 539.9,1013.5 Q544.1,1007.1 548.7,1002.6 Z"/><path d="M544.1,1003.4 Q549.2,1005.3 554.4,1008.8 Q556.0,1008.8 555.6,1007.2 Q550.9,1003.0 547.9,998.6 Z"/></g><g fill="#2d2c2a"><circle cx="517.0" cy="1063.0" r="3.2"/><path d="M519.9,1064.8 Q521.9,1058.0 525.9,1050.6 Q525.7,1048.8 524.1,1049.4 Q519.3,1056.3 514.1,1061.2 Z"/><path d="M514.0,1061.4 Q510.7,1071.3 505.0,1082.5 Q505.3,1084.2 507.0,1083.5 Q513.4,1072.7 520.0,1064.6 Z"/><path d="M513.9,1064.3 Q517.8,1069.0 521.0,1075.4 Q522.5,1076.3 523.0,1074.6 Q520.7,1067.8 520.1,1061.7 Z"/></g><path d="M607.0,974.5 Q607.0,957.0 631.0,956.0 Q655.0,955.0 661.5,967.5 Q668.0,980.0 665.5,1020.0 Q663.0,1060.0 661.5,1080.0 Q660.0,1100.0 650.0,1100.0 Q640.0,1100.0 642.0,1070.0 Q644.0,1040.0 637.0,1020.0 Q630.0,1000.0 618.5,996.0 Q607.0,992.0 607.0,974.5Z" fill="#67632f" /><path d="M662.5,1069.5 Q659.0,1061.0 665.5,1061.5 Q672.0,1062.0 680.0,1066.0 Q688.0,1070.0 688.0,1082.0 Q688.0,1094.0 682.0,1094.0 Q676.0,1094.0 671.0,1086.0 Q666.0,1078.0 662.5,1069.5Z" fill="#c9b697" /><g fill="#2d2c2a"><circle cx="626.0" cy="990.0" r="3.2"/><path d="M629.1,988.7 Q624.7,983.1 621.0,975.6 Q619.5,974.7 619.0,976.4 Q621.9,984.3 622.9,991.3 Z"/><path d="M623.9,992.7 Q630.9,995.7 638.3,1000.9 Q640.1,1000.8 639.7,999.1 Q632.8,993.3 628.1,987.3 Z"/><path d="M623.2,988.1 Q621.1,994.5 617.1,1001.4 Q617.2,1003.1 618.9,1002.6 Q623.7,996.3 628.8,991.9 Z"/></g><g fill="#2d2c2a"><circle cx="665.0" cy="1030.0" r="2.9"/><path d="M667.9,1028.8 Q664.0,1024.1 660.9,1017.6 Q659.5,1016.8 659.1,1018.4 Q661.5,1025.1 662.1,1031.2 Z"/><path d="M662.2,1031.2 Q666.9,1037.8 671.1,1046.4 Q672.5,1047.1 672.9,1045.6 Q669.4,1036.6 667.8,1028.8 Z"/><path d="M662.5,1028.2 Q660.7,1033.7 657.2,1039.4 Q657.3,1041.0 658.8,1040.6 Q663.0,1035.3 667.5,1031.8 Z"/></g></g><path d="M436,934 Q436,930.5 441,930.5 L688.5,930.5 L688.5,1121 L441,1121 Q436,1121 436,1117 Z" fill="none" stroke="#2a2d27" stroke-width="1.1"/><rect x="427" y="932" width="10" height="188" rx="4" fill="#465443" stroke="#2a2d27" stroke-width="1"/><path d="M441,935.5 L462,933.5 M441,1116 L462,1118" fill="none" stroke="#ff7a00" stroke-width="1.4"/><path d="M438,964 L565,962 M438,1026 L565,1026 M438,1088 L565,1090 M565,935 L575,1115" stroke="#2f352c" stroke-width="0.6" fill="none"/><rect x="553" y="976" width="10" height="103" fill="#3a4436" stroke="#2a2f28" stroke-width="0.6"/><path d="M555,980 L561,980 M555,985 L561,985 M555,990 L561,990 M555,995 L561,995 M555,1000 L561,1000 M555,1005 L561,1005 M555,1010 L561,1010 M555,1015 L561,1015 M555,1040 L561,1040 M555,1045 L561,1045 M555,1050 L561,1050 M555,1055 L561,1055 M555,1060 L561,1060 M555,1065 L561,1065 M555,1070 L561,1070" stroke="#252a23" stroke-width="1"/><path d="M571.5,949 L600,957 Q606,960 606,966 L606,1091 Q606,1097 600,1099 L571.5,1104 Q568.5,1104 568.5,1100 L568.5,953 Q568.5,948.5 571.5,949 Z" fill="#d2e5f0" stroke="#262a25" stroke-width="2"/><path d="M580,946 L597,942 L672,942 L672,956 L600,956 Z" fill="#cfe2ee" stroke="#2a2d27" stroke-width="1"/><path d="M580,1106 L597,1110 L672,1110 L672,1097 L600,1097 Z" fill="#cfe2ee" stroke="#2a2d27" stroke-width="1"/><path d="M596,943 Q604,950 608,958 M596,1109 Q604,1102 608,1094" fill="none" stroke="#262a25" stroke-width="1.4"/><rect x="693" y="930.5" width="251" height="191" rx="3" fill="#4d5646" stroke="#2a2d27" stroke-width="1"/><rect x="694" y="931.5" width="60" height="6" fill="#67632f"/><rect x="780" y="931.5" width="60" height="6" fill="#67632f"/><rect x="880" y="931.5" width="40" height="6" fill="#67632f"/><rect x="694" y="1114.5" width="40" height="6" fill="#67632f"/><rect x="740" y="1114.5" width="50" height="6" fill="#67632f"/><rect x="900" y="1114.5" width="20" height="6" fill="#67632f"/><rect x="920.3" y="930.5" width="23.3" height="190.2" rx="5" fill="#44513f" stroke="#2a2d27" stroke-width="1"/><circle cx="946" cy="985" r="3" fill="#465443" stroke="#2a2d27" stroke-width="0.8"/><circle cx="946" cy="1068" r="3" fill="#465443" stroke="#2a2d27" stroke-width="0.8"/><rect x="942" y="1024" width="7" height="4" fill="#465443" stroke="#2a2d27" stroke-width="0.6"/><path d="M701,937.5 L926,937.5 Q934.3,937.5 934.3,946 L934.3,1105 Q934.3,1113.7 926,1113.7 L701,1113.7 Q693,1113.7 693,1105 L693,946 Q693,937.5 701,937.5 Z" fill="#524e3d" stroke="#2b261d" stroke-width="1.2"/><path d="M700,948 L925,948 L925,1104 L700,1104 Z M810.7,939 L810.7,1112 M701,950 Q756,944 810.7,950 Q866,944 924,950 M701,1102 Q756,1108 810.7,1102 Q866,1108 924,1102" fill="none" stroke="#3a3528" stroke-width="0.7"/><rect x="932.5" y="997" width="3" height="58" fill="#a9c6e6" stroke="#2a2d27" stroke-width="0.6"/><path d="M689.5,931 L689.5,1121" stroke="#fff" stroke-width="2.5"/>
<text transform="translate(461.00 176.80) scale(0.7 1)" font-size="10" font-weight="bold" font-style="normal" text-anchor="end" letter-spacing="0.666" dx="0.666" fill="#231815" stroke="#231815" stroke-width="0.25">FOREST GREEN</text>
<text transform="translate(461.00 186.40) scale(0.7 1)" font-size="10" font-weight="bold" font-style="normal" text-anchor="end" letter-spacing="0.575" dx="0.575" fill="#231815" stroke="#231815" stroke-width="0.25">FS 34079</text>
<text transform="translate(461.00 196.00) scale(0.7 1)" font-size="10" font-weight="normal" font-style="normal" text-anchor="end" letter-spacing="1.001" dx="1.001" fill="#352f2e" stroke="#352f2e" stroke-width="0.1">RC900</text>
<text transform="translate(461.00 205.60) scale(0.7 1)" font-size="10" font-weight="normal" font-style="normal" text-anchor="end" letter-spacing="0.866" dx="0.866" fill="#352f2e" stroke="#352f2e" stroke-width="0.1">AK11346</text>
<rect x="466" y="173" width="7" height="27" fill="#4a5444"/>
<line x1="470" y1="200" x2="514" y2="268" stroke="#3e3a39" stroke-width="0.7"/>
<text transform="translate(461.00 228.30) scale(0.7 1)" font-size="10" font-weight="bold" font-style="normal" text-anchor="end" letter-spacing="0.599" dx="0.599" fill="#231815" stroke="#231815" stroke-width="0.25">LIGHT GREEN FS</text>
<text transform="translate(461.00 237.90) scale(0.7 1)" font-size="10" font-weight="bold" font-style="normal" text-anchor="end" letter-spacing="0.646" dx="0.646" fill="#231815" stroke="#231815" stroke-width="0.25">34151</text>
<text transform="translate(461.00 247.50) scale(0.7 1)" font-size="10" font-weight="normal" font-style="normal" text-anchor="end" letter-spacing="1.001" dx="1.001" fill="#352f2e" stroke="#352f2e" stroke-width="0.1">RC906</text>
<text transform="translate(461.00 257.10) scale(0.7 1)" font-size="10" font-weight="normal" font-style="normal" text-anchor="end" letter-spacing="0.866" dx="0.866" fill="#352f2e" stroke="#352f2e" stroke-width="0.1">AK11335</text>
<rect x="466" y="224.5" width="7" height="26.5" fill="#6a6530"/>
<line x1="470" y1="251" x2="479" y2="272" stroke="#3e3a39" stroke-width="0.7"/>
<text transform="translate(553.00 181.30) scale(0.7 1)" font-size="10" font-weight="bold" font-style="normal" text-anchor="end" letter-spacing="0.680" dx="0.680" fill="#231815" stroke="#231815" stroke-width="0.25">RUBBER BLACK</text>
<text transform="translate(553.00 190.90) scale(0.7 1)" font-size="10" font-weight="normal" font-style="normal" text-anchor="end" letter-spacing="1.001" dx="1.001" fill="#352f2e" stroke="#352f2e" stroke-width="0.1">RC805</text>
<text transform="translate(553.00 200.50) scale(0.7 1)" font-size="10" font-weight="normal" font-style="normal" text-anchor="end" letter-spacing="0.866" dx="0.866" fill="#352f2e" stroke="#352f2e" stroke-width="0.1">AK11027</text>
<rect x="558" y="173" width="6.5" height="27" fill="#5f5f60"/>
<line x1="564" y1="188" x2="603" y2="214" stroke="#3e3a39" stroke-width="0.7"/>
<text transform="translate(647.00 176.80) scale(0.7 1)" font-size="10" font-weight="bold" font-style="normal" text-anchor="end" letter-spacing="0.636" dx="0.636" fill="#231815" stroke="#231815" stroke-width="0.25">OLIVE DRAB</text>
<text transform="translate(647.00 186.40) scale(0.7 1)" font-size="10" font-weight="normal" font-style="normal" text-anchor="end" letter-spacing="1.001" dx="1.001" fill="#352f2e" stroke="#352f2e" stroke-width="0.1">RC901</text>
<text transform="translate(647.00 196.00) scale(0.7 1)" font-size="10" font-weight="normal" font-style="normal" text-anchor="end" letter-spacing="0.850" dx="0.850" fill="#352f2e" stroke="#352f2e" stroke-width="0.1">AK11156</text>
<rect x="652.5" y="169" width="6.5" height="26.5" fill="#4f4a39"/>
<line x1="659" y1="183" x2="720" y2="210" stroke="#3e3a39" stroke-width="0.7"/>
<text transform="translate(444.50 377.80) scale(0.7 1)" font-size="10" font-weight="bold" font-style="normal" text-anchor="end" letter-spacing="0.685" dx="0.685" fill="#231815" stroke="#231815" stroke-width="0.25">CLEAR ORANGE</text>
<text transform="translate(444.50 387.40) scale(0.7 1)" font-size="10" font-weight="normal" font-style="normal" text-anchor="end" letter-spacing="1.001" dx="1.001" fill="#352f2e" stroke="#352f2e" stroke-width="0.1">RC824</text>
<text transform="translate(444.50 397.00) scale(0.7 1)" font-size="10" font-weight="normal" font-style="normal" text-anchor="end" letter-spacing="0.866" dx="0.866" fill="#352f2e" stroke="#352f2e" stroke-width="0.1">AK11218</text>
<rect x="449.5" y="369" width="6.5" height="27" fill="#ff7200"/>
<line x1="453" y1="369" x2="453" y2="337" stroke="#3e3a39" stroke-width="0.7"/>
<text transform="translate(607.50 381.80) scale(0.7 1)" font-size="10" font-weight="bold" font-style="normal" text-anchor="start" letter-spacing="0.673" dx="0.000" fill="#231815" stroke="#231815" stroke-width="0.25">NATO BLACK</text>
<text transform="translate(607.50 391.40) scale(0.7 1)" font-size="10" font-weight="normal" font-style="normal" text-anchor="start" letter-spacing="1.001" dx="0.000" fill="#352f2e" stroke="#352f2e" stroke-width="0.1">RC888</text>
<text transform="translate(607.50 401.00) scale(0.7 1)" font-size="10" font-weight="normal" font-style="normal" text-anchor="start" letter-spacing="0.866" dx="0.000" fill="#352f2e" stroke="#352f2e" stroke-width="0.1">AK11360</text>
<rect x="596" y="374.5" width="7" height="26.5" fill="#2e2e2e"/>
<line x1="598" y1="375" x2="558" y2="308" stroke="#3e3a39" stroke-width="0.7"/>
<text transform="translate(746.00 381.80) scale(0.7 1)" font-size="10" font-weight="bold" font-style="normal" text-anchor="end" letter-spacing="0.680" dx="0.680" fill="#231815" stroke="#231815" stroke-width="0.25">RUBBER BLACK</text>
<text transform="translate(746.00 391.40) scale(0.7 1)" font-size="10" font-weight="normal" font-style="normal" text-anchor="end" letter-spacing="1.001" dx="1.001" fill="#352f2e" stroke="#352f2e" stroke-width="0.1">RC805</text>
<text transform="translate(746.00 401.00) scale(0.7 1)" font-size="10" font-weight="normal" font-style="normal" text-anchor="end" letter-spacing="0.866" dx="0.866" fill="#352f2e" stroke="#352f2e" stroke-width="0.1">AK11027</text>
<rect x="751" y="374.5" width="7" height="26.5" fill="#5f5f60"/>
<line x1="758" y1="383" x2="786" y2="369" stroke="#3e3a39" stroke-width="0.7"/>
<line x1="755" y1="401" x2="757" y2="455" stroke="#3e3a39" stroke-width="0.7"/>
<text transform="translate(887.50 375.80) scale(0.7 1)" font-size="10" font-weight="bold" font-style="normal" text-anchor="start" letter-spacing="0.673" dx="0.000" fill="#231815" stroke="#231815" stroke-width="0.25">NATO BLACK</text>
<text transform="translate(887.50 385.40) scale(0.7 1)" font-size="10" font-weight="normal" font-style="normal" text-anchor="start" letter-spacing="1.001" dx="0.000" fill="#352f2e" stroke="#352f2e" stroke-width="0.1">RC888</text>
<text transform="translate(887.50 395.00) scale(0.7 1)" font-size="10" font-weight="normal" font-style="normal" text-anchor="start" letter-spacing="0.866" dx="0.000" fill="#352f2e" stroke="#352f2e" stroke-width="0.1">AK11360</text>
<rect x="876" y="368" width="7" height="27" fill="#2e2e2e"/>
<line x1="876" y1="372" x2="822" y2="354" stroke="#3e3a39" stroke-width="0.7"/>
<text transform="translate(887.50 420.80) scale(0.7 1)" font-size="10" font-weight="bold" font-style="normal" text-anchor="start" letter-spacing="0.678" dx="0.000" fill="#231815" stroke="#231815" stroke-width="0.25">NATO GREEN</text>
<text transform="translate(887.50 430.40) scale(0.7 1)" font-size="10" font-weight="normal" font-style="normal" text-anchor="start" letter-spacing="1.001" dx="0.000" fill="#352f2e" stroke="#352f2e" stroke-width="0.1">RC886</text>
<text transform="translate(887.50 440.00) scale(0.7 1)" font-size="10" font-weight="normal" font-style="normal" text-anchor="start" letter-spacing="0.866" dx="0.000" fill="#352f2e" stroke="#352f2e" stroke-width="0.1">AK11358</text>
<rect x="876" y="413" width="7" height="27" fill="#3f5039"/>
<line x1="876" y1="413" x2="845" y2="385" stroke="#3e3a39" stroke-width="0.7"/>
<text transform="translate(480.80 624.60) scale(0.7 1)" font-size="10" font-weight="bold" font-style="normal" text-anchor="end" letter-spacing="0.678" dx="0.678" fill="#231815" stroke="#231815" stroke-width="0.25">NATO GREEN</text>
<text transform="translate(480.80 634.20) scale(0.7 1)" font-size="10" font-weight="normal" font-style="normal" text-anchor="end" letter-spacing="1.001" dx="1.001" fill="#352f2e" stroke="#352f2e" stroke-width="0.1">RC886</text>
<text transform="translate(480.80 643.80) scale(0.7 1)" font-size="10" font-weight="normal" font-style="normal" text-anchor="end" letter-spacing="0.866" dx="0.866" fill="#352f2e" stroke="#352f2e" stroke-width="0.1">AK11358</text>
<rect x="485.5" y="616" width="6.5" height="27" fill="#3f5039"/>
<line x1="492" y1="630" x2="537" y2="603" stroke="#3e3a39" stroke-width="0.7"/>
<text transform="translate(675.50 624.60) scale(0.7 1)" font-size="10" font-weight="bold" font-style="normal" text-anchor="end" letter-spacing="0.576" dx="0.576" fill="#231815" stroke="#231815" stroke-width="0.25">SAND FS 30277</text>
<text transform="translate(675.50 634.20) scale(0.7 1)" font-size="10" font-weight="normal" font-style="normal" text-anchor="end" letter-spacing="1.001" dx="1.001" fill="#352f2e" stroke="#352f2e" stroke-width="0.1">RC896</text>
<text transform="translate(675.50 643.80) scale(0.7 1)" font-size="10" font-weight="normal" font-style="normal" text-anchor="end" letter-spacing="0.866" dx="0.866" fill="#352f2e" stroke="#352f2e" stroke-width="0.1">AK11343</text>
<rect x="680.5" y="616" width="6.5" height="27" fill="#c6b08e"/>
<line x1="687" y1="626" x2="742" y2="568" stroke="#3e3a39" stroke-width="0.7"/>
<text transform="translate(795.50 624.60) scale(0.7 1)" font-size="10" font-weight="bold" font-style="normal" text-anchor="end" letter-spacing="0.680" dx="0.680" fill="#231815" stroke="#231815" stroke-width="0.25">RUBBER BLACK</text>
<text transform="translate(795.50 634.20) scale(0.7 1)" font-size="10" font-weight="normal" font-style="normal" text-anchor="end" letter-spacing="1.001" dx="1.001" fill="#352f2e" stroke="#352f2e" stroke-width="0.1">RC805</text>
<text transform="translate(795.50 643.80) scale(0.7 1)" font-size="10" font-weight="normal" font-style="normal" text-anchor="end" letter-spacing="0.866" dx="0.866" fill="#352f2e" stroke="#352f2e" stroke-width="0.1">AK11027</text>
<rect x="800.5" y="616" width="6.5" height="27" fill="#5f5f60"/>
<line x1="807" y1="630" x2="827" y2="609" stroke="#3e3a39" stroke-width="0.7"/>
<text transform="translate(919.50 624.60) scale(0.7 1)" font-size="10" font-weight="bold" font-style="normal" text-anchor="start" letter-spacing="0.685" dx="0.000" fill="#231815" stroke="#231815" stroke-width="0.25">CLEAR ORANGE</text>
<text transform="translate(919.50 634.20) scale(0.7 1)" font-size="10" font-weight="normal" font-style="normal" text-anchor="start" letter-spacing="1.001" dx="0.000" fill="#352f2e" stroke="#352f2e" stroke-width="0.1">RC824</text>
<text transform="translate(919.50 643.80) scale(0.7 1)" font-size="10" font-weight="normal" font-style="normal" text-anchor="start" letter-spacing="0.866" dx="0.000" fill="#352f2e" stroke="#352f2e" stroke-width="0.1">AK11218</text>
<rect x="908" y="616" width="7" height="27" fill="#ff7200"/>
<line x1="911.5" y1="616" x2="919" y2="553" stroke="#3e3a39" stroke-width="0.7"/>
<text transform="translate(450.80 686.20) scale(0.7 1)" font-size="10" font-weight="bold" font-style="normal" text-anchor="end" letter-spacing="0.680" dx="0.680" fill="#231815" stroke="#231815" stroke-width="0.25">RUBBER BLACK</text>
<text transform="translate(450.80 695.80) scale(0.7 1)" font-size="10" font-weight="normal" font-style="normal" text-anchor="end" letter-spacing="1.001" dx="1.001" fill="#352f2e" stroke="#352f2e" stroke-width="0.1">RC805</text>
<text transform="translate(450.80 705.40) scale(0.7 1)" font-size="10" font-weight="normal" font-style="normal" text-anchor="end" letter-spacing="0.866" dx="0.866" fill="#352f2e" stroke="#352f2e" stroke-width="0.1">AK11027</text>
<rect x="455.4" y="678" width="6.6" height="27.4" fill="#5f5f60"/>
<line x1="462" y1="692" x2="497" y2="739" stroke="#3e3a39" stroke-width="0.7"/>
<text transform="translate(561.00 884.80) scale(0.7 1)" font-size="10" font-weight="bold" font-style="normal" text-anchor="end" letter-spacing="0.666" dx="0.666" fill="#231815" stroke="#231815" stroke-width="0.25">FOREST GREEN</text>
<text transform="translate(561.00 894.40) scale(0.7 1)" font-size="10" font-weight="bold" font-style="normal" text-anchor="end" letter-spacing="0.575" dx="0.575" fill="#231815" stroke="#231815" stroke-width="0.25">FS 34079</text>
<text transform="translate(561.00 904.00) scale(0.7 1)" font-size="10" font-weight="normal" font-style="normal" text-anchor="end" letter-spacing="1.001" dx="1.001" fill="#352f2e" stroke="#352f2e" stroke-width="0.1">RC900</text>
<text transform="translate(561.00 913.60) scale(0.7 1)" font-size="10" font-weight="normal" font-style="normal" text-anchor="end" letter-spacing="0.866" dx="0.866" fill="#352f2e" stroke="#352f2e" stroke-width="0.1">AK11346</text>
<rect x="565" y="881.6" width="7.4" height="26.8" fill="#4a5444"/>
<line x1="569" y1="881" x2="606" y2="812" stroke="#3e3a39" stroke-width="0.7"/>
<text transform="translate(706.00 854.80) scale(0.7 1)" font-size="10" font-weight="bold" font-style="normal" text-anchor="end" letter-spacing="0.677" dx="0.677" fill="#231815" stroke="#231815" stroke-width="0.25">CLEAR RED</text>
<text transform="translate(706.00 864.40) scale(0.7 1)" font-size="10" font-weight="normal" font-style="normal" text-anchor="end" letter-spacing="1.001" dx="1.001" fill="#352f2e" stroke="#352f2e" stroke-width="0.1">RC821</text>
<text transform="translate(706.00 874.00) scale(0.7 1)" font-size="10" font-weight="normal" font-style="normal" text-anchor="end" letter-spacing="0.866" dx="0.866" fill="#352f2e" stroke="#352f2e" stroke-width="0.1">AK11213</text>
<rect x="710" y="847" width="7" height="27" fill="#e0001b"/>
<line x1="714" y1="847" x2="725" y2="797" stroke="#3e3a39" stroke-width="0.7"/>
<text transform="translate(706.40 899.80) scale(0.7 1)" font-size="10" font-weight="bold" font-style="normal" text-anchor="end" letter-spacing="0.576" dx="0.576" fill="#231815" stroke="#231815" stroke-width="0.25">SAND FS 30277</text>
<text transform="translate(706.40 909.40) scale(0.7 1)" font-size="10" font-weight="normal" font-style="normal" text-anchor="end" letter-spacing="1.001" dx="1.001" fill="#352f2e" stroke="#352f2e" stroke-width="0.1">RC896</text>
<text transform="translate(706.40 919.00) scale(0.7 1)" font-size="10" font-weight="normal" font-style="normal" text-anchor="end" letter-spacing="0.866" dx="0.866" fill="#352f2e" stroke="#352f2e" stroke-width="0.1">AK11343</text>
<rect x="710" y="892" width="7" height="26" fill="#c6b08e"/>
<line x1="714" y1="891" x2="777" y2="789" stroke="#3e3a39" stroke-width="0.7"/>
<text transform="translate(829.00 884.80) scale(0.7 1)" font-size="10" font-weight="bold" font-style="normal" text-anchor="end" letter-spacing="0.599" dx="0.599" fill="#231815" stroke="#231815" stroke-width="0.25">LIGHT GREEN FS</text>
<text transform="translate(829.00 894.40) scale(0.7 1)" font-size="10" font-weight="bold" font-style="normal" text-anchor="end" letter-spacing="0.646" dx="0.646" fill="#231815" stroke="#231815" stroke-width="0.25">34151</text>
<text transform="translate(829.00 904.00) scale(0.7 1)" font-size="10" font-weight="normal" font-style="normal" text-anchor="end" letter-spacing="1.001" dx="1.001" fill="#352f2e" stroke="#352f2e" stroke-width="0.1">RC906</text>
<text transform="translate(829.00 913.60) scale(0.7 1)" font-size="10" font-weight="normal" font-style="normal" text-anchor="end" letter-spacing="0.866" dx="0.866" fill="#352f2e" stroke="#352f2e" stroke-width="0.1">AK11335</text>
<rect x="833.6" y="881.6" width="6.4" height="27.4" fill="#6a6530"/>
<line x1="837" y1="881" x2="866" y2="784" stroke="#3e3a39" stroke-width="0.7"/>
<text transform="translate(923.00 889.80) scale(0.7 1)" font-size="10" font-weight="bold" font-style="normal" text-anchor="start" letter-spacing="0.673" dx="0.000" fill="#231815" stroke="#231815" stroke-width="0.25">NATO BLACK</text>
<text transform="translate(923.00 899.40) scale(0.7 1)" font-size="10" font-weight="normal" font-style="normal" text-anchor="start" letter-spacing="1.001" dx="0.000" fill="#352f2e" stroke="#352f2e" stroke-width="0.1">RC888</text>
<text transform="translate(923.00 909.00) scale(0.7 1)" font-size="10" font-weight="normal" font-style="normal" text-anchor="start" letter-spacing="0.866" dx="0.000" fill="#352f2e" stroke="#352f2e" stroke-width="0.1">AK11360</text>
<rect x="911.6" y="881.6" width="6.4" height="27.4" fill="#2e2e2e"/>
<line x1="915" y1="881" x2="888" y2="762" stroke="#3e3a39" stroke-width="0.7"/>
</svg></body></html>
